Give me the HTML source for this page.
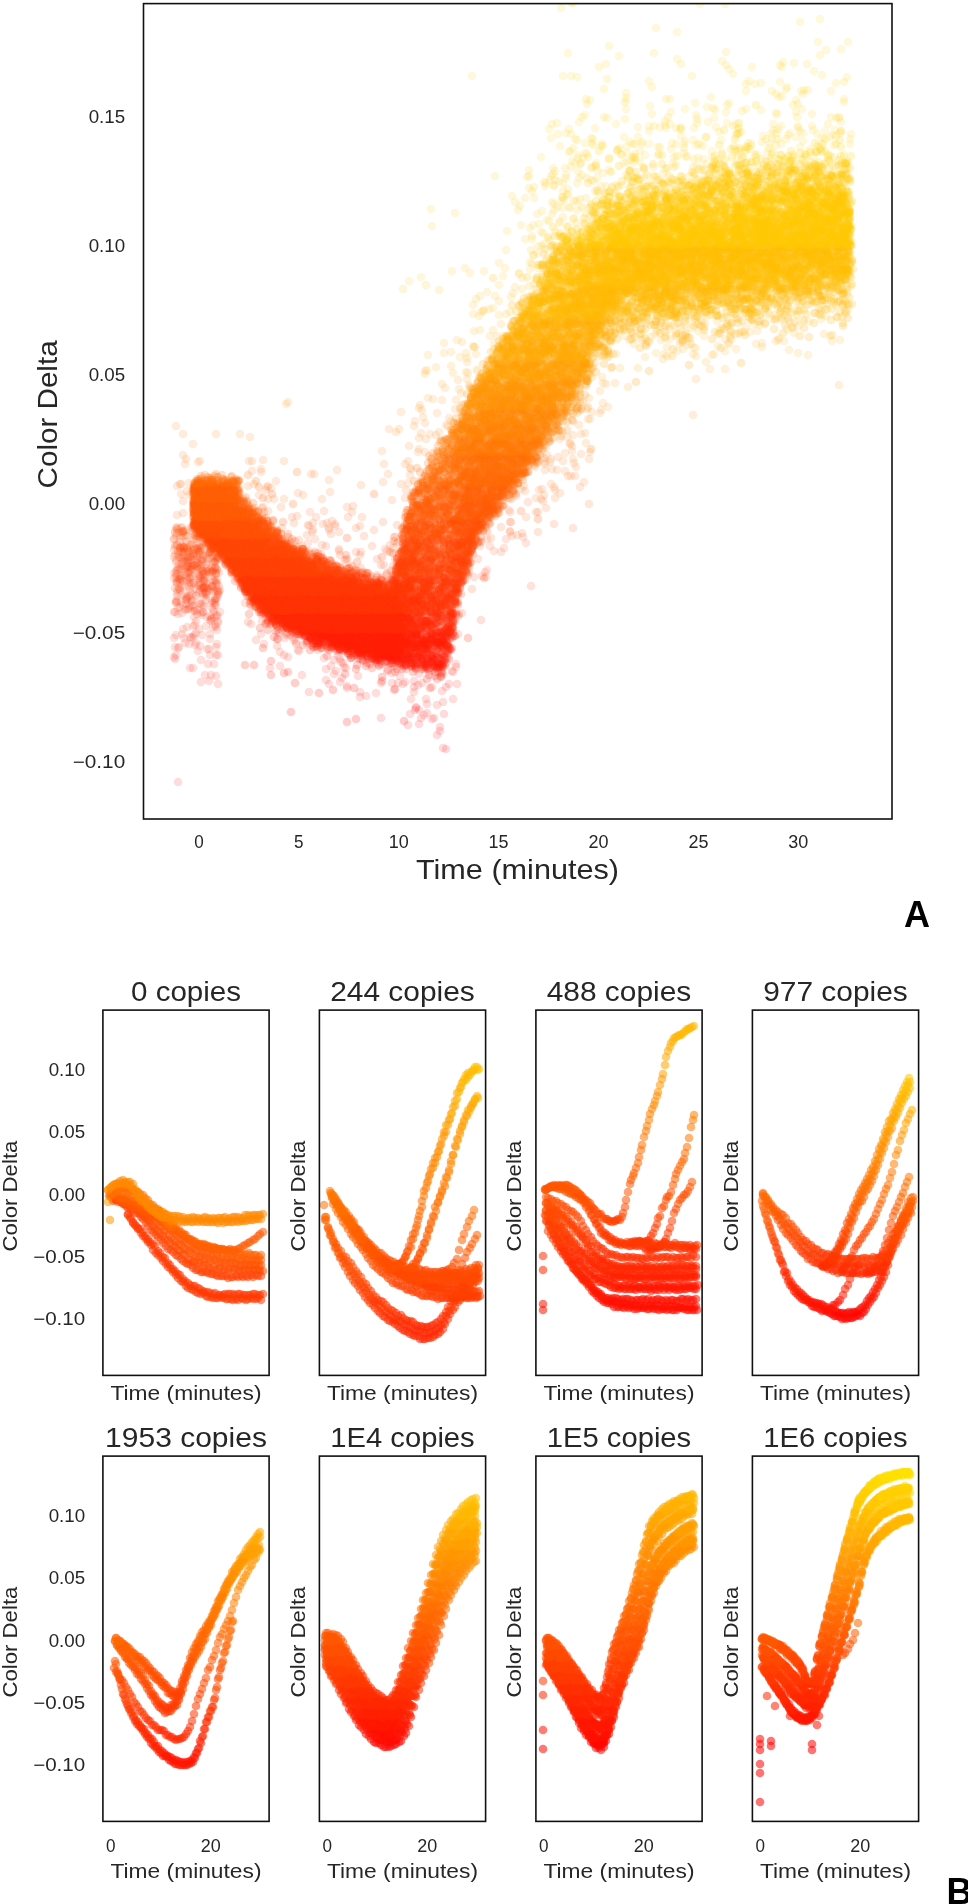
<!DOCTYPE html>
<html><head><meta charset="utf-8"><style>
html,body{margin:0;padding:0;background:#fff;}
svg{display:block;filter:blur(0.5px);}
text{font-family:"Liberation Sans",sans-serif;fill:#262626;}
.tk{font-size:18px;}
.lA{font-size:28px;}
.lB{font-size:21px;}
.ti{font-size:27px;}
.big{font-size:36px;font-weight:bold;fill:#000;}
.fr{fill:none;stroke:#111;stroke-width:1.6;}
.p{fill:none;stroke:none;}
</style></head><body>
<svg width="968" height="1904" viewBox="0 0 968 1904">
<defs>
<clipPath id="cA"><rect x="143.5" y="3.6" width="748.5" height="815.4"/></clipPath>
<clipPath id="c0"><rect x="102.9" y="1010.1" width="166.2" height="365.3"/></clipPath>
<clipPath id="c1"><rect x="319.4" y="1010.1" width="166.2" height="365.3"/></clipPath>
<clipPath id="c2"><rect x="535.9" y="1010.1" width="166.2" height="365.3"/></clipPath>
<clipPath id="c3"><rect x="752.4" y="1010.1" width="166.2" height="365.3"/></clipPath>
<clipPath id="c4"><rect x="102.9" y="1456.1" width="166.2" height="365.3"/></clipPath>
<clipPath id="c5"><rect x="319.4" y="1456.1" width="166.2" height="365.3"/></clipPath>
<clipPath id="c6"><rect x="535.9" y="1456.1" width="166.2" height="365.3"/></clipPath>
<clipPath id="c7"><rect x="752.4" y="1456.1" width="166.2" height="365.3"/></clipPath>
<marker id="a1" markerUnits="userSpaceOnUse" markerWidth="10" markerHeight="10" refX="5" refY="5" overflow="visible"><circle cx="5" cy="5" r="4.30" fill="rgb(255,8,0)" fill-opacity="0.200"/></marker>
<marker id="a2" markerUnits="userSpaceOnUse" markerWidth="10" markerHeight="10" refX="5" refY="5" overflow="visible"><circle cx="5" cy="5" r="4.30" fill="rgb(255,16,0)" fill-opacity="0.200"/></marker>
<marker id="a3" markerUnits="userSpaceOnUse" markerWidth="10" markerHeight="10" refX="5" refY="5" overflow="visible"><circle cx="5" cy="5" r="4.30" fill="rgb(255,24,0)" fill-opacity="0.200"/></marker>
<marker id="a4" markerUnits="userSpaceOnUse" markerWidth="10" markerHeight="10" refX="5" refY="5" overflow="visible"><circle cx="5" cy="5" r="4.30" fill="rgb(255,32,0)" fill-opacity="0.200"/></marker>
<marker id="a5" markerUnits="userSpaceOnUse" markerWidth="10" markerHeight="10" refX="5" refY="5" overflow="visible"><circle cx="5" cy="5" r="4.30" fill="rgb(255,40,0)" fill-opacity="0.200"/></marker>
<marker id="a6" markerUnits="userSpaceOnUse" markerWidth="10" markerHeight="10" refX="5" refY="5" overflow="visible"><circle cx="5" cy="5" r="4.30" fill="rgb(255,48,0)" fill-opacity="0.200"/></marker>
<marker id="a7" markerUnits="userSpaceOnUse" markerWidth="10" markerHeight="10" refX="5" refY="5" overflow="visible"><circle cx="5" cy="5" r="4.30" fill="rgb(255,56,0)" fill-opacity="0.200"/></marker>
<marker id="a8" markerUnits="userSpaceOnUse" markerWidth="10" markerHeight="10" refX="5" refY="5" overflow="visible"><circle cx="5" cy="5" r="4.30" fill="rgb(255,64,0)" fill-opacity="0.200"/></marker>
<marker id="a9" markerUnits="userSpaceOnUse" markerWidth="10" markerHeight="10" refX="5" refY="5" overflow="visible"><circle cx="5" cy="5" r="4.30" fill="rgb(255,72,0)" fill-opacity="0.200"/></marker>
<marker id="a10" markerUnits="userSpaceOnUse" markerWidth="10" markerHeight="10" refX="5" refY="5" overflow="visible"><circle cx="5" cy="5" r="4.30" fill="rgb(255,80,0)" fill-opacity="0.200"/></marker>
<marker id="a11" markerUnits="userSpaceOnUse" markerWidth="10" markerHeight="10" refX="5" refY="5" overflow="visible"><circle cx="5" cy="5" r="4.30" fill="rgb(255,88,0)" fill-opacity="0.200"/></marker>
<marker id="a12" markerUnits="userSpaceOnUse" markerWidth="10" markerHeight="10" refX="5" refY="5" overflow="visible"><circle cx="5" cy="5" r="4.30" fill="rgb(255,96,0)" fill-opacity="0.200"/></marker>
<marker id="a13" markerUnits="userSpaceOnUse" markerWidth="10" markerHeight="10" refX="5" refY="5" overflow="visible"><circle cx="5" cy="5" r="4.30" fill="rgb(255,104,0)" fill-opacity="0.200"/></marker>
<marker id="a14" markerUnits="userSpaceOnUse" markerWidth="10" markerHeight="10" refX="5" refY="5" overflow="visible"><circle cx="5" cy="5" r="4.30" fill="rgb(255,112,0)" fill-opacity="0.200"/></marker>
<marker id="a15" markerUnits="userSpaceOnUse" markerWidth="10" markerHeight="10" refX="5" refY="5" overflow="visible"><circle cx="5" cy="5" r="4.30" fill="rgb(255,120,0)" fill-opacity="0.200"/></marker>
<marker id="a16" markerUnits="userSpaceOnUse" markerWidth="10" markerHeight="10" refX="5" refY="5" overflow="visible"><circle cx="5" cy="5" r="4.30" fill="rgb(255,128,0)" fill-opacity="0.200"/></marker>
<marker id="a17" markerUnits="userSpaceOnUse" markerWidth="10" markerHeight="10" refX="5" refY="5" overflow="visible"><circle cx="5" cy="5" r="4.30" fill="rgb(255,136,0)" fill-opacity="0.200"/></marker>
<marker id="a18" markerUnits="userSpaceOnUse" markerWidth="10" markerHeight="10" refX="5" refY="5" overflow="visible"><circle cx="5" cy="5" r="4.30" fill="rgb(255,144,0)" fill-opacity="0.200"/></marker>
<marker id="a19" markerUnits="userSpaceOnUse" markerWidth="10" markerHeight="10" refX="5" refY="5" overflow="visible"><circle cx="5" cy="5" r="4.30" fill="rgb(255,152,0)" fill-opacity="0.200"/></marker>
<marker id="a20" markerUnits="userSpaceOnUse" markerWidth="10" markerHeight="10" refX="5" refY="5" overflow="visible"><circle cx="5" cy="5" r="4.30" fill="rgb(255,160,0)" fill-opacity="0.200"/></marker>
<marker id="a21" markerUnits="userSpaceOnUse" markerWidth="10" markerHeight="10" refX="5" refY="5" overflow="visible"><circle cx="5" cy="5" r="4.30" fill="rgb(255,168,0)" fill-opacity="0.200"/></marker>
<marker id="a22" markerUnits="userSpaceOnUse" markerWidth="10" markerHeight="10" refX="5" refY="5" overflow="visible"><circle cx="5" cy="5" r="4.30" fill="rgb(255,176,0)" fill-opacity="0.200"/></marker>
<marker id="a23" markerUnits="userSpaceOnUse" markerWidth="10" markerHeight="10" refX="5" refY="5" overflow="visible"><circle cx="5" cy="5" r="4.30" fill="rgb(255,184,0)" fill-opacity="0.200"/></marker>
<marker id="a24" markerUnits="userSpaceOnUse" markerWidth="10" markerHeight="10" refX="5" refY="5" overflow="visible"><circle cx="5" cy="5" r="4.30" fill="rgb(255,192,0)" fill-opacity="0.200"/></marker>
<marker id="a25" markerUnits="userSpaceOnUse" markerWidth="10" markerHeight="10" refX="5" refY="5" overflow="visible"><circle cx="5" cy="5" r="4.30" fill="rgb(255,200,0)" fill-opacity="0.200"/></marker>
<marker id="a26" markerUnits="userSpaceOnUse" markerWidth="10" markerHeight="10" refX="5" refY="5" overflow="visible"><circle cx="5" cy="5" r="4.30" fill="rgb(255,208,0)" fill-opacity="0.200"/></marker>
<marker id="o1" markerUnits="userSpaceOnUse" markerWidth="10" markerHeight="10" refX="5" refY="5" overflow="visible"><circle cx="5" cy="5" r="4.30" fill="rgb(255,8,0)" fill-opacity="0.140"/></marker>
<marker id="o2" markerUnits="userSpaceOnUse" markerWidth="10" markerHeight="10" refX="5" refY="5" overflow="visible"><circle cx="5" cy="5" r="4.30" fill="rgb(255,16,0)" fill-opacity="0.140"/></marker>
<marker id="o3" markerUnits="userSpaceOnUse" markerWidth="10" markerHeight="10" refX="5" refY="5" overflow="visible"><circle cx="5" cy="5" r="4.30" fill="rgb(255,24,0)" fill-opacity="0.140"/></marker>
<marker id="o4" markerUnits="userSpaceOnUse" markerWidth="10" markerHeight="10" refX="5" refY="5" overflow="visible"><circle cx="5" cy="5" r="4.30" fill="rgb(255,32,0)" fill-opacity="0.140"/></marker>
<marker id="o5" markerUnits="userSpaceOnUse" markerWidth="10" markerHeight="10" refX="5" refY="5" overflow="visible"><circle cx="5" cy="5" r="4.30" fill="rgb(255,40,0)" fill-opacity="0.140"/></marker>
<marker id="o6" markerUnits="userSpaceOnUse" markerWidth="10" markerHeight="10" refX="5" refY="5" overflow="visible"><circle cx="5" cy="5" r="4.30" fill="rgb(255,48,0)" fill-opacity="0.140"/></marker>
<marker id="o7" markerUnits="userSpaceOnUse" markerWidth="10" markerHeight="10" refX="5" refY="5" overflow="visible"><circle cx="5" cy="5" r="4.30" fill="rgb(255,56,0)" fill-opacity="0.140"/></marker>
<marker id="o8" markerUnits="userSpaceOnUse" markerWidth="10" markerHeight="10" refX="5" refY="5" overflow="visible"><circle cx="5" cy="5" r="4.30" fill="rgb(255,64,0)" fill-opacity="0.140"/></marker>
<marker id="o9" markerUnits="userSpaceOnUse" markerWidth="10" markerHeight="10" refX="5" refY="5" overflow="visible"><circle cx="5" cy="5" r="4.30" fill="rgb(255,72,0)" fill-opacity="0.140"/></marker>
<marker id="o10" markerUnits="userSpaceOnUse" markerWidth="10" markerHeight="10" refX="5" refY="5" overflow="visible"><circle cx="5" cy="5" r="4.30" fill="rgb(255,80,0)" fill-opacity="0.140"/></marker>
<marker id="o11" markerUnits="userSpaceOnUse" markerWidth="10" markerHeight="10" refX="5" refY="5" overflow="visible"><circle cx="5" cy="5" r="4.30" fill="rgb(255,88,0)" fill-opacity="0.140"/></marker>
<marker id="o12" markerUnits="userSpaceOnUse" markerWidth="10" markerHeight="10" refX="5" refY="5" overflow="visible"><circle cx="5" cy="5" r="4.30" fill="rgb(255,96,0)" fill-opacity="0.140"/></marker>
<marker id="o13" markerUnits="userSpaceOnUse" markerWidth="10" markerHeight="10" refX="5" refY="5" overflow="visible"><circle cx="5" cy="5" r="4.30" fill="rgb(255,104,0)" fill-opacity="0.140"/></marker>
<marker id="o14" markerUnits="userSpaceOnUse" markerWidth="10" markerHeight="10" refX="5" refY="5" overflow="visible"><circle cx="5" cy="5" r="4.30" fill="rgb(255,112,0)" fill-opacity="0.140"/></marker>
<marker id="o15" markerUnits="userSpaceOnUse" markerWidth="10" markerHeight="10" refX="5" refY="5" overflow="visible"><circle cx="5" cy="5" r="4.30" fill="rgb(255,120,0)" fill-opacity="0.140"/></marker>
<marker id="o16" markerUnits="userSpaceOnUse" markerWidth="10" markerHeight="10" refX="5" refY="5" overflow="visible"><circle cx="5" cy="5" r="4.30" fill="rgb(255,128,0)" fill-opacity="0.140"/></marker>
<marker id="o17" markerUnits="userSpaceOnUse" markerWidth="10" markerHeight="10" refX="5" refY="5" overflow="visible"><circle cx="5" cy="5" r="4.30" fill="rgb(255,136,0)" fill-opacity="0.140"/></marker>
<marker id="o18" markerUnits="userSpaceOnUse" markerWidth="10" markerHeight="10" refX="5" refY="5" overflow="visible"><circle cx="5" cy="5" r="4.30" fill="rgb(255,144,0)" fill-opacity="0.140"/></marker>
<marker id="o19" markerUnits="userSpaceOnUse" markerWidth="10" markerHeight="10" refX="5" refY="5" overflow="visible"><circle cx="5" cy="5" r="4.30" fill="rgb(255,152,0)" fill-opacity="0.140"/></marker>
<marker id="o20" markerUnits="userSpaceOnUse" markerWidth="10" markerHeight="10" refX="5" refY="5" overflow="visible"><circle cx="5" cy="5" r="4.30" fill="rgb(255,160,0)" fill-opacity="0.140"/></marker>
<marker id="o21" markerUnits="userSpaceOnUse" markerWidth="10" markerHeight="10" refX="5" refY="5" overflow="visible"><circle cx="5" cy="5" r="4.30" fill="rgb(255,168,0)" fill-opacity="0.140"/></marker>
<marker id="o22" markerUnits="userSpaceOnUse" markerWidth="10" markerHeight="10" refX="5" refY="5" overflow="visible"><circle cx="5" cy="5" r="4.30" fill="rgb(255,176,0)" fill-opacity="0.140"/></marker>
<marker id="o23" markerUnits="userSpaceOnUse" markerWidth="10" markerHeight="10" refX="5" refY="5" overflow="visible"><circle cx="5" cy="5" r="4.30" fill="rgb(255,184,0)" fill-opacity="0.140"/></marker>
<marker id="o24" markerUnits="userSpaceOnUse" markerWidth="10" markerHeight="10" refX="5" refY="5" overflow="visible"><circle cx="5" cy="5" r="4.30" fill="rgb(255,192,0)" fill-opacity="0.140"/></marker>
<marker id="o25" markerUnits="userSpaceOnUse" markerWidth="10" markerHeight="10" refX="5" refY="5" overflow="visible"><circle cx="5" cy="5" r="4.30" fill="rgb(255,200,0)" fill-opacity="0.140"/></marker>
<marker id="o26" markerUnits="userSpaceOnUse" markerWidth="10" markerHeight="10" refX="5" refY="5" overflow="visible"><circle cx="5" cy="5" r="4.30" fill="rgb(255,208,0)" fill-opacity="0.140"/></marker>
<marker id="s0" markerUnits="userSpaceOnUse" markerWidth="10" markerHeight="10" refX="5" refY="5" overflow="visible"><circle cx="5" cy="5" r="4.30" fill="rgb(255,0,0)" fill-opacity="0.55"/></marker>
<marker id="s1" markerUnits="userSpaceOnUse" markerWidth="10" markerHeight="10" refX="5" refY="5" overflow="visible"><circle cx="5" cy="5" r="4.30" fill="rgb(255,8,0)" fill-opacity="0.55"/></marker>
<marker id="s2" markerUnits="userSpaceOnUse" markerWidth="10" markerHeight="10" refX="5" refY="5" overflow="visible"><circle cx="5" cy="5" r="4.30" fill="rgb(255,16,0)" fill-opacity="0.55"/></marker>
<marker id="s3" markerUnits="userSpaceOnUse" markerWidth="10" markerHeight="10" refX="5" refY="5" overflow="visible"><circle cx="5" cy="5" r="4.30" fill="rgb(255,24,0)" fill-opacity="0.55"/></marker>
<marker id="s4" markerUnits="userSpaceOnUse" markerWidth="10" markerHeight="10" refX="5" refY="5" overflow="visible"><circle cx="5" cy="5" r="4.30" fill="rgb(255,32,0)" fill-opacity="0.55"/></marker>
<marker id="s5" markerUnits="userSpaceOnUse" markerWidth="10" markerHeight="10" refX="5" refY="5" overflow="visible"><circle cx="5" cy="5" r="4.30" fill="rgb(255,40,0)" fill-opacity="0.55"/></marker>
<marker id="s6" markerUnits="userSpaceOnUse" markerWidth="10" markerHeight="10" refX="5" refY="5" overflow="visible"><circle cx="5" cy="5" r="4.30" fill="rgb(255,48,0)" fill-opacity="0.55"/></marker>
<marker id="s7" markerUnits="userSpaceOnUse" markerWidth="10" markerHeight="10" refX="5" refY="5" overflow="visible"><circle cx="5" cy="5" r="4.30" fill="rgb(255,56,0)" fill-opacity="0.55"/></marker>
<marker id="s8" markerUnits="userSpaceOnUse" markerWidth="10" markerHeight="10" refX="5" refY="5" overflow="visible"><circle cx="5" cy="5" r="4.30" fill="rgb(255,64,0)" fill-opacity="0.55"/></marker>
<marker id="s9" markerUnits="userSpaceOnUse" markerWidth="10" markerHeight="10" refX="5" refY="5" overflow="visible"><circle cx="5" cy="5" r="4.30" fill="rgb(255,72,0)" fill-opacity="0.55"/></marker>
<marker id="s10" markerUnits="userSpaceOnUse" markerWidth="10" markerHeight="10" refX="5" refY="5" overflow="visible"><circle cx="5" cy="5" r="4.30" fill="rgb(255,80,0)" fill-opacity="0.55"/></marker>
<marker id="s11" markerUnits="userSpaceOnUse" markerWidth="10" markerHeight="10" refX="5" refY="5" overflow="visible"><circle cx="5" cy="5" r="4.30" fill="rgb(255,88,0)" fill-opacity="0.55"/></marker>
<marker id="s12" markerUnits="userSpaceOnUse" markerWidth="10" markerHeight="10" refX="5" refY="5" overflow="visible"><circle cx="5" cy="5" r="4.30" fill="rgb(255,96,0)" fill-opacity="0.55"/></marker>
<marker id="s13" markerUnits="userSpaceOnUse" markerWidth="10" markerHeight="10" refX="5" refY="5" overflow="visible"><circle cx="5" cy="5" r="4.30" fill="rgb(255,104,0)" fill-opacity="0.55"/></marker>
<marker id="s14" markerUnits="userSpaceOnUse" markerWidth="10" markerHeight="10" refX="5" refY="5" overflow="visible"><circle cx="5" cy="5" r="4.30" fill="rgb(255,112,0)" fill-opacity="0.55"/></marker>
<marker id="s15" markerUnits="userSpaceOnUse" markerWidth="10" markerHeight="10" refX="5" refY="5" overflow="visible"><circle cx="5" cy="5" r="4.30" fill="rgb(255,120,0)" fill-opacity="0.55"/></marker>
<marker id="s16" markerUnits="userSpaceOnUse" markerWidth="10" markerHeight="10" refX="5" refY="5" overflow="visible"><circle cx="5" cy="5" r="4.30" fill="rgb(255,128,0)" fill-opacity="0.55"/></marker>
<marker id="s17" markerUnits="userSpaceOnUse" markerWidth="10" markerHeight="10" refX="5" refY="5" overflow="visible"><circle cx="5" cy="5" r="4.30" fill="rgb(255,136,0)" fill-opacity="0.55"/></marker>
<marker id="s18" markerUnits="userSpaceOnUse" markerWidth="10" markerHeight="10" refX="5" refY="5" overflow="visible"><circle cx="5" cy="5" r="4.30" fill="rgb(255,144,0)" fill-opacity="0.55"/></marker>
<marker id="s19" markerUnits="userSpaceOnUse" markerWidth="10" markerHeight="10" refX="5" refY="5" overflow="visible"><circle cx="5" cy="5" r="4.30" fill="rgb(255,152,0)" fill-opacity="0.55"/></marker>
<marker id="s20" markerUnits="userSpaceOnUse" markerWidth="10" markerHeight="10" refX="5" refY="5" overflow="visible"><circle cx="5" cy="5" r="4.30" fill="rgb(255,160,0)" fill-opacity="0.55"/></marker>
<marker id="s21" markerUnits="userSpaceOnUse" markerWidth="10" markerHeight="10" refX="5" refY="5" overflow="visible"><circle cx="5" cy="5" r="4.30" fill="rgb(255,168,0)" fill-opacity="0.55"/></marker>
<marker id="s22" markerUnits="userSpaceOnUse" markerWidth="10" markerHeight="10" refX="5" refY="5" overflow="visible"><circle cx="5" cy="5" r="4.30" fill="rgb(255,176,0)" fill-opacity="0.55"/></marker>
<marker id="s23" markerUnits="userSpaceOnUse" markerWidth="10" markerHeight="10" refX="5" refY="5" overflow="visible"><circle cx="5" cy="5" r="4.30" fill="rgb(255,184,0)" fill-opacity="0.55"/></marker>
<marker id="s24" markerUnits="userSpaceOnUse" markerWidth="10" markerHeight="10" refX="5" refY="5" overflow="visible"><circle cx="5" cy="5" r="4.30" fill="rgb(255,192,0)" fill-opacity="0.55"/></marker>
<marker id="s25" markerUnits="userSpaceOnUse" markerWidth="10" markerHeight="10" refX="5" refY="5" overflow="visible"><circle cx="5" cy="5" r="4.30" fill="rgb(255,200,0)" fill-opacity="0.55"/></marker>
<marker id="s26" markerUnits="userSpaceOnUse" markerWidth="10" markerHeight="10" refX="5" refY="5" overflow="visible"><circle cx="5" cy="5" r="4.30" fill="rgb(255,208,0)" fill-opacity="0.55"/></marker>
<marker id="s27" markerUnits="userSpaceOnUse" markerWidth="10" markerHeight="10" refX="5" refY="5" overflow="visible"><circle cx="5" cy="5" r="4.30" fill="rgb(255,216,0)" fill-opacity="0.55"/></marker>
<marker id="s28" markerUnits="userSpaceOnUse" markerWidth="10" markerHeight="10" refX="5" refY="5" overflow="visible"><circle cx="5" cy="5" r="4.30" fill="rgb(255,224,0)" fill-opacity="0.55"/></marker>
</defs>
<g clip-path="url(#cA)">
<path class="p" style="marker:url(#a1)" d="M404 721M347 722M291 712M356 719"/>
<path class="p" style="marker:url(#a2)" d="M354 688M333 690M395 689M382 681M295 683M319 693M430 688M427 679M437 679"/>
<path class="p" style="marker:url(#a3)" d="M356 669M254 665M366 666M372 668M368 659M360 654M327 656M362 654M345 674M245 665M419 656M385 662M393 663M288 672M284 673M372 655M400 655M396 656M367 656M383 655M392 660M400 659M416 669M357 665M381 656M391 657M378 655M391 656l6-1M384 655M401 654M351 658M377 654l5 23M396 658l6 4 5-7M432 656M432 655l4 2M351 658M382 654M411 654M389 657l6 1M434 659M357 655M430 654M386 655M395 655M430 661M439 659M392 655M406 655l6 2M423 661l5 0 6-1 2-6 6 9M367 657M376 660l6-6 5 7 4 3 6-3 4 2 6-4 4 0 6-2 4-2 5 10 6-6 5-3M374 654M384 655M406 658M428 659l6-5 6 4M379 657l2 1M438 658M388 657l4-2 5 3M411 654M422 655M432 658l5 5 5-3M393 654M403 659l4 1 5 3 6-6 5 2 4 5 6 1 5 0 3-6 6-1M363 660l4 3 5-4 5-1 6-2 4 1M399 661l3 8 3-9 6 5M423 665l3-6 8 5 3-6 5 9M401 656M411 658M426 665l5-8 4 10 6-2 3-8M271 675M366 655l4 9M384 656l7 0 3-1 6 9 4-6 6 2 5 5 6-6 4 8M435 665l3-2 7 3M375 659M383 658l7 5 2-5M404 666l4-10 5 7 6-7 5 8 4-6 4 4 7 2 5-9 5 4M409 655l6 5 4-5 5 14M435 672l5-6 3-12M376 657M386 662l5-2 5 0M406 669M421 665l5-10 5 7 7 10 3-6 4-8M271 661M361 659M374 656l3 7 5-8 6 2M397 661l5-5 6 1 5 0 4 6 6-7 4 11 5-11 5 11 4-3M378 659M393 654l5 9 4-4 5 6 6-1 3 4 7-5 4-2 4 1 8 3 3 7M379 660l6-4M393 659M408 660l5-2 5 5 4-4 6 5 5-3 5 6 5 0M350 655M371 656l4 4 6 1M395 658l5-2 5 6 6 4 4-1 6-2 5 5 4 0 5-1 6 10 3-16M375 657l5 1 5-2 5 0 4 10 6-10 5 8 5-1 6-5 4 3 5-5 4 19 6 1 6 0 4-16M353 656M368 657l5 1 6 7 3-1M394 660l3 9 8-4 5-2 3 9 3-12 7 7 6 4 5-5 3 2 6-4M361 656l5-1 6 3 4 3M388 670l3-13 4 15 7-9 4 2 6 2 3 0 6 2M433 664M441 673l5-10M379 655M389 656M398 657l5 1 7 0 5-3 3 9 6-3 4 8 5-1 6 0 4-3"/>
<path class="p" style="marker:url(#a4)" d="M391 638M406 636M392 634M376 652M374 638M391 631M304 636M443 637M355 647M374 632M310 650M386 631M374 632M391 636M377 632M374 630M384 635M386 634l3 0 7-2M328 644M373 645M385 631M389 631M338 647M385 632M379 632M376 634M401 634M367 632l4 3M392 631M384 635M375 635M391 634M381 638M391 633M369 636l7 0M385 634M373 631M394 643M443 634M377 635l5-3M392 640l3-2M350 633M366 631M380 631M376 637M385 630l6 3M359 630M384 631M367 631l5-1 5 1 5 3 6 1 3-1M349 631M363 635l6-1 5-3 4 11M388 632l6 7M352 630M369 631M377 632M386 636l7-4M382 640l4-6M380 636l6-1 5-4M344 640M379 635l4-1 5-4M373 634l7-2 5 1 4 1M371 636l5-3M387 637M357 633M377 637l6 1 4-1 6-6M384 643l5-7M313 643M348 639l6-7 6 4 4-3 6 7 4-6 5 7 7-2 3-4 5 6 6-4M339 639l7-5 3 0 4-1 6 0 5-1M375 643l4 2 5-11 4 3 6 1 6-6M351 634l6 0M366 630l6 9 4-2 6-1 3 6M396 637M373 630l5 1 4 1M393 632l4 3M406 637M357 630l6 1 5 3 4-1 6 5 5-1 4-6 7 8M363 631l3 0M381 632l7 2 2-1M366 632l5 2 5 2M432 640M364 635M385 635l5 0M400 634M380 638l5-3 6-2 4 1M314 636M361 631M374 636l6-5 5 13M394 635M345 634M359 634l5-2M379 634l5 4 5 0M365 636l7-2 5 2 5-1 3 6 6 3 6-9 5-2M344 631M374 633M383 633l6 0 3 6M362 633M371 632M382 637l4-2M396 638M358 637l3 0 6-4 5-1 4 7 7-5 4-2 4 13M367 631l4 0 6 7 5-6 4 0 6 9M334 638l6-4 6 2 4 0M361 636M370 632l5 1 6 11 6-1 2-9 5 3 6 0M373 635l6 0 5-1M393 635M346 639M359 633l6 3 5 5 5-3 5-7 4 2 7 9M399 639M343 637M351 631l6 5 5-1M373 636l5 4 4-8 5 7 6 0M329 631M345 634M360 640l5-7M375 633l5-1M396 641M336 634M349 634l6-2 5 3M371 640l3 2 5-4 4 7 6-5 6-1M404 631M338 631l7 0M354 631l5 4 5 2 5 7 5 0 5-6M389 649M398 633l7 11 3-11M341 635l5 3 5 8 5 0 6-8 3-5 8 21 3-11 5 2 5 1 5-3 5 0 6-11M330 640M340 632l5 4M352 636l7 1M371 636l4-4 4 7 4-5 7 16 4-7 4-8 5 1M438 633M336 636M346 630l5 6 6-5 4 2 5 7 3-6 7-3 6 6 4 9 5-1 3-13M263 648M338 633M352 633M363 642M372 635l7 7 4-3 4-2M402 631M354 631l5-1 5 4M373 636l5 3M388 643M399 635M414 632M341 634M353 640l4-7 5 3 4-1 5 11 4-6 6 9 5-8 5 4 4-4 6-5 6-4 4 2M431 633M339 637l4-3 5-2 6 4 3-1 5-2 6 4 5 1M382 641l7 5 4-10 4-4M408 633M332 632l5 13M353 637l4-3 3 4M373 637l4-1 5 5 6-3 5-2 3 1 6-4M427 631M334 633M348 634l4 6 7 1 3-4 5 8 5-6 6 7 4-4 5 3 6 5 5-7 4-9 6 0 3-2 6 1 6 9 4-6 5-2 5-2 5 0M327 632l4-1M340 635l7 0 4 6 4-5 6-1 6-3 4 2 5 0 5 12 4-12 4 7 7-7M332 634l4 1 7-3 5-2 3 4 6 0 5 13 7-6 2 0 6 6 5-3 5 8 4-6 6-9 4 9 7-3M416 635l6-2M432 631M323 634M335 641M350 638l4 0 6 6 6-7M375 643l4 3 6 1 3-1 6 2 6 2 4-13M415 634l4 5 7 1 4 0 6-2 4-7M321 631l5 3M335 633M348 631l4 8 4-3 5 4 5-3 3-3 5 5 8 8 4-6 4 1 5-4 7 1 5 5 4-7 6 7 5-11M431 633l6-1 4 4 5-2M326 630l5 4 6 3 5 6 4 0 5-6 4 7 7 0 5-2M376 645l4-5 6 4 5 4 6-1 5-11 5 2 3-4 6-3 4 3M430 633l7 12M334 636M351 637l3-3 6 4 5-1 4 6 6-3 5 7 4 0 7 1 3 2 5-7 5 3 5-6 3-7 7 11 6 4 4-3 5-2 5-2 7-4M331 631M340 638l7-2 4 3 5-2 6 1 4 2 5 7 5-8 5 0 4-1 7 9 5-7 4 2 5-3 6-5 4 0M426 638M440 633M345 634l6-3 4 3 6 6 5 0 6 6 2-3 7 2 4-4 5 7 6 5M405 644l5 1M420 635l7 14 4-9 4-4 6 9M320 637l5 2 4-7 6 7 5 0M350 642l5-7 5 3 5-2 5 11 6-3 4-4 5 7 4 5 5-7 7 5 5-7 4-6 6-1 4-5M428 647l7-14 5 4 5-3M327 631M336 631l6 0 4 4 5 5 6 0 4 5 5-1 5 7 5 1 5-6 6-5 3 3M401 641l6-5 4 5 5-6 6 8 4 2 6-11 4 0 6-1 4 3M337 631l6 1 5 0 4 4 5 2 5-6 5 8 6 8 4-6 5 3 4 1 6 0 4-3 7-2 5-8 6 3 4 4 5-9 3 6M443 631M322 633l5 0 5 0 6 8 4-8 6 11 5 4 4-3 5 1M370 643l9-6M386 647M397 648l5 3 5-5 6-5 4-7 6 6 3 5 6-4 5 0 5-5M309 631M344 635M354 636M364 635l5-1 4 7 5-1 5 1 4 3 7-8 5 1 3 2 5 1 7-8 3 2 5 5 4 1 6-3 8 7 3-4M320 633l4 4 6-2 5 4 6-6 4 14 4 0 6-2 4 5 5-7 7 6 5 0 4 1 4 2 6-4 5 0M406 642l6-2 3-4 6 5 3-1 6-3 4 0 5-5 5 0M316 637M326 631l6-1 3 7 7-2 4 14 5-8 7 7 4-5 5-1 5 6 4-5 7 5 4 3 5-1 6 1 4-12 5 4 5-4M422 641l4 2 6 0 3 3 7-6M311 640l6-9 6 0 4 5 7-3M341 631M352 636M366 644l6-2 6-7M388 647l4 0 5-5 4-2 6 6 4-12 5 1 6 3 6-3 3 8 7-5 5 2M305 635M320 634M331 634l4 4 3 0 7-2 5 9 5-2 6 5 4 3 7-11 4 2M386 645M394 641l7 11 6-8 3-4 5 6M424 649l6-17 5 9 4 7M274 637M333 636l5-4M349 640l5-5 5 8 4 1 6 6 4-5 5-4 5 7 6 2 4 1 5-7 6 1M414 644l7-1 2 4 6-11 5 5 5 2 5 1M312 631M331 630M343 644l5-5 5-8M361 637l6 9 6-2M382 652l5-7 7 0 3-5 6 9M413 648l3-4 8 2 3-7 5 1 6-4 3 3M305 631l6 1 4 3M326 633l6-1 5 8M347 639l5 1M362 646l5 4 3-1 6-1 5-9 5 9M401 650l5 3 5-8 4-1 7 4 5 1 4-6 5 7 6-4 3-11M308 631M316 631l5 0 6 2 6 9 3 1 7-6 4 3 5 6 4-5 7 6 5-3 5 1 5 7 3 1 7-5 5-3 3 5 5-10 6 2 5 1 5-7 3 5 7 2 5-4 5-2 5 5 6-10M320 630M330 636M345 632l5 3 5 1 5 4 4 5 5-4 3 11 8-6M395 650l4-5 4-4 6 9 6-7 5 1 4-3 6-2 5 3 2 1 6-2 6-8M328 635l8 5 4-5 4-3 6 15 6-4 3 4 6-1 4-5 6 5 5-6 4 6 7 1 3 3M404 642l4 0 7 5 4 0 5-4 5 6 6-8 4 5 4-4M309 633M318 633l5 0 6 1 4 0 6 6 4 5 6 3 5-14 4 10 5-2 5-2 6-2 5 6 3 0 8 0 3 1 4 6 7-13 4 2 5 3 5 3 6-1 4 3 6-2 4-3 4-1 5-10M301 635M313 636l3 5 6 7M331 643l7 1 4-4 4 6M359 652l3-8 6 4 5 5M386 650l6 2M412 644l5-5 5 1 5 5M438 642l4 5 5-11M302 631l4-1 6 2 4 9 6-5 8 2 3-3 3 9 9-1 2 6 4-13 5 16 5-6 5 7 5 0 5-3 5 2 5 0 6-3 5-3 5-4 4 10 4 1 7-14 5 9 5-2 5 3 5 2 5-5 6 0M276 631M306 632M316 633l5 5 5-5 5 4 4-2 5-5 6 6 5-1 6 4 4 9 6-9 5 2 4 2 4 1 6 2 5 5M400 649l5-4 5 2 6-3 4 2 6 3M440 643l6-4 4-7M307 643l3-6 7 4 5-4 4-4 5 6 5 2 5 3 5 0M355 640M366 646l5 1 5-8M387 644l3 1 6 8 5-11 4 2M416 647l6-2 4 6M436 643l5 4 5-2M309 636l5 11 6-4 4-2 5-5 6 9 4 5 4-8 5 12 5-3 5 2M368 648l5 1 4 1 7 0M399 651l4 3 7-2 4-4 4 4 6 1 6-3M438 648l7-3 3-1M316 644l5 1 4-9 6 7 4 0 5 6 4 1 7-8M360 648l5 1 4-7 6 5 7 5 5-2 3-5 5 6 5-5 8 4 3-9 3 6 6 6 5-10M435 630l5 13 4 0M310 632l5-1 6 3M331 633l4 5 6-1 3 5 7-6 5 8 4 1 6 5 5-10 5 11 3 2M390 649M400 643l6-2 4 9 5 3 6-1 5-11M435 646M445 643l5-12M322 634l4 3 7 1 3-4 8 3 4 6 6 3 3 1 6-11 5-1 5 10 4 7 5-6 6 7M399 650l4 3M418 648M448 651M318 633l4 0 4 3 6 2 3 4 7-5 4 3 5 4 7 2 3-4M373 653M441 654l6-8 4-11M323 633l6-1 5 4 4 0 7-1 3 9 6-9 5 12 3 2 6 4M377 651M390 649l5-1 3 0M410 646l4 7 3-6 7 6M443 651l6-12M308 636l3 1 6 6 5-4 6 8 4-6 6 7 6-9 4 6 4 1 5 4 6-7 5-5 6 6M388 649l4-3 7 5 5-5 3 1 5 0 5 0 6 0 5-3 5 8M441 652l6-7M321 631l7 4 3-2 7 7 4-3 5-5 6 8 3-4 7 16 5-13 4 8 5-1 5 6M402 647l6 6M418 653M427 652M446 651M292 632M314 634l4 6 3-3 7-2 4 7 5 4 5 1 4-13 6 12 5 3 4 4 7-5 5-2 3 4 7-10M398 649M452 638M312 637l5 9 4-12 8 0 3 4 6 6M348 653l4-12 5 7M393 654M417 650M447 645l4-8M296 634M306 636M314 640l5 1 6-8 7 4 3 0 6-4M349 637l6 9 6-10 5 7 6 6 4 3 4 0 4-3 8-2 2 5M406 650M414 648l5 4M449 647M310 638l5-2 4-3 6 3 5 11 5-1 6 2 5 1 4 2 6 3 3-4M375 647l5 6M450 649M268 630M313 632l6 2 4 7 5-6 5 1 5-1 5 7 5 2 4-5 6 2 5 10 6-2M377 649M398 652M314 632l7 5 2-3 7 3 5-3 4 0 5 8 5 0 6 1 4 3 6 4 5-5 4 5 6 0 5 3 4-1 5-3 6 3 6-1M428 653M448 637M301 634M317 631l4-1 5 6 5 6 5-2 4-7 6 1M355 650l7 0 3-5 7 5M381 652M401 653M411 651l5 0M451 631M277 639M297 631l6 2 4-1 5 13 6-14 4 6 5 11 6-7 5 3 5 4 5-1 5 2 4 0M369 651M394 635M447 642l6-8M287 633M299 632l4 13 4-4 4-2 8 4 2 5 8 2 5-11 3 12 6-6 6 3 4 5 6-1 2 0 7 1 4-2M384 650l3 2M446 653M303 632l5-1 5 16 4-12 8 5 3-3 4 9 7-9 4 2 5-1 4 5 7 4 5-7 4 6 5 4M389 649M398 653l5-4M448 653l5-21M468 638M300 631l5 6 6 1 6 9 3-4 5 2 6 3 5 1 4 1 5-14M356 632l6 21 3-1M386 635l5 18M451 650M291 630M311 638l6-4 4 2M331 632l5 10 4 7 5-1 3-2 8 4 4-5 4 7 6-4M450 648M298 634l5-4 7 9 4-5M324 642l5 1 4 1 6-3 4 10 6 0M359 643l4 8M388 652M449 650l5-14M297 630M312 631l4 9 6-4 6 6 5-4 4 8 5-3 5-3 5 0 6 11M382 653M452 648M279 633M295 632l4 2 4-3 5 10 6 2 5-2 4 3 6-5 3 8 7-3 5-1 4 8 7-6 4 8 5-5 5-3 4 6M383 652M393 653M448 649l7-13"/>
<path class="p" style="marker:url(#a5)" d="M367 619M335 623M281 615M349 628M389 612M377 613M385 613M332 613M372 612M362 612M378 612M371 613M386 614M372 612M382 614l5 3 5-1M372 615l4 11 4-12 6 3M370 613M388 616M337 613M378 620M386 618M366 613M374 613M385 617l6-3M390 612M379 616M283 617M382 615M350 613M365 615l6-2M379 618l5-1 5 2M358 612M369 613M384 617l3-5M361 613l3 0 5 4 6-2 4 2 7-2 4 7M370 618l6-5M387 613l4 3M361 619M371 615M381 620M391 618M373 615l6-1 5 2 5-1M355 614M381 618l5-6M360 621l3 1 5-7 5-1 6 7 5-1 5 9 8-15M361 616M376 616l6 4 3-5 6-2M365 615l6-1M380 617l4 2 5-4 7-3M347 615M362 617l5 1 5 1 4 4 5-9 5 14 6-15M354 612l5 2 4 4M375 612l5 8 3 1M395 617M361 616l5 3M381 614l5 9 5-8 6-2M377 616l5 3 6-7M330 612M339 615M357 612l2 7M369 618l6-3 6 1 5 2 4-1M349 613l6 0 5 5 6 2 4 2 6-7 4 7M390 615l6-2M364 616M385 616l4 1 5-4M346 618M358 617l4-2 7 7 4 0 4-3 6 1 4 4 5-4M337 617M366 617M376 614l6 6 4-8 6 4M339 614l4-1M360 619l3-7M373 617l7 2 5-1 3 3M373 620l5-3 7 1M347 616l6 3 5-4M368 620l5-1 4 4 6-5 6 3 5 0M337 612l8 3 4-3 5 4M364 629M374 616l4 7M388 620l6 1M314 614M330 613M355 616M366 612l5 4 5 6 6 1 4-3M396 620M350 615l5 4M361 614M373 618l6 7 5 0 7-3 2-3M340 612M351 613l6 1 4 3 6-5 3 3 5 4 3-6 8 14 4-3M332 612M364 613l6 0 3 2 6 8 5-2 6 0 4-3 5-6M352 612l5 12 5-11 6 10 5-3M382 622l6-1M398 616M356 623l6-6 5-1 5 4 5 0 5 1 6-3 4 1M362 616M372 625l4-4 6 2 5 5 3-13 6 10M350 612M361 613M371 620M380 616l6 10 6-2 3-9M326 616l3-3 6 6 6 0 4 3M355 615l5 4 6 5 4-5 5 0 6 7 4 0 6-4 4-7M296 621M346 612M362 615l4 2 6-1M382 614l4 5M344 615l6-3 4 13 5-4 7 4 3-4 4 7 7 0 4 2 6-2 7-10M334 613l7 3 4-2 3 8 8-1 3-9 6 11 4-1 6 4 6 2M391 624l5 4M345 616l8 1 4-1 7-3 5 3 3 2 5-2M392 615M346 613M356 618l4 0 5 8 5-1M381 629l4 1M395 628l6-11M323 614l7-1 4 8M344 615l4-3M358 624l6 5 6-2 3-4 6 7 5-5 5-3 5 7 4-14M319 612M329 613l6 0M344 624M355 612l3 8 6-2 6 7M384 620l5 3 4-9 6 7M329 615l5-3 5 7 5 1 5-3 4 4 5 1 5-2 6 9M379 627M389 625l4 2 6-2 3-10M329 614M344 615M364 617l5 9 6-13 5 5 5 7 5-7 4-4M348 622l5-1 6-2 5 4 5 6 6-8 4 6M398 618M338 613l5 1 5 1 4 6 6-8 4 7 6 0M378 619l5-2 5 13M398 617M329 613l6 4 5 0 4-5M356 626l4-4 5-1 6-4 4 10 5-5M389 628l6-2 3-14M331 614l5 0 5-2 7 11 5-6 5 6 3-5 6 6 5 3M383 625l5 0 5 2 4-14M325 618M334 615M343 618l5-3 5-3 4 7 5 2 6-3 6 7 4 4 5-7M393 623l5-7M325 617l6-5M345 624l5-11 5 3 4-3 6 14 5-1 5 0 5-7M392 627l4 2 4-14M335 618l6-5M350 620l4-8 5 8 7-2 4 3 6 4M386 622l4 8 6-10 5-5M345 616l5 0 5 3 5 5 3-9 7 10M381 628l4-2 5 1 4-6M326 619l4 0M341 614M353 622l2 0 6-1 4 6 5-11 6 7 4-1 7 3 5-3 4-7M337 613l3-1 6 12 5-7 4 11 5 0M377 621l3 8 6 1M396 626l6-13M312 612M332 620l7-2M347 620l7 0 5-1 4 3 7 5 4 1 5 1M389 624l5 1 6-11M315 619l5-3 4-1 7 4 5-3 4 2 5 4 5 1 6 3 4-1 5 2 5 3M381 628l4-8M395 624l5-6 6-5M318 614l5-1 4 3 6-1 3 5 6-1 6 4 3-5 4 1 8-3M372 620l4 8M387 629M398 622M315 612l5 1 5 1 6 0 4 0 6 8 4 1 6 1 3 4 4-6 8 3M380 622M391 627l2-1M316 612l7 5 4-1 5-3 6 7 6 5 3-6 6 10 6-12 3 2 6 9M378 624l3 5 6-4M399 622M326 613l5-1M340 616l6 1 4 1 6 1 4 6 4 1 7 3M386 627M401 615l4 2M309 612l5 4M326 614M336 622l4-7 5-2M355 625l6 0M370 627l5 0M385 627l5 1M400 618l4-5M326 612M335 618l5 3 5 1 6-4 5 6 4 4 6 0 4-2M381 620M396 625l4-6M318 615l5-3M335 617l3 1 6 7 5-11 5 7M364 618l5 7 5 0 5 4M390 626l4-2 5 1M296 623M318 612l3 5 6 5 5 1 5-5 6 9 5-4 4 1 4 6 6-1M396 624l6-7 4-4M320 615l4 5 5 6 4 4 6-6 6 3M355 623l4 6M383 630M399 625l5-8M308 615l3-2 6 7 5-5 6 6 3-8 6 9 4 8 6-3M358 627l5 2M371 625M382 626M399 625l1-11M310 618l7 3 2-3 8-4 5 7 4 4 6-4 4 5 6-3 5-9 5 13 5-2 4 5 6 0M391 624l6-3 3-4 7 3M304 613M320 613M335 615l6 2 4 5 5-2 5 4M366 623l4 6 4 1M393 630l8-17 4 1M315 612M323 620l6-1 4 3 6 1M354 626l5 4 4-1 6-4 2-2M392 625l5-10 6 2M334 615M343 618l5-1 5 10 6 1 5-9 6 7M393 628M404 627l4-13M418 629M302 612l4 8M322 625l5-11 4 2 8 2 2 3 6 6 4 0 6 0 5-6 6 9M381 629M392 628l4-9 6-3M329 612l4 4 5 4 4 1 6 5 4-10M365 624l5 5 2 0M397 621l6-3 6 0M318 616l5 0M333 619l5 3 5-4 6 1 5 1 5 6 5 1 4-3 6 5 5-5M393 630l5-4M319 616l5 5 5 4 5 2 5-7 6 10M405 617M413 613l6-1M295 613M304 612M312 612l7 9 6-1 4 2 5 7M368 630M404 618M260 628M316 612l5 0 4 1M336 627l5-6 5 2M360 630M389 629M402 628l2-8M422 617M312 620l6-4M327 615l4 4 6-6 5 10 5-4 5 5 5-8 5 2 5 10M387 624M401 619M317 615l5 5 6 1 5 3 6-1 4-4 4 6 4 1M402 629l5-11 5-1M303 616l4-4M317 621l5-7M331 615l5 3 5 11 5-3 4 2 6 1M373 625l3-3M397 628l5 1 4-11 5-1M431 612M308 618l4 1 7-6 3 0 5 7 6-8 4 16 5-9 4 2 7 0 5 0 4 1M383 628l4 0 5-5 5-1 6-4 4-1M314 614l6 1 4 5M335 617l5 4 2 9 7-5 3-8 7 10M370 621l4 7M394 630M402 627l8-8M306 613M317 623M330 621l5-1 5 0 4-1 6-3 6 10 4-1 6 3 6-1 4-2M400 628l6-2 4-5 6-9M426 618l5-6M296 615M304 617l6 1M320 614l5 11 6-12 4 7 5 8 6-3 4 4 4-8M366 625l5-2M391 627M400 624l5 3M420 614M310 615M319 616l5-2 6 5 5-6 3 11M350 619l5 1M370 629l3 1M395 625l5 0 5-3 4-3 6 0 4-5M430 617M307 612l5 6 4-5M331 612l6 13 4-2 4-2 7 9 5-10M406 618l5 0 5 0M303 614M313 612l6 15 5-4 5 1 5-4 4 7M347 630l6-1 6-8 6-2 4 8M378 628M399 627M409 620l5-4M438 614M296 612l6 1 5 5 5 6 5-6 5 3 4 4 5 2 5-9 4 11 6-7 5 5 5 3M366 627M375 630M392 627M401 626l5 3 4-10 6-6 5 4 5-3M312 613l6 3 3-1 7 8 2-5 6-4 7 14 5-7 4 3M397 625l6 1 4 3 4-7M422 620M431 612l6 5M301 612M312 612M321 612l7 5 4 8 4 0 6 5M350 628l5 1 7-4M396 629l3-11 8-5 2-1M436 616M289 618l7 2 4-7 6 0 6 1 4 5 4 6 6 5 4-5M355 630M365 628M404 621l5-1M420 615M430 612l5 3 4 11M309 614l5-1 4 1 5 4 4-5 6 7 5 4 4-2 6-2 6 1 4 2 6 6 5-4M388 627M399 627l4 0 3-4 7 1 6-11 5 12 6-1 2-11M306 613l4 1 8 7 4 2 3-2 4 4 7-7 3 7M351 629l5-1M396 626M407 630l2-12 5 3 6 4 6-4 4-1M440 612l5 0M297 612M311 626l5-9 5 4 5 8 7-12 4 7M346 623M369 628M397 630l4-10 5 6 6-11 5 1 5-4M433 615l4-3 4 1M290 614l5 1 5 0 5-1 4 6M319 615l6 11M334 627l5-5M348 624l6-1M369 630M385 629l4-4M397 630l8-7 2-2 6-1 6-2 4-2 5 5 5-5 6-2M294 612l4 10 7-5 4 2 5 2 5 2 6 4 4-6M338 628l7 0M364 629M400 627M411 623l4 3M425 625l4-4 5 2M303 616l6-4M320 629l3-9 6 10 4-11M348 630M415 627l2-3 6 2 5 3 6-11 4-2 5 3M297 617l3 4 7-5 5 5 5 0 5 4 3 3 7-4 3 1M408 628l4-3 4 0 6-4 5-1 4 4 6-10M309 612l5 5 6 5 4 1M335 630M348 628M364 619M409 622l5 7 4-7 6 4 4-1 5-1M445 623M292 614M307 619l3-1 6 3 4 5 6 0 5-10M343 624M402 626l2 4 6 0 5-5 4-8 7 4 5 4M445 614M268 622M288 617l4-3 4 6 7 2 5 5 5-5 3 4 6-5 6 6 5 3M343 630l6-3M357 629M368 627M392 630l6 0M408 624l3 0 6-2 5 3 6-4 4 7 4-5 6-7M278 612M299 612l6 4 3 2 7 4 4-3 4 7 6 1 6-12 3 5 5 5 6-1M368 624M385 628M395 615M405 628l4-1M420 622l4-1 4-9 3 9 8-1 5 8M276 625l5-13 6 2 6 9 2-2 7 3 4-8 5-3 4 12 6-5 5 8 5-3 5 3M348 622M417 629l4-7 5 0M436 618l6 3M308 616l7 7 4 0 5-4 4 11 6-5M378 629M402 630M413 626l6 3 3-6 4-2 7 4 5-8 4-1M293 614M302 623l5-8 3 9 7-4 4 7 7-10M342 628l5-1M368 629M407 628l4-6 6 2 5 4M432 626l5-3 4-7 7-2M292 615M304 614l3 0 6 13 4 1 7-1 3 2M336 630l5-2M449 617M292 612l3 2 7 2 2 4 5-5 6 13 5-4M336 620M401 627l3-6 7 2 4 4 5 1 6-6 5 4 5-2 4-2 6-4M277 612M294 618l3-5 5 2 5 6 5-6 5 12 6 2 4 1M412 626M428 623M437 622l7-3M300 616l5 9 5 5 4-1 6-5M330 622M339 630l5-1M411 628M446 629l3-13M277 613M296 612l5 8 5 0 5 8 7-1M331 627M342 629M426 627M451 613M300 615l7 1 5 1 6 11 3-7M426 628M441 627l5-6 6-6M284 618l6-1 3-5M306 620l5 2 3-3 6 4 4 6 6-5M339 627l6 1M448 627M297 616l4 2 5 8 6-11 4 8 6 4 3-6M335 624M422 629M431 625l5 5M446 620M285 613l6 0 5 3M305 626l5-5M320 630l6-11 5 8 6 1 2-2M415 630M446 630l7-2M275 612M290 612l5 4 5 13 5-12 6 8 4-4M425 628M451 624M292 614l3 5 7-3 5 11 4 1 6-5 4 4M332 624M452 613M287 613M297 612M307 620l4 0 5 2 8 5 2 0 5-3M438 623M448 622M292 617l7 3 2-4 5 10 6-8 5 8M447 629M279 612l4 0 4 0 5 4 6 1M313 623l4 0 6 3 5 3 5-7 4 4M349 630M356 629M448 626M280 612l6 11M294 627l5 1 5 1 5-5 5-3M450 612M288 616l5 0 2 8 8 5 4 0 6-2M322 628M446 628l7-14M276 616l7 8 4-11M297 618l5 5 5 0M337 630M348 628M362 629M448 627l5-7M275 615M286 615l4 7 6-3 4 2M310 628l6-5M325 630M420 626M446 629l4-14M284 616l6-3 4-1 5 5 6-1 3 9 4 5 7-5 5-2 4 4M345 628M409 614M449 625M277 616l5 0 4 5 7-9 4 5 5 0 7 3M317 626l5-4 5 2M336 628M358 630M448 630l5-17M280 615l7 8 5 2 4-3 5 1M321 629M341 630M451 618M272 618l5 2M287 620l4 6 5 0 6 2M311 629M280 613M290 614l5 5M303 612l7 13 5-1M325 622M333 617l6 13M390 622M285 613M295 623M305 623l5 7 6-7 4-2 5 6M450 629M284 619l4-7 6 3 6 12 3-8M314 626M453 622M278 615l5 4 5-4 4 2 6-3M306 627M328 628M451 614M276 615l5 1M291 628l7-2M452 618M272 617M280 620l7 3 5-4M301 628M311 629M396 614M271 612l6 3 4 5 6-3 4 7 6 0 5 3M360 620M451 622M279 614l5 7 5 3 5-5 5 9 5 0M276 625M286 626l2-5 6 5 8 4 4-1 4 0M450 630M274 617M285 615l5 3 7-2 3 2 5 12M326 630M283 618l6-1 4 4 5-3 5 6 4 0 7-9 4 14M452 626M267 612M277 619M288 615l2 3 7 3 5 1 5 5 3 0M278 612l8 6 3 4 6 4 5-2 3 1 6-4 5 5M453 614M277 618l5 4 5 6 5-2 4-1 6 2M451 616M282 616M292 617l5-3 5 6 5 5 3-3 8 4M452 628M273 619l5-6 5 15 5-13M298 624l6-2 6 7M388 621M273 619l4-6 5 2 5 12 5 0 6 0 5 3 6-2M261 612l5 2 4 10 6 0 5-4 4 6 6-10M300 625M310 627M456 613M266 624M274 614l6 10 4-1 5 6 9-2 4 1 3 1M455 621M263 613M278 621l5-1 5-2 5-3 4 8 6 3 5-1M453 627M249 614M265 612l4 2 6-2 5 6 5 5 6-9 4 12 3-3 7 0 5 4M453 623M272 621l5-5 4 6 6 6 4-5 3 3M306 619l6 7M268 614M284 614l3 11 6 4M261 614l7 6 5-2 4 2 6 7M292 627M452 628M269 617l4-5 6 7 4 4 5 1 7-4 4 3M259 612M270 617l6 6M287 628l4-1 4 3M456 614M275 621l5-1 5-7M295 623l5-3 5 5M326 628M453 620M264 613l5 1 5 0M283 623l5-4 5 7M318 627M266 623l6 0 5 4M287 622l4 6M302 621l5 3M458 616M270 617l4 4M284 626l6-1"/>
<path class="p" style="marker:url(#a6)" d="M395 606M377 597M387 606M341 600M373 594M390 606M381 597l7-4M385 595M368 595M383 596l6 1M387 602M389 594M383 597M352 600M386 596l6 1M348 596M388 593l4 10M366 598l5-3M381 597l6-2 4 4M379 600l3-2 6 0M367 598M383 593l6 3M371 596l5-3 4 1 7 0 3 4M360 594l5 2 5 2 5 4 6-3 4 0M360 595M371 601M380 597l4 12 7-8M388 596M372 597M384 602l4-4M376 594l6 1 3 2 7 2M364 595M376 601M349 594M368 604l6-10 3 10 8-8M343 596l5 2 4-3 6-2 6 8 5-2 5 6 4-12 6 12 5 0M367 598l4-2 6 2 4 9 6 1 5-4M349 595M371 598l5 7 4-12 6 8 3 7M291 601M362 595l5-2M376 597l5 5M392 598M356 593l4 5M375 597l6-3 5 6 5 3M356 593M367 596l5 0 6 3 3 0M356 600l4 2M371 595l6 4 1 0 8-5 4 10M400 608M341 597M354 596l5 2M369 599l6-2 4 3 5 7 4-13 6-1M358 603M369 609l5-2 4 1 4 2M394 601M336 593M356 601l3-5 6-2 6 7 5 4 4-6 6 12 5-2M326 596l5-1M348 596M356 597l4-2 6 0 6 2 5-1 4-3 6 10 5-9M355 597l4 7 5 3 4-1 6-6 5 8 7 1 2-8 6-1M327 596M338 599l5-3M354 604l4-8 5 7 5-4 5-3M383 602l4 7 5-11M330 601M364 597l7 1 4-4 6 7 4 1 5 3 5-7M344 594M357 595M369 601l5 1 5-2 4-2 7 9 4-2M345 597l5 2 5-4 5 6 6-7 6 4 3 2 5-6M389 611M342 599M357 598l6 7 3-9M376 600l5 8 6 1 4 2 4-18M328 594M342 602l5-6 7 10 4-11M367 602l5-3M383 602l5 4 4 2M341 603M356 600l3 8 7-1 5-7 5 8 5 1 5-7 4-7 5 1M344 593l5 0 4 16 4-6 7-2 6 0 4-3 6-1 5 2 4 5 5-9M344 593l6 6 5-1 6-2 6 3 5 0 4 3 6 1 3-2 4 3 6-1M275 600M320 594M336 598M345 596l5-1 5 7 6-9 4 8M376 609l3-3M390 607l6-9M333 594M342 601l4-8 6 10 5-2 5-7M377 602l4-6 6 10 4-4 5-8M342 597l6 2 5-3M364 598l3 8 6 2 4-4M387 601l5 2M337 598M349 605l3-4 4 0M368 602l4-2 6 1 5 6 2 2M347 605l4-11 6 4 4 7 5 6 7-15 3 10M395 599M337 599l6 1M351 597l5 5 4 0 7 1M393 610l3-11M330 593l6 6M347 597l3 3M359 606l6-8 6-3 5 10 4 2 5-14 5 13M345 596M354 600l5 4 5 3M375 599l4 8 4-12M394 600M282 596M341 597l7 5 3 6 7-11 4 0 5 8 6 0M382 602M393 597l4-2M341 596M352 596l4 4 5 0 4 7 7 0 4-4 5 6 5-9 5 4 4-7M335 600l4-2 5 0 5 8 5-6 5 3M370 609M379 604M324 598l5 0 5-3 5 10 5-9 4 6 6 5 6-7 4-1 5 6 4 4 7-6 3-4 5 9M335 595l5 8 5-4 5-1 4 9 7-1 2-3 7 0 6 6 3 0 4-3M395 605l4-9M339 596l5 2M358 607l5-5 6 1 5-2M384 610l5-2 4-11M337 598l6 5 4-10 6 1 4 15 5-7 6-1 4 1 6 6M388 602l4 3M311 593M327 593l3 1M340 593l6 4 4 2 5 6 5-8 5 2 6 1 4 7 5-1 5 1 4 4M325 602l4-5M339 600l7 2M354 604l5 5M375 611M395 606l3-3M309 593l4 1M336 598l9 6 3-4 7 1M363 606M374 605l4 1M393 598l4 0M310 594M325 593l5 5M340 607l3 0 7 4 4-9M395 608l5-4M326 593l6 2 4 9 5-3 5 1 6 3 4-2 5 3 6 2M381 611M396 607M322 603l4-6 6 6 4 5 4-9 7 5 4 2 4 1M366 609M377 605M386 610M396 600M326 599l4 5 5-2 4-4 5 0 5 7 4-3 7 9 5-1 6-1M394 605M302 597l4-4 6 1M322 605l5-6 4-3 6 10 6 1 3-1 5-4M362 607l4-4 5 4 5 2M396 603M320 597l5-3 4 2 6 8 4-1 5 5 6 1 5-5M399 607M332 599l4-4 6 4 4 5 4 2 6 3M366 611l5-3M396 603M310 597M320 597l6-4 4 3 4 4 7 3 6-2 4 1 4 6 5 2M375 604M400 604M314 594M323 597l4 2 4-3 7 12 4 1M351 606l6 5M402 594M310 593l4 5M331 608l8 1 5-5 7 3M368 611M389 609M400 607M306 594M317 598l4 0 6 9 3-2 6 6 5-6 6 6 4-4 5-1M371 609M402 594M297 594l5 1 5-2 4 7M327 601M336 604l6 6 5-3 3-3 8 3 5 0 4-7 5 9M392 605l5-5M306 597l6 3 4 5 3-9 6 8M335 608M344 610l7-1M396 600l5-3M310 596l4 6 7-9 4 8M335 601l4 3 6 5M384 611M319 594l5 5 4 6 6-4 4-1 5 2 7 3 4-6 5 5M369 609M378 611M399 607M308 595l5-1M332 600l5 6 6-2M351 611M397 610l6-16M295 593M311 594l5 6 4-3 7 11 4-6M342 608l3 3 5-2 8 0 3 1M370 609M395 595M310 601l4-3 5 3 6-5 4 8 5 6M351 608l4 1M369 611M396 609M414 600M304 595M320 594l2 8 8-4 3 1 5 0 6 4 3 1 7-4 4-2 6 10 6 2M388 610l5-3 6 1M313 597l5 1 4 13 7-7 5 3 3 2 4-4M363 611M399 606l2-7M303 601M312 594l6 3 5 6 4 2 8 5M358 610M367 608M383 610M399 610l5-15M432 597M311 595M320 602l6 6M334 603l6 2 6 4 4-1M362 608M402 604M309 595M319 598l4-5 7 17 4-7 4 6 6-1M359 605M369 607M398 610l7-17M301 594l5 7 4 4 4-9 6 2 5 8 6-7 4 12M346 607M394 604l6 0M289 595M299 603l6-2 5 5M318 599l6 1 4 0M340 605l3 3 6 2 6-6 5 4M318 600l5-2 5 4 4 7 6-8 5 9M378 608M403 600M306 597l5 2 5 2 6-3 4 7 7 3M342 610l4-2 5-4M397 609l4-10M302 594M311 597M321 595l6 4 5 2 5 10 4-8 5-6 4 12M365 611M401 605M310 598l5 1 7 0 5 3 4 3 6 5 3-9 6 8M355 609M364 608M399 603l7-10M295 598l6 2M317 603l3 1M350 611M400 607M286 596M302 593l4 2 6 6 5-2M327 606l4-6 4 7 6 0M352 610l4 1M376 611M392 611l5-3 4-11M305 595l5-1M319 608l6-10 6 1 4 10 4-3M399 609M300 594M317 604l3 1 5 0 6 1M399 608l6-11M292 593l6 0M308 598l5 1 5 3 5 6 5 1 5 0 4-9 5 7M381 611l7-1M398 601l5-6M306 604l6-6 3 2 6 0 4 10 5-3 4-6 7 10M351 608M404 601l7 1M300 593l4 10 6-5 3 6 7 6M340 604M403 598l6-3M292 596l7-1 5 1 6-3 3 9M324 605M339 610M349 611M404 609M298 599l5-3 6 0 4 2 5 12 5 1M408 606M288 595l6 5M306 611l4-17 5 4 6 8 3-7M334 610l6-4M350 605M361 610M398 608l8-11M299 593l6 7 6-1 2-3 6 5 6 1 4 8 6-2 4-3 5 6M404 600l6-1M298 598l5-4M313 599l5 6 5 3M394 611M404 605M303 594l8-1 4 10 5-2 6 6M351 611M407 603M297 606l5-8 6 7 4-6 5-3 5 7 4 3M403 610M289 598M304 601l4-1 6 0 5 2M329 607M339 606M408 596M418 596M291 598l4-5 5 4 5-4 6 17 4-1 4-1M335 611M404 597l4 7M295 594l6 6 2-6 7 7 5-6 6 12 6 4 2-1M346 610M405 610M416 594M424 593M294 594M309 596l5 10M326 608l4 2 6-7 4 8M404 601l6-6 4 2 6 0M289 601l7-2 5-4 6 6 3 5 6-3 5 1M335 610M346 610M402 603l5-5M292 597M301 595l5 8 5-2 5 1 4 9 5-6 8 4M407 604l4-1 5-7 5-3M274 596M288 597l6 7 5-2 5-2 5 8M320 608l4-5 6 1M343 609M403 609M414 594l4 0M285 595M296 598l5 4 4 5 5 0M410 596l5 1 5 9M275 594M287 595l6 2 2 3 7 6 6 1 5-2M403 607l4-4 5-5M289 596l5 7 5 0 6 2 5 6M399 610l6-5 5-5M421 595l3-1M277 597M289 605l5-6 5-3 5 11 4 0 5 0M403 608l5-7 5-3M428 599M439 599M281 593M296 599l5-3 5-1 6 5 3 3 6 8M337 610M409 608M421 599l5 9M436 594M275 601l4-7M291 594l3 8 6 3 5 5M319 610M331 606M410 605l4-4 7 3M436 601M282 593M295 594M305 601l6 3 4 3 6-1M330 611M406 610l4-1 5-10M289 605l5-11 6 5 4 3 7 4 3 2M329 609M403 603l4-1 8 0M283 599l4-6 5 12M301 600l5 1 6 7M413 600l5 0 3-6 7 0 3 0M279 594M289 595M298 610l6 1 5-2 4-5M408 609l7-6 3-1M433 594M272 596l5 5 5-2M293 600l4 2M406 607M417 602l4-2M286 595l7 0 4 13 5 0 4 2M412 609l6-12 4 6M431 597l5 5M277 594l3 17M291 597l5 1 4 3M311 607l5 2M325 608l4 1M409 600l6 5 6-10 5 9M435 595M282 594l6 2 5 1 5 5 6 0 5 0M319 607M407 610l7-10 6-3M432 596M284 595l5-1 4 3 6 4 4 4 7 4 6-3 2-1 5 2 7 2M338 609M412 610M424 601l3 5 6-7M276 597l6 2 5-4 5 12 4 0M311 609l7-3M406 608l6-6 5-5 4 1M432 598l4 2 4-6M274 595l6-1 2 1 7 7 4-4 5-1 5 1 6 7 4-4 5 7 5-1M413 608l5-3 5-1 6 3 4-5 6 2 4-4 6-2M273 599l4 1 6-2 6 2 5 5 4-8 5 3 6 7 5-2M328 610M408 609l5-8 6 0M428 597l6-2M279 595M289 600l6-6 3 15 6-8 6 7M409 604M425 607l4-4 5 1 6-10 6-1M279 605l5-11 4 10M299 605M308 607M410 600l4 2 4 5 6-10 6-1M286 602l5-7 4 6 5 7 4 3 7-4M330 605M411 609l4 2M425 610l7-8 3 7 6-11 3-3M278 600l4-7 4 1 6 12 5-1 6 6 6 0M322 610M413 602l5-1 3-1 6 1 5 0 5-2 6-2 4 3M273 600l5-1 3 0 6 9 5-11 6 8 4 4 5 0 7 0M397 601M417 606l5 0 5-10 5 8 5 6 4-10M267 596l5 1M281 593l6 17 4-4 7 4M311 609M327 609M415 603l6 0 4-2M436 601l5 5M276 595l5 8 6 5 5-2 5-4 5 2M412 608l3 2 6 0 7-9M437 597l5 0M268 600l7-6M284 598M295 606l3-10 7 12 5-4M330 608M415 610l4-1 5 0 4-9 8 8 3-5 6-2M266 594l5 4 5 1M286 607l5-9 5 4 5 5M309 610M321 611l6 0M420 611M436 611l4-7 5 1 5-12M270 596l5 8 5-10 5 5 5 11M301 610M409 611l7-8M425 610l5-6 5 4 6-1 4-2M275 594l3 7 7-4 5 7 4 5 6-6 3 6M314 608M423 611M435 608l6 0M448 598M272 596l4-3 6 3 4 1M294 597l8 2M321 605M421 609l6-2 4 2 4-12 6 8 6-5M274 593l4 10 4-4 6 8 5 2 5 0M308 609M402 606M418 606l4 0 6 0 6-3M443 605M260 596M271 598l6 1 5 8 4 0 5-3M431 610l5-5 5 0 6-11M271 593l5 5 5 4 5-5 6 7 5-1 5-3 4 4M417 606M427 606M442 603l4-2M285 601M297 600M307 608M316 607M415 611l7-7 4 7 5 0M441 610l4-13M271 598l4 4 5 8 4 1M415 611M426 606M444 603l7-9M268 594l5 6M283 604l5-6 4 6M303 609M437 607l6-1 5-8M271 611l4-14 4-1 6 0 6 9 4 0 7-1M436 606M450 597M273 601l4-5 5 1 6-3M302 609l7-1M427 611M448 598l4-4M269 599l6 9 4-7 4-4M315 610M444 610l4-15M265 598l4 5 6-2 5 6 3 4 6-6M441 607l3-3 6-3M275 596l3 6 5-3 5-3 4 11 5 2M313 610M449 606M262 598l4 1 6 5 5-3 4 8 6-2 6 4M441 596l7 7M270 595l5 10 5-10 4 16M294 609l5-1 4-2M449 609M267 601l4-6 5 2 4 10 5 0M297 608l5-1M436 610l5 1M450 595M272 595M447 604M262 593l5 6 7 9M285 607l4 0 1 0M450 606M261 598l4-4 8 4M446 603l6-9M273 596l5 7 5-4 5 2 5 7 5-1 5 1M448 611M261 594l6 2 6 9 5 5 4-9 7 9M296 610M452 597M267 597l6-2 3 9 8 5 4-7M298 609M452 599M260 594l6 2 5 5 5 4 5 5 5-7M449 610M273 598M282 605l6 6M451 599M264 597l6 2 6 12 4-10 4 10 5-2 5-4M265 597M281 602l6 2 4 5M262 597l5 1 4-1 6 8 4-6 4 12 5 0 5 0M269 605l4 0 7-1M298 608M455 598M262 599l4-6 4 12 7-1 4 4 6 3 5-11M452 607M256 593M266 597l5 12 4-7 4-4M300 608M314 611M455 593M265 603l6 6M279 608M453 595M267 600l5 3 5 8 4-6 4 2M262 595M273 600l2 1 7 7M292 609M301 609M432 604M451 606M272 597l5 13 5-9 6 10M452 609M262 599l7-2 4 14M305 608M451 608M260 596l5 1 5 6 5 2M289 604M267 596l5 8 6-2 4 9M253 594M262 603l4-1 5 3M256 593M267 600l3 7M280 611M260 599l4 1 5 4M279 607M455 601M258 597l6 4 3 5 4 1M256 599l5 1 6-4 5 14 5-2M257 595l5 7 5 9M281 611M451 610M255 598l4-2 5 4 5 9 7-4M285 611M298 610M454 601M260 600l4 3 5 4 5 2 4 1M291 611M299 604M455 600M248 593M258 596l6 6 5 2 4 1 6 3M257 596l5 4 5 2 5 7M255 600l6-2 6 1 4 2M256 595l4-1 6 17M455 602M257 594l4 4 4-3M430 595M458 593M254 596l7 5 3 8 5 2 5-3M364 594M455 604M254 600l6 7 5 2 6 1M280 611M256 598l3 0 6 9 5 0M280 611M455 602M258 601l6 5 5 5M278 606M251 593l6 7 6 3M271 611M282 611M455 604M255 601l3-3 8 10 2 1 6-1M252 598l4 8 6-4 6 7 3-2M258 598l4 7 4-2 6 7 5-6M285 610M247 596l6 6 4-6 4 8 7 3M458 602M253 597l5 5 4 4 7 2M456 595M251 601l5 6M255 599l6-1M254 593l4 11M274 611M257 599l3 1M250 596l5 11 6 0M456 601M253 599l6 4 2 7M252 598l5 3M457 603M249 597l4 1 6 7 4 5M458 605M265 604M250 604l6-5 3 10 7 0 5 0M254 601l4-2M279 608M256 598l7 11M283 611M461 594M254 603l5 6 5 0M458 594"/>
<path class="p" style="marker:url(#a7)" d="M361 578l6 4 3-4 6 2 5-2 5 12 5-1M344 574l6 3M359 576l5 7 7 3 3-1 7-5 3 5 4 1 8-11M337 576M357 586l6 1 4 1 5-6 6 3 4 1 6 1 4-8M332 578l6 3M347 580l5 1 7 1 3 1 6 1 4 4M382 585M393 581M344 577l4-3M357 578M373 588l4-11 5 3 5 1M262 576M342 577M371 576l6 7 3 0 6 0 3 2M328 577M338 582M348 583l4-5 4 5 7 4 4-10 5 11 6-4 4 0 6 4 6-10M342 580l5-4 5 6 4-8 7 0 3 1 7 9 5-1 5-2 5 4 3-5M335 575M359 584l5-5 6 7M379 588l5-1M395 575M352 579l4-3 6 1 6 2 4 4 6 2M395 584M330 576l4-2M344 576l5 5 6 7 4-13 5 9 5 6 5-4 5-2M389 587l4-12M273 579M337 579l6 3 5-1 5-1 5 2 4 9M373 589l5-3M394 589M333 575l4 1M348 586l3-9 5 12 6 2M373 588l4 1 6-1M391 592M330 576l4-1M350 577l4 3 5 3 6-5 6 5 4 4 4 1 7 4M395 580M344 576M353 582l4 0 6 4 5-2 6-1 5 3M388 592l5-10M316 578l4-4M329 576l6 4 6-5 3 5 5 1 6 8 6-2 4 1 5-6 4 7 6 1 5 1 4-7 4-4M322 574l5 0M341 591l6-11M357 590l4-3 7 4 2 2 7-11 4 5M318 586l6-7 4 4 4 6 6-9 3 11M354 591l4-10 4 10 7-7 5 6 5-4 4 6M399 578M332 575l4 3 6 11 4-3 6-1 4 7 5-1M376 591M397 585M323 575l5 3 6 5 5 6 5-4 3 0 6-3 5 11 7-14 4 7 4 4M391 584M321 580l5-5 6 5M341 585l5 2 6 3 4-2 5 3M373 586l3 4 4-5 7 5 3 0M328 578l7 7 4-5 3-3 6 6 5-1M363 590l4-1 7 3 3-10M393 590M322 577M336 585l3 0 8-9 5 2 4-2 4 10 6 2M396 579M320 575l5 0M335 578l5 1 5 0 5 6 5 7M396 587M315 579l5 1 6 2 3 0M341 582l6 9 3-7 6-7M365 586M395 584M333 581l3 0 9-2 2 1 6 0 6 3 3-5 4 6 7 0 3 5 6-1M394 591M278 577M311 576l7 8 5-8 4 1 7 8 5-1 4 6 5 1 5-5 5 6 5-1 6-1M377 590M393 582M321 577l6 2 4-1M343 583l3 7 6-4 4-2 5-1 6 8 5 1M397 578M309 576l6 7 4-2 7 4 5-4 5 3 4 3 4 0 4-2 7 7 4-8M370 589M380 592l5 0 6-1 4-4M312 581l7 6 6-7 4 5 4 1 5 0 7 2M355 590l3 0 7 2M395 591M314 581l4-4 6 2 3 0 7 7 4 1M394 587l3-13M328 585l5-6 5 7 4 4 5 0 5-3 5 5 5-1M398 587M309 581l5-7 5 16 6-5 5-2 4 4 6 3 6-1M355 592l4 1 5-1M395 588M301 577M320 578l7 8 5 0 4 1 6-1 5 4 5-12 3 6M371 593M384 589M395 581M412 583M305 579M321 580l4-3 4 0 5 9 6 1 5-9 6 10M365 588l5 2M397 590M312 580M328 584l4-10 6 11 5-5 5 5 4 1M361 591M393 592l2-7M316 575M325 575l4 9 5 8 5-15 6 10 5-2M365 589M395 583M309 578l4 6 6-4 6 10 4 2 4-11M345 591l4-6M364 591M309 580l4-3M325 584l3-6 6 13 5 0 4-2M355 591M364 593M398 583M306 576l5 0 5 1 5 5 5-4 4 4M340 587l5 1 5 2M397 588M307 575l4 5 5-5 6 6M337 586l4-2M351 587M395 584M309 581M319 580l6-4 5 6 4 2 5 3 4 0 8 6M398 592M299 575l4 1 6 10 3-4 7-5 3 3M333 592M396 591M306 579l2 1 7-2 4 4 5-2M336 588l4 0 5-2 6 6 5-2 4-1M314 579l6-4 4 3 6-3 4 15 5-8M350 591l3-3M363 590M399 582M306 577M318 583l6 3 6 0 5 6 4-2M394 590l7-16M308 581l2 4 7-1 5 8 4-8M336 584M346 588l6-11M401 576M443 578M254 592M303 578l5 5 6-7 5 11 4-3M334 588l4 1M397 582M310 580l5 7 5-4 6 7 4 0 6-4M346 592l4-2M294 581l4-1 7 3 5 4 5 2 4-6 3 7 7-6 6-1 5 2M400 590M301 575l5 1 6 1M320 583l8-3 2 0 5 5 6 2M400 580M293 575M307 578l2 10 7-6M325 585l5 4M340 593M399 586M302 577l5 2 5-1 7 9 2 0 5-1M337 583M367 590M308 584M318 577l5 6 4 5 5 3 6 0M399 587M281 574M295 575M302 580M312 579l4 8 6 2 7-5 4 7M343 588M361 592M392 592l5 0M293 576l2 5 8-4 3-1 5 10 6-5 6-1 5 6 4-2 5 5 4 3M401 589M302 578l4-3 6 8 5 3 5-2 4-2 7 5M402 585M301 580l4-4 6 13 5-5 5-2 5 9M341 590M355 587M395 586l7-3M299 574l5 5 6-5 4 11 6-4 4 5 4 4 5 0 6-2M349 593M398 584M302 576l7 5 4 5 4 1 5-3 6 1 5 6M297 575M312 580l4 2 4 3 6 7 4-4 4 1M347 590M300 576M311 585l4-3 6 10 2-8 7 4M394 591l6-4M289 577l5 1 5-1 4 9 6 4 5-4 4 3M399 592M299 577l6 2 5 3 5 7 5-4 4 3 7-3M405 584M288 578l9-2M304 582l5 4 5 3 6-3 4 1 5 3 5 0M349 592l5-1M399 592l3-18M286 576M302 586l6-6 4 7 5 1 6 2 4 1 5-2M397 589M291 580M300 591l6-10M317 591l3-7M335 592M395 591l5 1 5-17M285 577M293 579l7 1 5 1 5-2 4 5 4 5M334 591M402 580M289 579M298 582l5-1M319 589l5-2 4 4 6 0M300 578l6 7M315 589l4 1M334 593M405 585M282 577M290 580l6 1 4 8 6-1 4 0 6 3 4-1M401 588M287 592l5-11 5-3 4 7 6 0M317 589M402 590l5-7M289 576l5-1 5 8 6-1 5-2 4 7 4 1M399 592l5-17M285 577l6-1 4 12M318 590M402 583M284 576l6 1 5 3 5 6 4-5 5 5 5-2M406 577l3 5M278 578l3-3 7 10 3-6 5 2 6 4 5 2 4-1 5 5 5-4 5 5M401 591l4-15M280 583l4 1M296 590l6 0 3 1M316 589M403 588M292 581l6 5 3 1 7 5M318 588M396 581M408 577M274 574M286 577l2 8 6-6 6 3 4-3M320 591l5 1 4 1M404 585l6-7M281 583l5-7 4 3 5 4 6 1M312 591M406 580M273 574M291 586M318 592l3 0M331 592M403 591l5-7M275 575l4-1 8 7 3 3 6 4 4 3M406 575M270 574M286 581l4 1 7 6 4-3 5 3M330 592M399 589l5-8M284 577l4 2 5 4 7-7 2 5 7 9 4-2M403 590l5-11M282 579M297 577l5 5M317 582l5 8 5-3M406 578M277 577l4-1 6 7 4 6M300 589l6 0M401 585l5-1M290 582l5 4 7 4 3-1M400 589l5-4 5-5M275 574l3 3 7-1 4 12 5-4 3 2M309 591l5 2M405 584M288 587l4-3 7 4 6-5 2 6M408 587M283 577l5 3 6 5 5 4M308 591M408 588l7-10M282 583l3-8 7 9 5 1 5 5 4-4M407 588l4-9M279 578l5 14 5-6 5-2 5 5 5 0M313 592M414 575M271 580M285 585l6-8 4 12M405 582M279 580l4 12M294 591M314 590M403 591l6-5M263 574M278 576l3 10 5-1 7-2 4 9M308 586l6 6M348 591M407 579l4 6M276 579l5 3 6-5 5 8 3-6 8 12M338 591M407 588l5-8 3-1 6-3M274 577l2-2 6 3 3-2 6 13 6-3M307 591M316 592M407 588l4-1 6-7M270 580l7-1 3-4 5 10M295 583l6 5 4 4M409 588l4-8 8 5M275 575M287 580l4 5M304 592l7-1M404 591l6-5M266 579M275 577l6 3M292 592M322 591M405 588l6-8M270 579M280 578l3 0 6 9 6 1 5 3M313 589M404 593l6-5M420 580l4-2M275 580l5 0 6-5M296 578M306 586M411 590l5-11M425 576M270 575l3 2M282 575l4 6M303 588M408 581l5 9M280 579l6 5 5-5 6 3 4 8M416 575l4 18 4-16 6 1M270 578l4 0 6 6 5 7 4-8 5 8M354 585M414 588M276 575l2 5 7 8 4 3M410 582M418 576l6 6 5-8M439 574M269 580M279 578l4 5 6-5 4 11M413 581l6-2 5 3 4-2M269 578l7 0 4 7 5-1M299 587M410 590l3-11 8 0M269 579l5 0M285 584l6-2 4 11M415 587l5-7 3 2 5-7 6 5M267 575M284 584l3 7 7-4M309 592M408 591l4-3 5-8 7 3 5-6 2 9 7-11M280 582l6-1 5 6 4-3 6 7M409 588l5-1 6-1 7-2M435 575M273 583l4-2 4 3 5 6 5-1M377 584M407 590l5-2 6-5 3 4 7-8M263 575M273 582l6-1 4 9M295 588l3 4M413 578M423 581l5 1 4-3 6-4 6 3M266 578l3-2 7 13 4 2 5-6M415 582l5-3 5 4M434 577M265 579l5-3 5 8 5 3 5-3 5 4M411 591M420 590M429 584l6-4 6-3M269 576l5 2 7 4 3 10 6-7M300 585l5 6M320 575M425 588l4-3 4-2 6-8 6 3M266 580l5 6 5 6 6-6 3 5M411 582l4 7 5-7 6-1 5-6 5 5M272 582l5-2 3-4 8 10M296 592M426 592l5-7 5 5 5-9M265 577l2 13M279 588l4 4M409 592M424 587l4 0 5-5 6-2 4-3M271 581l4-2 6 7M290 592M425 589l4-6 5 7 5-1 4-15M262 579l4-2 7 10M282 593M417 592l5-2 5 2 4-11M442 582l6-7M260 575l5 7 5 1 4 9 4-3 7-4M414 590M429 580l5-1M444 584M264 576l4 7 6 4M284 589M418 591l5-3M433 586M446 581M272 583l5 6M286 591l5-2M430 590M440 592l6-10M265 586l6-6M286 591M424 590l6-8M440 584l4-7M266 578l4 2 6-5M286 591l5-6M302 592M421 588l4 1 6-3 4-5 5 11 6-6M259 576M270 579l3 2 7 1 6 8M420 587l5-6 3 4 5 1 7 0 4-8M257 578M265 589l7-4 6 4M439 589l3-2M264 577l5 13 5-6M284 587M294 591M424 589l4-1M440 589l3-6M254 576M267 577M289 591M412 592M427 589l4-13 6 14 4-7 5-4M262 584l5-5 4 6 6-2 3 9M426 592M442 587l3-5M260 581l5 6 4 1M286 590M429 587M441 585l4 1M260 585l4-8 5 13 5-4 3 5M423 588l5 4M439 591l4 0M258 578l5 4 5-1 6 5 4 2M400 590M440 589l3-2 5-8M258 578l5-4 5 6 5 7M428 592M446 582M258 576l5 2 5 4M254 574M264 583l3 9M424 593M438 591l5-3 7-9M264 577l6 15 3-5M284 592M449 578M253 581l7-1 5 2 4-8 5 17M433 591M444 589l3-4M265 579l6 10 5-4 4 6M251 578l6 0 6 2 4 3 5 1M452 579M254 576l3 8 6-1 4-3M448 581M252 576M277 589M446 592l6-15M251 576M262 583l4-3 5 9M448 584l6-4M255 577l3 5 5-3M280 589M379 593M449 591M251 576l4 0 5-1M280 587M245 580M260 581l5 10M450 587M254 581l5-1 6 8 6 3M444 593M454 574M251 577l4 3M265 589M290 590M451 582M253 578l4 9 5-1 7 4M447 591l5-14M256 583M267 589M450 586M252 577l4-2 5 2 6 8M451 587M251 578l6 1 4 4 4 1 7 8 5-4 3 4M292 592M452 588M256 582l4 4 5-1M253 585l5 0 6 2M278 592M297 584M452 584M249 577l6-3 4 9 7 10M455 577M247 576l4 5 8-5 4 11 4 3M244 574M254 581l5 2 5 9M250 574l4 5 5 12M454 581M255 589l2-5 7 7 5-1M453 583M245 577l7-1 3 8M453 588M254 585l5 2 4 1M455 583M250 589l6-10 5 13M247 581l7-1 3 3M453 585M244 577l5 3 6 4 5 4M454 583M247 574l4 7 5 7M248 581l4 3 5-10 7 12 3 4M453 592M248 579l5 2 4 3M248 583l5 1 4 6 5 0M251 579l6 13M252 579M268 592M447 584M240 577l5-2 5-1 4 6 5 10M369 593M456 591M241 579l6-2 3 4 8 5 5-2M252 579l6 5M456 584M248 579l8 0 3 2 5 11M247 579l4 6 6 5M456 581M262 592M250 576l4 11 5 2M247 582l5 4 6 2 5 5M242 576l4 6 7 3 4-3M267 592M248 582l3 2 6 4 5 3 5 1M242 580l5-3 5 9 5 5M457 579M250 583l5 4M456 590M246 579l6 8 6-4 3-3M456 588M248 589M457 586M246 578l5 10M260 592M456 593M244 576l3 8 7 5M458 575M247 591l5-1M246 576l6 12M457 587M243 578l4 5 4 8M456 584M240 575M249 582M461 575M244 581l7 0 3 5M460 574M244 579M254 586M459 582M243 578l4 8 6 2M457 581M247 581l5 9M456 589M245 589l7-1M245 587l5 2M244 580l5 12M241 586l3-7 7 7M455 590l5-12M245 591l5-1M460 577M243 579l4 6M457 592l6-16M242 575l5 7M239 577l7-1 4 11M458 583M484 578M242 581l5 8M456 589M242 580l4 8 7 1M458 592l4-10M242 583M462 576M242 582l5 1M240 580l6 12M345 589M461 583M242 576l3 16 6-4M461 579M245 578l2 8M458 589M239 577l6 12M460 587l5-7M243 580M351 582M461 583M242 582l5 6M457 589M243 586l4 5M462 580M238 578l5-1M463 581M241 588l4 1 5 3 4-18M460 582M235 581l5 2 4 1M460 588M238 578l6 10 6 4M457 588M237 579l5 5 4 2 4 6M232 574M245 586l5 3M463 580"/>
<path class="p" style="marker:url(#a8)" d="M305 559l5 4 7-4 3-2 6 8 4 4 6-2 4 0 7 6 3-2 6-1M300 558M314 557l3 4 8 7 5-8 5 11 4 0M353 572M308 560M317 564l5-3 6 13 6-8M341 570l8-2 3 5M397 559M299 562M308 567M318 556l5 3 5 14M341 573M396 570M431 560M299 556M305 558l8 6 4-3 5 8 5-6 5 1 5 2M352 566M363 572l5 1M391 571l7-13M303 559M311 563M321 557l5 10 4-2 7 5M347 569l4 5 5-1 5 0 6 0M396 567M292 561M302 565l6 0 3-3 6 6 6-3M333 570M397 558M306 559l6 6 5-3 5 5 5 2 4 1 5-5M397 562M300 556M308 569l7-7 5 0 5-1 5 7M339 570l6 2 4-4 6 2M398 566M307 565l5-6 5 7 6-2 4 0 7 3 3 3 6 1 5 2M399 560M300 558l4 0 7 8 2 6 7 1 4-9M338 573M309 564l4-7 6 9 4-5 6 10 6 2M398 567M262 564M301 558l6-1 5 9 5-7 6-1 4 11M341 571M396 572M289 558l5-3M310 562l4 9 6-3 2-2M339 573M400 563M292 557l6 11 6 0 6-6 3 5 6-3 6 7 3-1 6 4 4 0M349 574M399 563M295 561l5 5 5 6 4 1M326 574M400 562M297 559l4 1 5 1 5 9 6-14M333 567l2 6M396 570M292 561l6 0 6 7 4-6 4 10M301 561l6 5 3 0 7-7 5 3 5 11M402 560M297 557l6 5 5 11 5-7 5 8M398 574M307 561l7 8 3 3M337 570M398 569M288 561l4 8 5-9 4 11 7 1 6 0 3-4 6 5M397 572M287 556l3 8 6 0 4-7 8 14 2 3 5-10M327 572l3-11M295 564l6 2M310 566l4-1M330 571M399 565M276 555M285 555l5 10 6-8 3 10 6 3 5 0M402 562M287 557l6 2 5 4 4 3 5 3 4 0 6-6 7-2 4 9M399 568l5-8M268 555M284 559l5 3 3 2 6 8 4-5 6 6M397 567M277 559l5-4 7 2 1-1 6 10 6-3 4 10 6-3 4 0M337 573M400 565M275 555l6 8 4 2 6-2 4 2 5 3 4-5M400 566M284 559l5-2 7 10 3 1 5 2 4-2M399 565M293 557l6 12 4-6 6 7M404 557M280 561l8 0M297 567l6-6 4 6 5 6 5-1 6-1M402 559M286 563l6-3 4 4 3-1 6 8M398 572M275 556l8 3 3-2M296 570M306 573l4-10 8 8M402 567M286 556l5 7 8 4 1-2M313 574l3-14M401 564M283 562l5 7 6-8 5 5 3 7 5-1M317 572l4-3M387 573M402 569M290 560l5 5 5 1 4 7 6-5M321 571M279 558l5 3 5 1 5 7 5-1 5 3M399 573l4-17M273 559M285 557M293 562l7 9 4-1M319 571M404 572l5-17M271 561l5-4 5 1 4 6 6 1 5 5 5-10M401 573M281 558l5 2 6 4 4 4 6 6M402 565M278 558M288 564l7-4 3 2 6 6M314 569M405 566M278 556l4 5 7 1 4-3M403 560M275 557l6 2 6 8 3 5 6-5 3 4M400 567l6-9M269 555M279 558M295 559l5 12 4-4 5 2M404 559M276 555M291 557l4 8 6 6M312 566l4 5M405 562M272 559l5-3 4 8 5 6 8 1 3-2 4 5M262 556M279 556l3 12 5-10 6 11 5 0M404 567M276 558l5 4 4 0 6 3 6 7 4-1 4-2M401 572l3-14M280 565l4-2 5 2M405 568M270 557l5 1 6 8 5-7 4 7 5 7M316 570M406 558M264 558M280 557l7 5 3 7M300 572M404 564M272 557l4 3 7 7 5-5 4 6 4 4M402 572M268 556M282 561l5 0 6 6 4 5 5-6M313 572M357 562M382 557M403 566l5-10M272 564l5 2M287 567M297 570M308 570M402 563l6-4M278 568l4-10 6 15M408 573M271 564l6-5 5 6 6-1 2 0 8 8M347 559M406 569l5-8M275 559l5 11 6-3 6-2 3 3M405 564M281 564l3 4M295 569M405 572M268 556l5 0 3 8M287 573l5-3 6-1M403 572l4-10 6-5M265 556l6 7 6-7 3 8 7 4 4 4M301 574l6-2M403 571l3-6M274 558M286 566l5 0 3 1M306 570M405 573l6-14M264 558l5 1 5-3 5 13 5-5M404 566M271 559l3 0 6 2 4-2 4 11 7-4M265 564M273 563l6-5 5 12M299 573M409 564M272 559l4 4M292 570l6-9M402 566l6-5M266 562l4 4 5 2 6-1 4-3M296 573M411 563M266 565l4-6 5 3 5 5M289 572M410 568l4-13M270 560l4 1 5 5M295 573M403 573l6-3 5-9M269 560l4-1 6 7 6 2 4-1 4 5M410 567M265 561l6 11 3-11M288 569M405 569l7-12M260 556M270 556l7 10 4 2M311 567M410 564l5-5M265 558l4-2 6 5 3 2 7 8M408 565l5-1M266 563l6-6 5 3 4 13M407 565M259 557l5-2 6 6 6-2 4 13M415 556M425 557M266 558l6 10M412 560M267 559l4 15 4-10M291 572M410 563l6 1 4-1M263 558l4 3 5 1 5 11 5-3 5 3M412 571l6-10M255 556l4-1 6 4 4 5M280 568M414 561l5 2M262 556M270 564l8 4M411 567l5-6 5-6 5 1M268 568M278 569l4 0M412 558l6 4 5 2M266 559l4 2M410 567l6-3 6 2 5-9M261 557l5 5M275 572l4-5M410 560l3-2M425 559M265 561l4 6 5 0 4 0M413 563l5-3 6-3M262 564l6-6 3 11 6-5M287 570l5 0M412 571l4-1 5-4 6-9 5 1M457 558M258 557l3 4 4 4 7 8M412 560l1 5 9-6M265 561l5 3 4 7 5 1 7 1M419 566l5-6M441 557M249 556M259 566l4-8 6 13M408 572l7-6 4 3 4-8M434 556M253 557l5 4 5 7 2 2 7-4 7 7 4 0M410 566l9 6 3-11M432 560M263 558l6 9 4 4 5 2M418 566l4-5 7 9M263 567l3 4 5 0 5 3M416 570l5-6 5 4 5-9 4-3M249 559M264 567l6-4 5 8M410 573M418 568l5-3 6-4M256 556l4 8 6 0M275 567l6 5M411 573l5-6 5-11 4 13M255 556l4 10 5 5 5 1 4 2M414 572l5 1 6-7 4-4 5 0M257 562M268 573l4-1M416 573l6-3 6-2 5-10M266 568l7-6M427 563l4-2M446 556M252 562l4 5 5-6 4 8M421 568l5 2 4-8 5 6 7-9M249 557M261 562l4-1M290 573M426 568l4-2 6-9 5 3M261 562l4 6 5 4M280 565M415 569l5 4 5 0 5-16 6 13 5-6M258 560l3 9M271 570M421 573l5-4 4 5 6-14 5-2M260 555l5 11M274 570M415 574M429 568l6 1 4 0 6-10M254 559l6 7 5 1 5 2M291 574M420 568M430 563l6-1M445 561M254 556l4 2 6 9M278 568M423 573l5-1 3-10 6 4M252 556l5 3 3-2 7 9 3 0M434 568l6-2M248 562l5-3 8 7 4 2M419 574l5-1 5-4 5-1 5-3 7 2M253 556l6 10 5 6 4 0M414 562M434 572M444 564l4-5M255 564l2-6 7 11M274 571M433 563l5 5 5-4M255 559l5 9 6-1M423 573l6-1 6 0 5-3 6-13M244 559M255 564l4 2 5 3M278 572M440 571l3-1M254 560l3 1 6 7M272 567l6 6M443 568M245 558l6 8 4 0M265 571l5 1 5-1M441 569l4-1M253 563l4 8 5-3 4 5M432 571l5-3 5-5 5-4M248 561l7-6 3 14M269 571M449 569M249 571l7-10 3 11M431 570M439 573l5-6 7-8M246 558l4 3 5 5 6 2M444 565l6 1M244 557l6 9 5-2 5-2 5 9M448 570M247 568l5 3 5-4 4 1M440 573l5-9 6-4M250 559l8 9 5 3 3 2M446 572l5-15M243 558l6 6 5-3 5 9M450 564M249 563l6-2 5 9 6 2M451 560M252 568l5-3M438 573M250 563l4 10M439 569M450 569M253 569l5 3M246 556l6 8 4 3 5 1 6 3M415 563M451 569M246 557l3 12 6 2 4-1M450 571M246 556l4 9 6-1 3 8M450 570M245 559l4 3 5 3M263 572M450 573M242 566l4-3 8 0M261 573M447 573M244 556l4 3 6 6 5 7M448 564M243 560l3-1 7 15M263 573M303 556M452 565M247 559l6 10M452 568M246 557l4 10 6 4M451 571M243 557l5 7 4 3M448 571l7-9M247 557l8 11M452 565M246 563l6 7M451 570M249 560l5 7M453 559M248 560M259 570M452 566M240 559l4 9 5-6 6 4 5 4M243 564l7 0M439 559M453 558M241 556l5 10 4 7 6-2M451 562l5-4M243 569l5-5M457 555M243 556l5 8M452 572M243 564l2-3M258 572l2 1M243 564l5 0M258 571M249 567M453 567M244 571M455 562M250 570l6-2M453 561M244 563l4 5M241 556l4 2M261 572M455 558M239 555l4 9 6 2M242 562l3 4 6 7M456 557M242 557l5 13M242 564l3 6M457 562M240 560l5 8 5-4M455 573M243 560l5 11M458 558M241 558l5-1M242 564M456 560M238 556M250 570M455 573M240 568M238 557l5 8 5 1M237 560l3 11M457 566M244 562M459 557M240 569l8-4M457 569M242 566M278 569M458 570M238 559M459 564M235 558l5 9M455 563M237 559l6 7M459 567M238 558l5 9M457 574M238 563l5 5M457 568M239 567l7 1M456 573l5-18M237 558l6 15 5-2M257 556l5 0M457 557M460 559M236 558M271 568M457 574l6-9M241 566l4 4M239 565l6 4M459 562M236 555l4 15M462 562M240 567l7 5 5 1M460 558M235 558l4 8 5-1M285 564M345 560M460 566M237 558l5 14M458 573M238 561M457 571M237 559l4 10M457 571l6-12M238 562M462 561M234 562l6 5 6 5M461 562M233 560l5-1 4 10M231 559l6 5 6 5M463 557M235 561l7 9M461 556M228 556l7 6 3 6M464 561M232 558l6 4 5-4M407 571M457 571l5-10M233 555l3 6 5 11M461 561M232 562l6 5M462 565M234 564M245 571M224 558M234 559l6 3M464 562M233 566l7-2M463 565M232 565l5 6M463 563M232 558l4 7 6 7M461 556l6 4M225 558l7 0 4 6 3 10M461 563M231 561l5 7 5 5M460 570l6-11M229 560l6 5 5 4M459 573l5-6M232 560l3 5M467 561M228 560l7 5 6 9M466 566M229 557l2 11 9-2M254 574M274 570M468 562M231 563l6 4M460 573l6-11M229 561l4 6M464 565M227 562l4 2 5 8M463 569l4-14M234 562l3 11M228 557l6 4 3 5M467 566M228 558l5 7 3 6M341 568M462 572M225 555l6 10 4 2M463 563l7 0M225 562l5 4 5 6M464 571M224 555l4 8 4 7 5-1M464 565l4-9M229 560l7 13M469 560M226 565l6-1 4 9M266 570M466 570M226 560l6 9 6 4M463 573l5-9M227 560l5 10 5 0M467 561M228 562l3 10M226 559l5 6 5 5M280 559M466 572M225 564l6 0M466 571l3-14M224 560l5 7 5 6M463 574l6-7M226 560l6 12M467 573l4-11M224 558l4 6M238 574M468 564"/>
<path class="p" style="marker:url(#a9)" d="M277 538M286 543l6 10 5-1 5 2M401 551M279 539l6 2M295 541M305 551l5 3M399 554M281 541l7-4 4 2M303 549M315 552M284 551l3-7M303 549M313 554M403 543M282 545l7-1 4 7M303 549M256 545M277 546l4-7 5 6 5-3 5 7M306 552M318 553M272 537l6 2 7 6 3 8M297 554M403 537M274 538M282 544l5 7 6 1 4-2 4 3M403 538M270 537l4 5 6 2 2 8 8-5 4 7M305 553M278 537l5 7 4 2 6 3 6 6 3-4M275 550l4-5 6 8 5-2 5 4M399 554M278 541l5 6 4 7 5-4 6 1 5 2M403 539M272 539l6 4 5 12 5-6 5 0 4-2M401 551M274 538l7 9 4 8M299 555l3-6M346 555M269 541l5 4M284 546l6 7M404 540M274 545l6 9 4 1 5 0M276 541l6-2 6 14 2-5M402 552M272 547l7 4 3-1 8 5M403 554M270 549l6-4 6 0 6 2 3 7 6-1M408 547M278 545l5 8 5-3 6-1M403 543M266 540M276 544l5 6 6-2 4 6 5-2 5 0M402 551M262 537l6 7 5 4 5-1 6 3M403 550M265 540l5 9 7-8 4 10M401 553M270 538l4 3 5 7 7 3 6 3M306 555M405 543M265 539l6 9M281 550M405 543M271 536l8 2 4 8M273 551M403 548M250 541M266 539l5 6M408 551M254 537M265 540l5-3M405 545M268 550l7 0 4 2M390 552M404 547M264 539l5-1 4 2 5 4 6 6 4 4M267 537l7 13 4-2M293 549M407 546M265 542l5 13 5-4 6 0M405 550l5-10M261 538l5 14 6-2M261 543l6-1 4-5 6 12M405 549M258 541M266 544l6 9 7-1M407 544M265 543l3 9 6-5 7 6 4 1M405 551l4-14M258 545l6-3 4 6 5-1M267 542M280 546M287 555M256 546l4-4 5 6M406 544M266 553l4 2 6-5M406 549M269 546l7 4M284 555M412 540M259 537l3 14 6 1 3-1M347 538M407 554l5-17M265 549l5-1M254 538l6 2 4-1M274 548M289 555M409 553l4-13M265 536l4 2M279 551l6 1M409 541l5-3M253 538l4 3 6 6 4-4M407 548M416 538M260 543M269 554l4 0M408 542l3 6M247 546M255 543l5 8 5-9 6 5M409 538l6 1M260 544l4 8 5-3M410 552l5-6M256 541l4 2 7 10M410 543M251 541M260 546M269 551M412 550l3-10 5-3M252 538l4 1 6 6 7 0M407 552l6-8M254 542l4 1 7-2M274 545l4 9M413 541M253 543l3 4 7-6 4 3M413 541M243 537M252 538l4 8 5 5 6-1 6 3M412 552l5-6 4-6M260 547l6-4M418 547l2-7 7-3M252 543M261 545l5 7 4 2M410 544M245 540l5-1 4 6 6-1 4 2 5-4 4 10M290 549M410 553l4-7M253 538l3 4 8 5M416 546l6-6M432 538M251 549l6-10 2 5M413 549l3-7M249 546l6-6 5 1 6 8 5 6M280 552M414 554l4-9M254 537l3 6M394 541M408 548l7-4 3-6M250 537M260 539l4 10M409 551l6 1 4 0 6-13M245 541l2 4 8-1 4 5M269 553M413 551l6-5 4-2 7-7M247 540l6 7 4-4 5 2 6 10M413 554l5-10 5-2 4 0M251 547l5-7 6 15M417 548l3-5 6-7 4 2M249 550M260 550M419 553l7-3 3-6M254 544l6-1 4 6M284 544M418 546l6-4 4-1 6 1M248 541l7 4 6-6 4 14M414 551l6-8 5 6 5-3M245 544l7-2 4 11 6-7M416 549M427 542M247 537l6 6 5-1M267 554M420 548l6-3 6-5M245 540l4-3 4 8 7 5M418 544l5 2 6 5M438 540M246 543l5-3 6 13 5-3M412 553l3 1 7-7M239 536l6 3 6 9M419 551M431 542M439 537M251 549l4-3 6 3M416 554l5-2 5-10 6-3M246 539l4 6 6 2 5 4M425 547l5 2 4-9M243 537l5 1 5 11 4 2M422 551l5-2 5 1 4-4 5-10M244 540l6-2M424 554l6 0 4-7 5-4M242 537l2 10 7-3 6 11M267 555M431 539l4 5M249 542l4-2 5 14 4 1M287 553M427 543l5-1 6-2 5-2M246 546l5 6 6-4 3 7M432 549M441 540M240 537M250 544l6 4M420 549M431 547M243 539l5 7 7 0 4 6M428 554l6-6 4-11 5 4M242 542l4 9 5-7 7 9M437 551l6-2 5-7M241 538l4 7 7 6M427 548l3 2M441 539l6 0M244 537l7 12 4-2 5 0M429 555l5 0M445 543l5-5M245 546M253 552M428 554M439 552l5-5M244 547l2 8M428 549M437 546l4-4 7-3M242 539l6 10 7-1 3 5M439 555l5-13 5-3M247 546l4 4 6 4M440 551l7-2M244 541M253 550l5 2M434 550l6 3 3-13M239 539l6 6 5 6M430 549l5 4 4-3 5-4M245 542l4 13M438 553l6-8 5-1M243 549l6-4 4 9M393 553M436 554M249 548l2 0 7 3 3 2M437 554l4 1M452 549M242 539l4 16M446 555l4-11M241 542l4 8M256 553M444 549l6-5M241 540l3 11 7-1 3 0M445 555l4-11M242 545l5 2 5 5M416 539M446 547M248 549l6 0M449 552M239 545l6-1 7 5M450 553M242 541l6 3M417 550M442 554l8-3M239 543l7 6M445 553l5-7M239 539l5 6M449 547M244 553l6-3M454 550M243 552l6 1M448 540l6 3M241 544l5 7 4 1M450 554l6-12M239 539M249 551M449 551M243 545l4 0M447 555l6-17M240 547M449 551M243 551l4 2M234 538l5 3 6 5M454 544M240 554l6-2M240 543M455 542M240 546M241 553M241 551l6-3M458 537M237 539M451 542M235 537l6 5 5 5M454 546M232 537M242 553l6-1M451 554M240 547l5 7M454 539M232 538l5 0 6 16 6-1M453 551M241 549M458 546M240 554M454 543M236 540l4 5M457 548M233 539l6 4M453 548M233 539l6 2M451 554M235 538l4 1M232 537l6 1M456 544M232 540l4-2 6 10M457 539M237 544l4 9M455 550M233 540l6 5M234 544l5 2 6 8M238 541l4 14M458 545M232 541l7 1 2 11M459 546M228 540l7 2 4 5 6 6M404 551M229 539l6 5M455 552M228 540l6 1 4-2M232 541l3 9M232 538l6 11M232 547l5 3M458 543M231 542l4 7M457 545M231 545l7 3M457 551M229 544l6 1 4 6 6 4M289 554M460 542M227 538l5 2 4 4 5 5M461 548M224 540l6-2 5 13 5 4M460 537M226 537M234 546l5 8M458 545M227 539l5 0 3 7M460 551M229 541l6 6M458 546M226 537l5 5 6 6M462 542M220 537l7 7 5 6 4 4M457 550M222 537l5 6 7 2 1 6M227 540l4 7 5 0M459 540M224 540l4 1 5 2 4 9M463 541M222 539l4 4 5-1 4 7M459 548M223 539M231 552l8-6M293 555M462 545M224 538l5 6 5 7M457 550M224 538l5 5 7 3M459 542M219 537l3 4 6 2 6 3M458 552M225 537l6 10M461 542M481 542M224 537l5 9 4 4 6 1M249 553M464 538M227 539l4 10 5 6M461 545M223 545l3-2 7 6 4 3M463 547M219 538l5 2 5 6 6 5M463 538M226 544l7 2M461 548M223 545l4 0 6 7M462 542l6-5M222 541l5 2 4 4M461 545l7-6M222 537l6 8 5 10M464 543M221 538l5 6 7 5 3 3M217 539l5 5 5 3 5 7M462 543M225 547l5-1 4 7M465 554l5-15M219 538l9 7 4 5M466 545M215 538l6 2 6 6 5 8 5 1M462 547l5-2M215 537l5 1 5 5 4 8 6 4M465 553l3-15M217 538l5 1 3 8 7 6M466 542l5-3M221 538l4 8 6 8 3 1M466 544M218 540l8 6 4 8M465 554M223 542l4 9 5 2M463 554l2-13M218 538l5 4 3 3 5 10M462 555l4-7M213 539l6 2 4 3 4 1 6 9M465 537M214 539l4-2 5 7 5 5 4 5M468 541M215 539l5 2 4 8 5 0M464 549M212 540l6 0 3 4 6 9M461 546l6 6M213 538l3-1 6 6 3 5M257 553M468 544M221 540l5 12 4 2M465 538M215 537l4 6 3 7M469 543M222 542l5 8M467 540M212 539M221 544l6 6M466 547M218 542l3 7 8 5M467 546M208 538l6-1 6 5 4 7 5 5M465 554l5-13M214 538l5 10M230 554M471 551M218 549l6-2 5 3M468 554l5-8M211 545l5-3 7 4 5 4M468 551l3-14M212 539l5 6 5 5 4 3M287 548M472 540M211 538M221 546M466 551l5-13M216 545l5 2 5 1M471 540M214 545l6-2 5 11M468 550M211 537l4 7 6 3 3 5M470 543M211 537l4 2 5 9 5 6M470 552M213 542l4 2 4 10M472 549M207 540l6-3 3 3 6 10 6 5M471 538M214 542l5 2 5 8M469 551l5-9M208 539l4 2 5 1 6 9M472 544M218 546l4 3 5 4M467 554l5-3M209 541l3 6 4-3 6 8M473 546l5-4M208 537l5 2 3 7 6 5M468 551l4-7M210 539l6 7 5 5M205 539M216 543l5 3M470 554l6-15M212 537l6 11M472 548M210 540l3 9 7-1 4 5M212 542l4 5 5 7M245 538M472 548M209 537l5 0 4 8 3 8M472 536M208 542l4 1 5 7 5 5M474 545M208 538l6 8 5 2 3 4M473 545l5-2M212 543l4-1 4 9M470 553l6-13M210 549l5-7 5 11M475 539l6-2M208 539l5 4 6 7M474 546M212 541l5 7 6 6M208 544l5 4 5 0M473 554l6-13"/>
<path class="p" style="marker:url(#a10)" d="M271 530M281 534M265 527l3-6 6 10M288 534M405 524M258 519M267 521l6 0 4 9M402 528M262 520l6 9 5 5 4-1M410 521M259 518l3 2 6 4M276 532M402 535M266 531l5-6M402 535M263 521l4 9M253 523l5-2 4 2 4 1M276 534M261 526l2-4M403 529M252 518M264 524l3 10 8 2M404 535l4-16M249 520M259 521l6 13 6-2M405 530M252 518l6 3M269 526M410 527M248 518M257 524M268 532M407 525M260 520l3 3 7 11M404 527l5-7M255 525l3 2 5 9M277 532M409 520M244 519M254 523l6 8 5 5 5-9M404 532M255 526l5 4 6 2 5-5M406 531M242 518M258 518l6 8 4 1M407 529M247 522M256 522l4 9 7 0M412 525M253 522l6 3 3 5 6-2 5 3M407 529M252 526l5 2 5-5M274 536M407 524M246 519l6 2 6 9M408 527M246 519l5 6 5-4 5 13M407 528M250 522l5 9 5 3 5-2M410 527l5-7M434 529M245 520l5 0 7 7 3 4M410 526l7 1M247 525l5 5 6-8 6 3 4 7M407 521M253 529l5-2 4 7M407 530M255 536l7-5M411 530l5-8M245 521l4 0M260 525M409 520M245 522l4 5 6-4 5 13 6-3M408 530M250 518l3 11 5-3M408 536l5-11M246 520l7 2 5 3 4 6M413 530M421 519M245 520l5 8 6-4 4-1M415 528l6-5M246 518l6 13 4 1M245 529l6 6 4 1M412 532M243 530l5-6 4 4M263 532M411 532l6 0M428 519M244 521l6-3 3 17 7-3M415 527M244 522l5 7 6-3M409 535l5-10 5-4M244 523l4 0 4 13 7-2 4 2M415 529l2-4 6-3M240 518l6 4 5 7M411 531l4-8M241 523l6 4 3 7 7 1 5-4M412 534l3-10M245 526l3 6 6-5 5 8 6 1M409 535M419 529l6-3M247 526l6 3M418 524M245 528l5 3 5 2 6 2M410 533l6-10 5 9M244 523l7 3M283 522M419 535l5-10 5-7M239 524M249 527l5 6 6 2M419 534l6-7M241 521l6 8M411 535M422 533M245 523l3 9M416 530l7-8M241 519M251 533M421 520l6 3M244 536l5-3 5-5M273 520M418 532l8-3 3-5M242 528l3 1 6 7M415 531l7 0 3-2M241 523l4 1M256 533M424 527l7-7M241 524l5 2M417 534l5-12M431 527M243 518l6 8M418 530l4-8 8 0M241 528l8 7M418 535l5-4 3-9M438 519M248 534M426 526l5 9 5-6M242 528l4 4 6 4 6-1M431 528l6-3M242 529l4 5M256 535M416 533l6 3 3-5 5-8M441 525M240 520M420 530l4 6 5-7 5-5 5-5M243 522l5 13M427 525M241 529l6 5M421 534l5-7 4 3 6-12M241 526l3-1M425 536l4-2 6-1 5-12M240 522l5 7 4-6M423 530l7-5M444 518M240 520l5 4M255 534M428 533l7-10 4 10 6-15M433 528l7-5 4-3M244 536M432 534l5 0 5-9M236 519l4 12 6-1M435 523l5-3M240 532l6-5M255 532M435 531l5-1 4-7M239 522l6 13 4-1M439 534l4-5 6-9M239 521l6 14M435 527l5 2 4-7M238 518l3 10M422 519M430 529l5-3 6 5M243 536M435 531l6-1 5-2 5-7M235 522l6 2M433 535M444 529M237 523l4 11M428 535l5-2 4 2 5-5M435 535M444 524l6 0M242 531l5 4M437 535l5-9M229 519l6-1 6 12M440 534l5-4 5-7M237 522M447 524l5-5M239 530M445 527l6-3M235 519M441 535l4-6 6-8M237 519l6 17M448 535l3-12M237 522l4 11M435 536M446 535l6-12M234 519M246 535M436 533l5 1 2-5 5-8M241 530M449 530M234 522l3 0M451 524M235 524M436 533M452 523M235 521l5 15M224 519l5 0 5 6 5 2M451 528l2-8M231 522l6 3M454 521M228 521M238 530M453 521M225 521l6 1 4 3 7 5M450 535M230 525l5-1 4 9M447 524l7-3M224 519l6 1 4 4M450 530l6-12M220 520M229 524l5-2 5 8M453 523M227 520l5 3 5 6M447 532l5-7M222 519l6 2 4 0 5 5 6 10M456 520M227 522l3 2 8 1M455 519M225 519l5 3 6 8M455 524M229 527l6-2M456 525M222 518l5 1 5 7 4 3M450 535M225 524l4-3 5 4 5 11M455 531M224 523l5 6 6-3M439 528M454 519M222 520l6 2 4 5 5 3M453 531M227 524l5 1 4 1M277 533M456 524M225 521l3 3 5 9M454 533M224 522l4-1 7 8 2 3M213 519M223 520l5 7 5 4 6 2M225 521l6 7 3 3M219 519l5 5 5 0 5 7M455 529l4-7M223 525l5 1 5 4 4 6M457 522M216 519l3-1 6 7 6-1 5 4M456 530M222 522l4 4 5 4 6 2M451 535l5-15M218 522l5 4 5 5M459 527M209 522l6-4 4 1 7 5 5 2 4 10M455 531M216 519l4 6 5 0 5 4 7 2M214 520l7-2 5 5 3 5 6 6M454 536l6-16M211 518l5 0 6 5 4 6 4 1 5 3M455 535M211 521l5 0 6 1 3 3 6 8 6-3M461 521M213 518l7 3 5 3 3 1 5 10M209 520l6 0 6 3 4 4 5 4M459 521M207 519l5-1M222 524l5 8M237 534M457 531M467 532M220 522l5 4 3 7 5 3M220 522l2 5 6 6M458 529M212 520l4 2 5 0 4 6 5 5 5-1M460 520M206 518M216 524l5 4 5 2 4 5 5 1M460 523M209 520l7 2 4 5 5 2 6 7M460 525M213 523l6 0 5 0 4 10M460 522M218 524l4 5 5 1M456 528l7-7M210 523l4 4 5-3 5 4 6 3M457 527M216 521l6 6 5 2M206 518M223 528l3 2M462 523M205 519M217 524l4 7 5-6 2 8M460 526M208 518l6 1 5 11 4-4 6 7M457 531M208 521l4 2 7 5 4-2 6 5M459 534M206 520l6 7 5-1 6 5 4 2 4 2M462 528M209 526l3-3 6 5 5 5 4 2M462 525M208 523l4-1 6 6 5 4M459 534l4-15M199 518M209 521l6 1 5 7 5 0M458 532l7-14M204 519l5-1 5 6 4-2 6 10M458 532l6-10M200 518l7 2 5 0 3 5 8 3 3 6M461 533M209 521l3 5 6 6 4-5 5 6M462 530M203 522l4 1 6 2 6 5 4 4 5-1M462 522M200 520l8 2 4 1 4 5 6 2 4 5M461 531l7-12M207 522l5 0 7 1 4 3 4 9M462 533M200 518M209 523l5 7 6-1 5 4M462 533M206 518l5 7 5 5 5 0M465 524M201 520l5 6 4-6 6 10 5-5M466 520M209 529l7 2 3 4M230 535M464 523M208 521l1 0 7 3 5 6M465 526M208 526l6-4 4 10 6 2M464 528M206 524l6 1 6 5 3 0M468 518M207 522l4 1 7 8M462 536M207 524l6 7 3-3M467 534M200 522l5 4 5 3 6 4 5-1M464 527M203 518l5 5 6 6 4 4M468 522M205 520l6 8 5-3M465 532M203 521l4 5 5 2 5-1M227 535M468 526M209 522l5 6 7 5M464 536M200 522l5-1 4 7 5-4 6 11M466 535l2-7M204 526l5 5 6-2M463 534l5-12M202 522l6 1 3 7 6 3 3 3M467 531M194 521M204 519l5 7 7 7 4 2M470 531l3-8M202 525l3-2 6 8 4-5 7 9M466 533l4-14M197 521l7 2 2 6 7 4 5 0M467 524M200 523l5 0 4 6 5 5M468 523l5-3M196 520l7 2 3-2 5 11 6-2 4 7M465 531M199 519l3 5 6 2 4 5 6 4M473 521M197 520l5 3 4 6 7 3 5 4M471 518M198 518l5 5 5 1 6 10 5-2M469 530M195 520l6 3 6 5 4 3 5 4M467 530l2-7M196 523l6-1 5 11 6-4M466 527l5 8M200 523l5 6 6 1 5 2 5 1M473 519M197 522l4-1 5 5 5 7 5 2M472 528M197 519l6 0 3 11 5 4M471 525M199 523l5 5 5 1M474 520M196 520l5 3 5 8 5 1M476 522M197 522l4 2 4-1 7 5 4 5M470 534l6-15M195 519l5 6 5 8 7-6 4 9M470 532l5-5M197 520l7 5 3 5 5 2 4 2M472 525l4-5M198 520l4 6 5 6 7 1M471 523M203 526l4 3M472 530M198 523l5 3 5 5M471 527M194 525M205 530l4 5M470 528M198 520l3 5 7 2M472 536l5-12M197 519l5 10 4 4M473 534M196 523l4 6 6-3 4 10 5-1M472 533l3-5M198 521l6 5 5 3M474 533l5-13M198 526l4 1 6 5 5 0 4 3M472 532l5-13M197 520l6 5 4 7M215 533M471 531l4-1M197 519l6 11 4-2 7 6M472 530l4-11M196 522l4 0 4 7M474 522M195 520l3 8 7 3 5 3M474 535l4-14M200 526l4 1 5 3 4 4M197 523l5 4 4 7M198 519l5 4 5 9M476 522M197 521l4 9 5 2M215 536M476 521M196 523l5 4 6 6 5 1M476 521M194 521l4 10 6 1 5-1M472 532M195 522l6 8 4 2M476 535l4-11M195 525l5 5 6 4M474 532l7-10M200 522l3 5 4 6M480 529l1-1M195 524l7 4M477 526l5-4M193 525l7 4 3 5 7 0M477 526M198 522l7 8M478 531l3-12M198 526l5 8 5 2 4-2M477 528l4-4M197 526l6 3M198 527l3 3M475 529l7-6M538 519M195 528l5-1 4 2M475 524l5-5M194 525l6 7M210 534M485 525M198 530l4 4 7-2M479 530l4-7 4-5M194 527l6 3 5-1M475 534l5-9M197 529l3 5 7-1M476 531l5-13M198 524l5 8M478 531l4-7M197 523l4 9M477 526l4-1M199 530l4 4M483 530l5-9M194 523l7 11 6-1M480 528l5-10M195 529l5 5 5-1M487 531l3-8M194 525l5 5 5 5M481 526l2 5 6-7M196 527l6 3 5 5M476 530l7-5 3 2M194 525l5 4 4 6M488 518"/>
<path class="p" style="marker:url(#a11)" d="M240 501l7 0 6 2 2 9 7 4 4 2M405 517M426 500M244 501l5 8 5-1 4 3M411 514M242 501l5 4 6 9M406 513M243 502l6 4 3 3 5 7M293 504M412 501M249 511l3 5M407 510M241 503l6 9 4 0M406 517M243 511l5-2 4 3 6 0M408 510M242 513l5 0M408 517M246 509l2 7 8 0M410 517l4-15M243 511l5-1M258 517M413 508M240 511l5-5M255 517M410 517l3-11M244 509l4 5M264 512M413 503M242 511M253 514M411 513l5-8 5 1M240 505l4 9 5 3 6-6M414 505M243 513l6 0M240 503M251 514M408 516M241 509l6-6 4 11M410 511l6-4M247 509l6 4M413 506M242 512M251 517M415 513l5-7M244 503l5 5M411 517l6-12 6 1M242 515l4 3M412 512l5-11 5 2M242 511M413 510l4-5 6 3M442 506M241 514M411 516l7-11M426 503M240 514l6 1M419 505l8-1M240 510M420 510l6-7M242 512M412 512l6-5 5 0 4-5M245 513M412 513l6-3 5-10M242 510l6 4M422 510l5 0 5 0M240 516M413 516l6-8 7-6M240 513M414 517l5-4 6-13 3 0M238 501l4 15M418 512l5 4 6-8M237 501l6 7M417 517M428 505l2-1M240 512M425 509l6 1 4-7M231 501l5 0 5 16M415 514l5-1 6-4 3-3M231 501M243 517M415 517l5-9 6 7M218 502M232 501l6-1M422 510M431 502M238 515M420 517l6-5M224 500M240 508M424 514l5-5 5 4M237 509M429 506M217 500M226 503M420 512l6 3M423 515l4-13 5 9M219 504M229 500l5 1 4 10M430 513l4-7M204 502M218 501M234 506l5 1 3 5M423 516l6-12M214 500M230 501l4 5 8 11M425 513l5 2M439 506M224 500M234 503l4 12M433 509l6 0 6-9M221 502l4 0M234 504M245 518M430 502l5 11 5-12M217 504l6-4M230 505l7-1M427 512l5-4M218 502l6 2 4-1 5 2 4 5M428 514l5 2 5-11M226 502l4-2 5 10M431 516l4-7M223 501l6 2 6-1 5 14M435 510l5-6 4 4 4-5M222 500l4 5 5 0 4 5M430 516l5-6 6 2 3-7M226 503l4 0 5 4M435 515l5-9 4 1M222 506l5-3 4 7 6-3M428 516M437 507l6 5M214 504l4-4 4 0 6 4 6 5 6 4M433 510l5-3 5-3 5-1M217 503l5 1 5 2 6 4 5 2M432 516M441 511l5-8M221 501l6 9 6 2 6-2M442 516l4 1M196 502M207 502M216 505l6 4 3 2 5-5 6 5M441 513l5-2 4-6M206 501l6 0 4 3 6 1 6-1 3 4 3-1M435 516M446 505l5 4M204 500l4 2 6 3 6-4 3 4 6 3 6-3M445 507M201 500M212 504l6 4 4-4 6 2 4 4 5 2M437 516l5 1 6-3 2-9M202 503M211 504l4-3 6 2 4 10 6 0 4-9M441 507l3 4M217 500l5 8 5 1 5-1 4 3M446 516l3-10M204 501l5 0 5 4 5-1 5 2 6 7 4 1M434 516l5-2M457 515M206 502l4-1M220 508l5 1 4-2 5 5M448 509M199 502M208 507l5 1 4-6 8 5 4 1 5 2 4 7M448 513M208 503l6 0 4 1 4 1 6 3 3 3 6 4M448 515l6-14M211 506l4-3 4 1 7 0 3 9M446 507l4 4M194 501M205 501l6 1 3 3 6-1 4 5 5 0 7 5M449 512l6-6M203 501l5 1M218 506l6 5 5 0 6 2M453 503M206 501l4 9 5-7 4 7 4-1 7 6 5-3M449 510M203 500M212 505l4 1 5 3 6 0 5 3M446 513l6-13M195 500M206 503M216 505l6 5 4 1 5 3 4 0M204 501l6 2 5 0 4 4 6 1 6 2M449 516l5-8M203 503l3-1 5 2 6 7 3-4 6 2 6 7M448 513l3-3M205 503l5 1 4 1 5 4 5 7 5-1 7 0M455 500M206 504l5 1 5 3 6 1 5 7 5-1 5 0M447 515l5-14M197 503M205 504l4 0 7 3 5 3 4 0M454 503M198 501l3 5 6-5 6 4 6 2 2 5 6-1 5 0M194 504M205 507l5-3 4 4 7 3 4 2 5 0 6 4M454 506M201 505l5-2 4 6 7-4 4 10 5-3 4 2M198 501l4 3 6-1 4 6 5 0 4 3 7-3 5 4M206 508l5-5 4 9 7 0 2 0 7 2M200 501l5 6 6-3 2 8 8 0 4 5 4-1M203 505l6 4 6-1 2 4 6 3 6 1 4 1M453 516l5-1M203 503l4 3 5 0 6 5 3 4 8 1M202 504l4-1 6 10 4 0 6-1 5 5 4 0M454 500M195 505l5-2 5 1 6 2 3 8 7 3 4-1 5 1M455 516M193 504l6-3 5 6 5 4 6-2 4 0M458 505M196 505l7 3 5-2 4 4 4-1 7 8 6-5M198 504l6 1 4-2 5 10 6 3 3 0M235 517M458 510M196 504l6-2 5 3 3 6 6-1 3 6M456 510M195 505l5-1 5 0 5 7 5 4 5-3 3 2M196 505l4 3 5-5 6 6 3-2 6 5M194 502l5-1 6 4 3 3 5 5M223 515M458 502M198 504l2 2 8 4 5 2 5 0 3 2M459 509M197 503l5 3 6 4 4 5 4-1M462 503l4 2M197 500l4 7 6 2 5 4 4 0 5 4M461 507M195 504l4-1 6 3 5 7 4-1 7 6M194 504l5 3 7 1 4 1 6 6 5 1 4-1M459 510M197 504l4 0 5 3 7 1 4 8M456 517l6-14M195 503l4 4 7-4 5 11 4-1 6 1M243 507M196 504l5 1 6 6 3-1 5 2 4 4M461 503M198 509l7-3 3 6 6 1 5 3M458 517M195 502l7 7 5 4 5 0 4-2 4 6M461 507M194 503l6 3 4 4 5 8 6-4 4 3M459 510M195 510l2-2 7 3 6 3 4 3 5 1M459 514M194 506l5-1 3 2 6 5M219 517M195 506l6 1 5 3 4 4 4 1 6 1M460 515M194 505l4-1 6 9 5 1 5 2M464 502M197 504l6 7 5-1 4 4 8 3M462 509l6-9M193 501l7 9 6 5 4-4M460 507l4-7M197 506l5 5 4 1 8 2 5 1M462 505M194 500l6 6 3 0 5 7 5 1M463 509M194 509l6 3 4 1M461 515M196 503l4 9 5-2 6 4M460 517l5-8M195 503l7 9 3 2 4-1M465 501M196 506l6 6 5 5M461 514l5-9M199 508l3-3 4 11M194 511l4 2 6 0 6 2M458 517l6-10M195 506l6 9 5-4M197 510l5 3M218 517M462 513M488 504M196 503l4 5 5 9 6-5 5 3M458 511M199 509l5 2 3 0 7 6M462 514l7-12M196 511l6-3 4 7M465 501M195 510l5 4M210 516M464 513M195 508l5-1 6 4M466 507l4-5M193 510l7 3 4 0 6 4M463 504l7-4M197 516l5 1 4 0 5 0M193 509l6 3 5 1M452 506M463 510l6-4M197 509l5-1 5 7 6 2M461 515l5-6M197 510l4 2M211 517l4 0M466 506M196 510l5 0M209 517M464 508M199 512l4 1M465 516l4-16M194 509l5 3 5 4M464 510M197 508l6 9M467 511l4-5M199 517l5-5M198 510l5 6M468 509M194 512M204 516M470 505M195 511l6 0M469 504M194 517M466 517l7-11M198 515l4 1M467 514l4-7M197 515M467 509l5-5M197 514M197 508l5 9M474 507M193 506M203 514M468 505l3 5M197 515l3-2M470 517M196 512M469 505M487 502M194 514l6 3 5 0M469 513l5-11M196 516l5-1M470 514M193 517l5-1 7 1M470 513l2-3M196 512l6 2M196 515l7-1M467 517l3-6 5 3M196 507l5 10M471 502M197 513M469 512M199 514M473 504l4-2M197 516l6-3M470 512l5-8M197 515M472 515l6-6M194 513l3 5 7-1M469 514l5-7M195 514M475 509M194 513l5 3M473 513M197 515M470 511l5-8M198 516M197 516M475 502M471 512l5-10M194 514M472 517M477 509M476 505M471 513l6-9M476 511M194 516M480 501l5 3M475 516l6-15M478 506M195 513M480 504M482 503l5 1M480 513l4-12M480 504l4-4M482 509M477 514l4-13 6 6M198 514M477 515l4-11 6-3M478 515l6-5M199 517M475 515l5-9 5-5M481 517l8-8M478 515M479 511M194 514M484 506l5-1 6-4M483 512l6-11M481 506M480 511M479 512l6-10M484 512l6 0 4-10M477 517l6-10 4-1 5-3M478 517l5-9 3-8M482 512l4-7M482 515l3-8 5-6M482 516l4-11 5-4M479 515l4-4 5 1 6-11M485 513l6-4M521 511M485 509l5 1M487 510l6 4 5-14M486 514M490 509l3 1 5 3M487 509l6 0M487 507l6-1 4-5M482 514l6 2 4-12M488 515l5-6M487 511l2-6 7 2M479 513M491 509l3-2M493 513M503 506M484 516l6 1 4-5M486 513l4 2 7-5M487 511l5-5 5 3M489 515l2-8 7 3M492 510l6-4 4 0M491 512M496 514l4-6M495 516l3-11 5-5M491 517l6-16 3 4M483 517M492 505l7 8"/>
<path class="p" style="marker:url(#a12)" d="M216 485M411 496l5-6M230 485M239 493M263 498M414 493l4 0M418 490M208 490l5-3M243 499M272 494M412 497l6-12 6 4M195 486M227 485M413 492l2 1M207 486M217 488l6-3 4 3M411 499l5-7M208 485M217 489l4-3M233 488l4 1M412 497M194 485M204 486l6-1 4 1 4-2M229 484M240 499M419 488l7 1M202 484M214 486M224 486M237 489M419 493M195 487l4-1 6-2M215 487l6-1M228 487l7 3M419 492l6-6M203 485l5 0 7 1M224 486l4-1 6 5 3-6M419 491l4-5 4-1M198 484l6 0 4 1M218 485l4 4 5-3 6 2M428 497M195 487l5 0 5-1M214 487l5 3 4-1 7 2 4 1M419 490l6 7 4-12M198 486l5 2 6 1 5-1 6 3 5-5 4 0 5 6 4 7M413 499l6-6M430 488M195 490l4-2 6-1 5 3 4 1 6-2 5 0 5 1 5-5M414 496l6-6 3-4M197 486l4 3M212 484l3 4 5 0 6-2 5 3 5-3M421 497l6-7M204 489l4 2 6 2 6-4 4-2 3 2 4 2 8-3M418 500l5-7 5 4 4-11M200 487l6 9 6-10 4 3 4 0 5-2 5 11 8-2M426 494l6-3M198 484l5 0 3 5 7-1 5 2 5 3 4-6 6-2 6 6M428 494M204 487l4 3 3-2 6-4 6 3 2 0 7 7 5-2M427 489M457 496M201 489l7 4 4-4 6 4 6-2 3 4 6-7 6 5M427 487M197 496l4-9 6 1 3 2 8-1 4-2 4 7 4-3 5 4M422 494M195 488l6 3 4 2 4-8 7 0 4 5 7-2 3 2 4 0M428 489M440 489M194 491l6-3 5 0 5 1 5 4 4 1 6-3 5 6 4 0M374 494M439 485M199 487l3 2 4 6 6-4 5 0 5-4 6 4 7 1 3-2M436 485M198 488l6 1M213 484l6 7 4 2 5 3 4-3 6 4M428 489l6-4 4 0M197 490l5-3 5 0 4 3 5 3 6-2 7 1 3-3 6 6M437 498l4-10M195 488l4 0 5-2 7 5 5-1 4 5 5-7 4 5 5 3M431 498M193 490l6-1 3-1 7 1 5 5 6-3 4 1 6-5 5 7M432 493M194 487l4 1 7 0 3 5 5-3 5 3 5 1 6 2 6 1M434 497l4-4 5-3M198 486l5 6 4-1 5-2 6 4 4 0 5-2 5 8M436 491l7-2 5-1M195 487l4 3 6 5 6-3 3 0 6 3 4-1 6 3 5 2M440 496l4-11M196 489l5 1 6 0 5 5 4-4 6 6 4-1M435 491l6-6M196 487l4 5 6-4 6 8 4-6 5 4 5 6M235 497M431 499l5-9 4-5 6 4M198 490l5 6 2-1 7 4M223 498l5-2M438 492l4 2 5-8M195 491l5-3 5 5 6-4 4 3 5-1 5 3 5 4 5-1M430 499l5-6 4-6M193 489l6-1 5 8 6 0 6-5 2 5M230 498l5-1M437 490l7-6 4 0M195 492l3-7 6 7 4 3 5-2 7 1 4 5 3-3 6 3M433 499l6-7 4 5 5-12M196 489l6 5 4-2 6 3M220 499M233 499l3 0M429 500l6-1 6-12 5-1M197 489l4 0 6 4 3 1 6 5 7-3 5 1 3 1 6 1M436 499l5-2M195 488l4 4 7 6 3-4 5-1M223 495M439 499l5-9M198 491M209 495l2 4M222 495l4 4M435 496l4-1 5-3 2-6M195 489l6 2 4 4 4-7M220 495l5 0M436 496M447 494l3-6M195 489l3 9 6-3 4-1 6 3 4 1M229 499M448 489M195 496l5 0 5 0 5 1 5 1M231 499M445 490M197 493l5-1 4 3 5 4M227 499M446 496M198 494l5-1 6 6 3-2M443 499l6-13M194 497l7-8 6 8 3-2 4 4 5-4M440 498l5-1 4-4M193 495l6 4 5-5 6-1 4 4 5-1M197 489l3 6 7 4 3-7 6 5M450 490M194 487l6 10 4-3 6 1 5 3 6 0M450 495M197 493l6 2 5 4 4 0 7 0M448 497l3-7M199 493l2 5 6-3M453 485M197 493l5 0 4-1 7 7M197 498l5 0 4-1 7-1 2 4M452 495M200 497M210 499M197 498l4-4M195 497l3 0M449 492l5-7M196 492M207 498M195 494M206 499M450 499M196 494l5 2 5 3 5-1M455 492M193 493l6-1M448 495l6 0M194 493l6 1M215 499M454 493M194 490M204 498M452 499M198 499l4-3M457 489M196 497l5 2 5 0M201 497M196 493l1 2M214 498M195 498l4 1M453 495M197 497M207 498M456 496M203 498M211 499M454 493M195 493l5 3M197 496M456 493M195 499l5-2M459 484M197 495l6 4M455 491M201 497M457 498M199 497M460 485M195 498M455 497M457 492M195 497l7 0M454 498l5-13M194 492M454 495l6-8M194 494l5 5M198 499M195 499M460 485M460 498M457 494l5-2M464 490l5-2M460 494M459 487l6 4M459 495M462 495M462 488M468 488M460 496l5-8M465 498M467 486M459 499l5-13M465 487M461 497l5-13M466 495M465 491l5-7M462 499l6-9M464 498l4-6M466 495l4-8M468 495M259 487M431 492M469 492M467 486M469 495l3-6M465 497l5-11M470 486M469 496M471 487M466 498M468 484M466 497l4-7M472 488M465 494l4-2M470 494l7-4M470 495M476 486M467 499M472 488M470 490l7-1M469 497M474 486M468 499l5-12 6-1M477 488M473 497l4-8M475 497M473 494M473 497M475 496M475 485M471 497l6-12M467 489M476 499M475 494l5-9M476 492M477 492M492 490M478 484M471 498l5-5 5-2M462 495M477 498l4-14M476 497l4-8M483 493l5-5M479 494l6 1 6-7M482 485M478 491l6-6M479 493M479 491l4-3 5-1M481 485l3 11M481 487M483 494M494 485M479 498l4-3M476 499l4-11 7-2M483 499l6-5 3-9M482 498M492 497M482 494M492 485M480 497l7-3M496 485M477 495l4-6 6 0M490 497l4-12M487 492l4-6M480 499l5-4 7-5M516 494M486 498l4-9M491 491M492 495l3-8 5-1M492 494M487 498l6-12M490 490M487 499M489 498M491 488l6-1 4 1M483 498l4-6 5 2M485 499M496 485M499 487M491 492l6-5M486 498l7-3M487 499l4-2M488 494l6-2 5-4M498 487M497 495M492 492l6-4 4-3M492 498l6-6M496 496M498 493l3-7M498 497l5-12M496 496l5-4 4-7M495 499l6-3M503 497M491 499l7-3 3-8M513 485M504 486l4 1M498 492l4 2M502 490l6 5M498 489l5-1M496 499l7-4 2-10M504 490M500 489l6 0M498 497M500 496l5-6M501 496l6-12M502 497l6-7 5 1M501 492l8 3M507 488l7 5M495 498l5-2 4-5 6-5M506 492l5 7 3-13M509 498l4-7M507 492l6-2M504 497l5-8"/>
<path class="p" style="marker:url(#a13)" d="M196 481l6-3 4 2 5-2M222 475l3 5 6-3 5 2M420 472M194 483l6-1 5-7 5 7 4-6 4 1 7 4M234 480M414 481l4 3 7-10M198 480l4 4 6-7 4 3 5 1 6-2 5 4 4-7 7 4M297 472M423 482l4-11M198 481l5 1 6-2 3 2 6-1 5 0 5 2 6-1 4-1M421 483l7-6M197 479l5 2M217 477l6 2 6 4 4-1 6-1M202 483l5-2 5-1 4-6 5 8M232 482l4-1M421 482l4-6M200 479l1-3M212 483M231 481l6 1M422 479l4-3M196 484l7-4M213 482M228 482M423 484l4-4M199 483M224 482M233 481M429 469l5 6M198 483M209 478M218 483M228 480l6 2M423 483l5-6 4-1 6-5M210 480M224 484M433 470M199 481M217 480M432 480M212 480M238 481M433 476l4 1M210 483M434 472l6-2M195 483M423 482M434 478l6-6M430 481l6-8M461 478M206 481M435 472l5-2M198 483M438 475M197 481M436 476l6-7M433 480l5 0 6-8M195 484M432 479l3-6M198 483M432 482l7-12M432 477l3 2 5 1M444 472l6 2M429 484l7-2M449 471M432 484M442 471M207 484M248 475M443 479l5-4M445 483l5-9M433 483l8-1 3-4M440 481l4 0 6-12M448 477M451 481M448 482M452 482M444 479l6 1M452 474M447 481M449 482M458 469M455 473M451 480l3-4M450 484M452 475l7-6M455 483M454 482M455 470M454 484l3-13M455 481l7-8M457 483M455 483M458 481l5-12M457 475M461 476l6-4M460 478M459 475M497 475M464 474M460 477M459 480l6-8M458 482l7-6M459 481l7-9M461 471M462 476M458 482l6-10M463 476M466 473l4-2M461 476l4 1M463 478l5-7M465 469M462 480l5-4M462 479l5-9M466 473M464 475M462 482l6-3M466 478M464 481M468 477M466 484l4-11M465 476M468 478M472 477l4-4M470 480M471 477l5-7M470 478l5-6M472 474M470 480l5-8M470 484M474 471M470 472M476 471M474 477M458 482M474 473M474 470M473 480M473 479M474 483M472 483M474 469M474 474l5-1 6 4M476 474M476 470M469 484l6-10M474 478M474 479M477 476M475 479M471 479l4 0M477 476l4-6M481 481M474 483l5-5M470 481l7-3M474 480l5 1M475 479l7 0M256 481M474 483M477 480l6-11M483 474l6-4M483 474l5 0M469 472M482 478l6-5M479 472l6 6 4-9M479 479l5-3 6-7M477 483l7-8M479 478M487 478M477 473l5-1M480 480M482 483l7-10 4-4M477 484l7-2 6-9 4-2M485 481l5-11M480 484M489 474M480 477l4 4 6-5M481 473l5 6M483 472l5 4M486 471M482 482l4-2 6-3 5-7M486 473l4 10M486 482l3-13 7 1M492 480l5-8M495 476M488 484l4-12M490 480M484 483l5-6M493 475M486 483l6-9 5-1M489 480l2-6 7-2M486 481l4-4M488 484M499 469M488 483l5-5 6-3M491 471l6 0M497 480l6-5 6-6M487 483M497 469M488 480M503 471M491 484M502 475M492 476M500 469M500 478M496 478l4-4M497 478l4-3M494 484l8-7 2-7M497 478l5 0 6 0 3-8M512 471M496 478l3 2 7-11M496 476l5-6M496 484l6-7 5 0 7-3M496 481l5 2 6-12M493 484l3 0 7-2M494 480l5 2 6-8M508 479l4-3M497 482l7-3M499 477l5 1M504 483l5-10 6 0M504 483l4-11M495 481l5-3 8-6M497 479l5 4 5-1 5-8M505 475l4-3M505 479l5 2 5-3M503 479l4-6 6 3 7-3M508 479M503 480l4-1M517 470M501 484l5-13 4 6M506 477l6-6 3-1M509 479M510 478l5-6M504 482l6-2 5 0 5-6 5-1M507 483l6-7 4-5M506 482M513 480M507 483l5-9M512 483l4-7M526 473M507 484l4-5 5-6M511 480M528 472M499 483M509 483l7-9M509 480l6-1M507 482l4 2 7 0 5-10 5-2M509 480M518 479M512 482l4-2 5-5M524 473M514 478l4-5 5-2M518 483l5-10M516 473l5 0M522 477l3-5M524 471M517 483l6-3M514 484l4-1 5-14"/>
<path class="p" style="marker:url(#a14)" d="M431 459M429 456M432 465M438 457M428 463l5 3 4-12M472 454M431 468l5-7 4-8M432 462l6-5M417 468M432 467l5-5M439 466l6-5M443 463l3-6M429 469M439 460l5-5 5 1M438 466M442 464l5-10M445 464l4-4M444 455M440 460l4-2M453 454M432 458M446 462M443 465l5-6 5-4M445 465l5-6M448 469l4-15M442 468l4-13M446 458l8 4M448 463M455 465M445 468M446 467l7-8M450 462l5-4M454 456M453 464M457 454M455 463M450 464l7-5M450 469l7-8M458 464l5-5M455 461M452 466M458 453M455 457M452 466l4-8M453 466l6-5M484 465M454 468M463 453M455 468l5-10M460 457M436 467M455 468M455 467M459 466M456 468l4-8M459 463M461 460M458 466l5-9M462 455M462 464M462 466M459 468l4-11M468 458M460 460M465 458M464 461M464 457M467 467M488 460M466 460M468 456M468 454M466 454M467 461l3-5M469 463M466 460M461 468l6-10M471 460M474 464M469 466M470 455M472 453M465 468l6-6M467 462l7-4M472 455M470 469l7-15M465 466l5-2 5-6M469 466l5-5M471 461M472 460l6-4M475 462M469 467l4-7M471 463l4-5M474 460M468 466l4-9M481 457M478 458l3-3M485 457M477 456M474 467l6-9M477 466l4-12M475 465l6-12 4 1M477 454M477 460l7-2M478 455M479 459l5-4M479 466l5-11M479 468l3-6 6-6M481 461l4-5 5 2M478 464M480 463l1-6M480 455l4 1M489 459M481 458l4 1M479 459l6 3M480 457l7-2M479 454l5 4M480 468l5-5 4-5M483 463M480 459M482 466l6-10M481 465l3-8M491 459M486 466l4-12 6 4M484 463l4-3 5-2M482 459l4 6M484 469l5-7 6-8M486 464l5 3M481 469l5-1 5-4M481 466l5-7 4 1 5-3M488 458l5-2 5 0M493 454M491 462l6-3M491 455l6 6M493 458M494 456l6-2M488 466l5-7M485 468l6-5 5 3M482 467M493 466l5-9 4-1M488 469l6-12M486 462l5 2 4-9M497 457l5 0M496 466l4-10M494 466l5-11M494 465M505 454M495 466l6 1 5-11M495 462l4 0M492 462l5 3 3-4M502 457M511 455M496 468l5-1 6-13 4-1M500 463M503 465M499 466l6-8M514 454M496 461l6 5 6-8 5-3M495 467l5-10 5 2M496 466l3-8M509 454M499 464l4 3 5-8M503 468l2-15M504 460M497 465l5-11 4 6M501 460l7-2M504 465M502 455l5 3M513 463M503 467l5 1 4-9M497 464M508 460M506 462M496 468M507 458l4 0M503 467l7-4 3-1M507 468l4-9 6-4M506 468l5 1M517 455l5 7M506 466M515 454M510 460l4-4M507 463l5 2M516 465M525 458M513 463M522 455M507 466l6-8 5-3M508 461l7-3 3 1M517 464l4-8M508 466l4 0 4-11 6 5 6-2M490 466M510 458M521 459M518 458l5 2M512 463l5 3 6-11M512 468l4-14 6 2M517 458l4-3 5-1M514 463l6 0 6 3M520 457l4 1M523 460M513 462l2 1 7-9 5 0M522 458M515 461M521 458l4 4M512 465l6-1M535 457M522 457M515 464l6-9 5 2M520 468l7-8M518 468l4-6M521 465M532 460l4-4M523 468l4-6M537 463M516 466l7 1M519 465l6-8 6 3 5-3M520 465l5-11 6 2M533 462M513 460M524 464l5-5M527 462l5-1M518 467M527 461M536 461M528 456l5 3M528 458M525 464l4-8 8 1M529 454M540 455l4 3M528 466M525 461l6-2 6 0M529 465l5 0 4-3"/>
<path class="p" style="marker:url(#a15)" d="M438 452l2-10 6 4M433 453l5-7 6-5 6-3M437 451l4-11 7 0M442 441l4-2M443 449l5-6M445 448M443 452l5-12M457 440M442 450l4-11 6 4M451 445l4-6M453 439M443 452l4-5M455 447l4-9M449 449l3-3M449 449M450 447l8-7M458 446M456 450M458 450M452 446M456 439M452 452l6-6M456 451l4-6M457 448l7-9M453 452l6-12M476 439M456 453l7-7M459 442l6-3M460 448M458 447M461 439l8-1M461 452l3-9M460 441M461 439M458 444l7-4M459 453l5-15M454 452M463 443M460 451M461 450M465 447M465 441M459 452l4-3M464 442M461 451l6-11M463 448l5-2M493 449M460 453l5-6 6-8M465 453l3-12M466 446M464 448M466 438l5 1M468 446M468 453l5-5M467 449l5 2M465 447l6 2M466 449l6-7 4-4M469 450l4-9M473 447M465 451M470 452l6-8M469 449l6-9 4-1M469 449l5-2M469 446M479 438M472 443l5-3M472 448l3-5M469 447M473 448l5-10M474 445M471 445M476 443l5-5M480 441M472 445M498 446M475 451l4-12M471 453M475 439M476 444M474 448M476 443M471 450l7-11M475 445M474 445M478 452l4-13M478 450l3-7M480 443M477 451M479 452l4-8M478 451l4-5M483 444l5 2M480 446M484 443M481 451l4-10M478 451M476 452l7-10M486 447l6-5M487 448M496 438M480 452l6-9 5-4M481 438M490 445l5-5M482 447l5-2M481 451l4-1 4-9M483 450M495 438M489 448l3 5M490 442l7-3M485 452l4-7 4-2M488 451l5-13M483 445l6 5 5-7M490 444l3-5M490 442M494 451l5-8 3-5M496 439l5 3M482 450l6 1M499 438M490 452l3-6 4-5M490 450M495 444M506 438M491 442l4 6 5-4M491 451l5-5M507 445M492 446l4-8M489 447M494 446l6-3M491 451M485 453l5-3 3-4M493 452l5-7M490 444l6-6 4 6M495 445M500 443M499 445l4-4M492 452l6-10 4 0M498 442M496 450l6-7M497 444M506 438M499 446M503 443l4-3M497 451l7-7M501 438l6 0M508 441M499 448l5 3 6-12M504 446l5-5M499 445l5 1M501 440l5 8 5-8M506 450M496 449l7-1 4-3M500 453l6-11M507 443M498 452l7-9 4 1M505 451M514 439M505 445M500 451M509 446M510 447l6-3 6-4M504 447l4 2M505 445l7-3M507 453M517 445l4-6M516 446M505 444l4-5 6 0M508 446l6-1M511 452M520 439M517 444l5 0M509 450l4 0M506 452M515 441M512 447M511 453l5-1 6-12M509 448l4 2M511 446l3 1 6-8M512 449l6-4M508 452l5-2 7-8 3 2M511 448l5 1M523 445l4-4M518 452l2-5M512 447l7 4M511 452l5 0 6-2 3-3M517 451l4-5M520 448l4-3M521 441M537 444M509 452l5 0M524 439M534 440M525 439M536 438M520 442l6 3M519 443l6-5M517 453l3-9 5 0 7-2 4 2M522 452M537 439M517 453M527 448M523 451l2-8M538 443M525 449l5-8M527 447M515 452M527 453l1-12M529 453l4-10M527 452l5-12M533 445l3-5M529 448M531 446M528 445M538 441M531 442l5-4M512 445M527 449l4-9M520 449l5 2 6 1M530 445l6-7M524 450l5-10M525 450l3 1 7-11 7 10M539 445M527 449l5-6 7-2M532 450l4-5 6-7M533 446l5-7 5 3M526 445l6-3M591 449M532 450M545 441M534 449l5-9M538 449M549 442l4-4M534 446l6 2M538 442l2 0M534 448M542 442l6-3M538 452M534 452l5-8 4 4M534 446M550 441M518 442M534 453l3-9M541 445M544 445l5-6"/>
<path class="p" style="marker:url(#a16)" d="M452 430l2-7 5 1M454 423M452 433l5-8M452 434M454 436l4-9 4-2M453 431l3-3 6-4M453 433M459 431M458 423M458 432M455 436l4-6 4-6M452 436l5-3M454 430l2 2 4-4M459 434M461 433M462 424M462 429M464 433M461 429M462 429M461 425M459 435l6-4M464 422M468 429M462 430l5-3M466 428M469 424M463 426M464 431l5 0 4-2M451 430M471 427M470 432M466 430l6-4M464 425M467 425M470 426M469 431M469 430l6-5 2-3M467 434M467 428l5 0M468 429l6 2M468 432M470 436M470 434l3-9M469 435l5-6M472 434M473 432M476 425M474 436M469 435l6-8M471 433l3-3M477 427M473 429l5-1M478 436M477 430M476 429M481 423M477 432l5-8M471 438l4-3M481 423M479 436l7-2M473 436M483 427M454 435M480 427M505 433M476 429l3 3M483 433M478 432l6-8M477 434l4-6M515 429M487 434l4-10M485 429l5-5M477 434l5-11 3 7M489 427M476 436l4-9 7 1M480 436l5-4M482 438l5-8M479 432M488 423M481 436l6-11 4 5M482 435l6-12M480 431l5-3M479 434l6 1 5-5 5-6M489 425l5-1M487 437M486 424l5 8 4-6M484 432l6-2M489 432l6-1M486 432l7-8 5 1M493 432M486 436l5-11M479 436M489 434l7-8M511 428M489 430M500 424M483 435l6-6 4-2M488 431l3-2M495 425M491 433M496 428l3 3M500 435M492 431l5-4 3-3M494 432l5-6 6-4M491 437M500 423l5 4M498 430l5-1M500 424M499 430l5-4M497 430l7-5M498 435M499 432l5-7M494 426l4 4 5-8M507 429M506 437l5-11M493 430M500 426l5-1M503 427l6-2M493 436l8-8M499 437M505 424M501 434M501 432l4 1M493 436l6-9 6 9M504 426M498 436l5-1 4-8M499 438l5-12 6-1M504 435M513 426M507 432M500 436l6 0M505 435l6-1M508 437l5-4 5-10M512 431l5-6M503 434l7-4 3-4M505 428l7-4M526 428M503 437M506 431M515 429l5-6M513 436l5-12M507 436l6-5 5 4M510 434l7-9M512 436l5-11M514 433l5-4M514 434l6-10M508 433l5-5 5-1M515 424M511 435l6-6 4-2M513 426l5 4M510 434l6-7 6-2M514 437l3 0M513 436l6-2 5-9M509 434M520 427M511 433l5 4 4-10M514 437l7-1 3-7 5-6M514 437l3-2 7 0M534 424M516 434l4-1M527 430l5-4M520 431l7-1M520 428M520 434l3-11 5 5M526 430l4-4M527 424l6 4M520 436l4 0M519 430l5 4M517 437M531 433M518 426l7-2 3 9 6-2M527 435l4-12M522 431l4-1 6-4M530 433l3-6 6-2M522 430l5-5 3 6M532 428l6 1M523 432l5-4M530 429l5-5M546 425M527 433l4 0M529 436M522 438l4-12 5 5M525 433M520 436M531 428M536 432l4-3M529 436l5-5M549 425M531 436M541 435l7-7M530 433l7-3 5-6M531 437M542 428M532 431l3 3M538 424M535 431l6 5M542 437l5-13 5 9M525 434l7-4 4 7 5-7M542 428M538 434l8-9M535 426l6 10 4-3M555 430M534 435M544 425l2 1M536 428l6 4M535 423M556 425M545 432M549 432M557 424M558 430M536 429l10-3M541 432M556 424M541 435l5-7M567 430M548 431l4-7M540 438M554 425M543 426M544 436l4-1M561 436M556 431M553 432M562 431M548 430M551 432M559 430M559 431M543 435M546 429l5-1M558 426"/>
<path class="p" style="marker:url(#a17)" d="M491 412M460 408l6 0M461 412M456 418M467 409M465 413M463 417M462 416M464 411M463 413M462 421l6-6M466 411M466 419l3-9M463 420M463 422M466 422M469 422M467 422M467 417l5-5M466 417M468 412l5 3M466 416M468 417l6-4M469 415M472 417M472 418M470 418l4-8M475 419l5-9M470 422M471 422l6-6M474 416M475 418l4-4M470 419l6-1M476 417l4-6M479 417M473 420M482 410M476 420l4-6M479 417l5-3M481 421l4-7M481 408M480 421l5-10M479 412l6-3M480 418l4-9M480 421M482 413l6-2M482 417l7-3M483 420M483 411l3 3M481 415l5-2M486 419l5-5M479 411l5 4M485 414l7 0M502 409M481 421l5-6 6-2M486 421l4-8M484 419l5-10M490 417M500 411M484 419l6-8M490 419l6-10M485 416l6-7M484 421l6-7 4-3M487 420l5-2M490 421l5-8 5-4M485 416l6 1 4-9M496 413l4-3M493 413l6-4M492 415M485 421M495 417M489 419M501 410M490 410M490 422M502 409M485 421M494 411M495 412M491 419l5-4M491 422l5-5 5-3M501 414M498 416l5-8M492 421l4-1M500 413l5-3M494 421l6-12 4 6M499 418l5-8M504 421M498 420l6-3 4-5M496 422l4-4M498 413M496 419M505 413M498 418M497 416l4 3 8-11M503 417l4-7M501 418l4-8M506 412M514 410M506 418l5-5M507 417M508 413M510 412M508 421l5-13M503 422l8-9M509 408l4 3 7-2M509 421l6-12M504 419l5 3M510 417l5-8M508 422M513 410l3 2M516 422l5-14M514 414l3-4 5-1M514 413M503 417l7 1M510 415l5 2M511 416l4 5M513 420l3-7M512 421l4-2 6-9M508 418l4-8M510 421l5-1M512 418l6-6 5 2M515 419l5-9M508 421M520 409l3 4M509 419l6 2M484 420M510 422l5-8M515 419l7-9M524 413M534 408M507 422M522 411M519 421l4-10M516 421M535 419M511 418l7 4M510 420M523 417M523 415l4 2M538 408M522 421l4-10M523 409l4 2M524 413l4-2M519 420M531 417M526 414M521 413l7 0M538 409M526 421l4-8M521 415M531 408l6 1M529 414l6-6 4 13 5-8M524 419l7-2M525 421M535 412M526 420l5-8M527 417M531 417M537 411M532 421l4-12M525 418l6 1M533 418l6-9M536 412l6 8M530 417l3 4M529 420l5-7M534 418l5-8 3 5M526 420M537 416M539 410M537 413M543 417M553 414M535 422l11-14 6 0M518 412M526 411l6 3 6-5 3 10M533 411l4-2 5 12M566 412M538 410l3 10M535 419l5-9 6 9M551 414M530 420M547 414M529 421M540 413M554 408M541 418M529 421M550 411M546 409M543 409l3 4M556 415M553 410M534 418l5-1M541 413M547 409M557 411l5-3M543 422l12-8M539 417l5 3 5 1M539 416M545 417M565 410M551 416l6-8M549 410M565 413M563 413M541 421l6-8 5-2M547 411l5 6M542 414l11 3M541 421l6-3 4-5M538 416l6 0M555 408M545 416l4 5M550 409l6 4M543 415M553 417M577 408M548 422l3-7 6 0M567 416l5 4M563 416M558 422M547 420l4-2M554 418M542 411M557 414M555 410l5 8 4-3M544 422l6-5M563 410M573 421M564 411M546 416l4 0M577 409l4 0M558 414M553 409M562 418M555 421M566 410M556 415M563 409l8 2M549 421l10 1 4-1M557 416l10 6M553 408"/>
<path class="p" style="marker:url(#a18)" d="M465 404l6-7M468 406M462 405l6-2M471 397M468 405M467 394M471 401M468 404l6-7 4-3M469 405M471 398M471 403l6-5M474 403M469 404M470 407l5-10M471 407l4-6M472 408l6-12M471 397l6-3M477 395M472 400l4-2 5-5M483 393M471 398l7 0M481 403l4-5M475 399M478 395M472 404M476 406l6-6 6-6M476 404l6-7M481 395l3-2 5 1M479 407l4 0 6-10M476 405l5-9 6 0M484 395M476 406l5-5M477 407l5-3M482 403l5-2 5-5M503 404M479 404l5-3 7-3M483 401M482 404l5-7M481 405M485 403l6-7M489 397M479 407M485 406l5-9M490 402l2-2M490 406l4-8M476 405M487 404M478 403l6-1 3 5M491 406l4-7M489 404M492 399l4 0M486 402l5-4M493 398l4-3M493 406l4-11 6 0M487 406l5-1 5-2 4-9M492 405l5-11M491 403l6 2M495 402l5-3M489 407M498 396M496 402M497 399l3-6M494 406l7-3 4-7M494 396l5-1 5-1M494 405M492 406M501 403l5-10M498 396l2 4M500 397l4 4M499 407l3-9M504 400M502 402M507 399M474 393M506 397M502 406l5-8M499 399l6 2 4-1M496 403M505 397l7-2M495 403l5-7M509 399M497 407M506 406M500 404l5-3M500 407l5-3 6-8M502 406l3-1 7-5M506 401l6-8 5 2M507 398l5-1 3-1M509 406l6-9M501 406l4-5 6-2M511 396M508 404M509 400M519 401M506 399l6-5M513 402M506 407l5-4M502 403M513 404M511 404l4-6M503 406l6-1 5-6M512 394M512 405l4-11M512 408l3-11 7 4 4-8M509 407M520 401l6 0M515 401l6-5M512 402M515 403l3-9M515 406l6-7M519 401l3 5M516 407M526 397M523 395M518 393M511 401l9 1 2-8M519 402M515 404M524 404l4-7M522 404l7-4M524 393M527 400l4-2M519 404l6-8M516 406M524 406M519 402M521 405l3-11 4 4M521 404l4-7 6-3M525 397M518 405l6 1 4-7M520 404l4 0M534 397M527 394M525 397l5 5M527 396M521 406l5-6M540 394M519 406l4-10 7 0 3 7M526 408l4-10M539 394M530 398M544 395M528 402l4-8M529 406M522 403M522 406l5-10 4 2M526 405l4-1 7-7M529 406l3-11 5 10 5-10M533 408M558 394M532 399l5-3M503 403M532 395l5 4M532 398M544 401M524 405l4 0M534 400M525 401M533 399l2 3M541 395M536 397l6-3M527 407M541 406M545 398M530 401M541 398M532 405l7-2M541 397M538 408l5-11M526 405M542 401l4-6M566 394M541 403l5-5M542 397M535 404M542 401l5-1 5 5M536 398l6 2 5-1 3 3M548 405M540 402l3 1 5-8M529 395M540 396M534 397l7 1M560 398M542 399l4-3 8-1M548 395M543 406l11-9 5-1M547 398l5-1M549 404l3-11M541 402M551 398M547 397M573 404M537 405l4 1 6-4M556 395l5 12M544 406l6-10M580 397M546 401M558 393M554 396M539 404M566 397M552 403M492 400M552 394M562 396M576 400M547 406l5-5 3-6M558 397l10-1M544 403l5-6 6 10 3-4M550 403l7-4M566 398M530 407M553 401M566 397M585 395M553 395M562 402M561 393M545 407M553 398M580 394M548 404M560 398M552 402M562 401M568 398M555 400l12 1M572 396l4 1M547 402M558 397M564 403M580 402M567 398l3-1M563 396l5-1M548 404l5 3M552 404M588 407M561 397M576 402M572 407M562 398M583 402M566 408l4-13 5-1M568 403M578 407M555 404M562 403l4 2 5 2M574 395M552 403M558 402M569 402l3-4M571 397M564 408l4-4"/>
<path class="p" style="marker:url(#a19)" d="M478 382M470 387l5 2M473 391l5-9M472 389M479 391l4-8M476 388l5-4M473 393l4-6 6-5M472 393l5-9M473 389l6-11M482 379M475 391l4-4 6-7M478 391l5-5M483 392M479 387l5 1 5-9M474 393l5-1M479 389l5 1M482 393l4-5 5 1M484 385l3-2M482 381l4 3M481 389l6-8 7-1M486 385M496 382M478 390M488 380M482 388l3-5 5-5M490 388l3-8M479 391l6-4 5-5M483 389l4-9 4 1M484 388l2-6 8 1M491 379M486 392l3-4M493 390l5-6M491 379M495 381M486 391l5-1M486 390l5-6 5-3M497 385M495 391l4-7M488 388l6-7M493 383M486 390l4 1 6-3M495 380l7 9M494 390l4 2M489 390l4 2 3-9M495 389M499 389M508 379M499 387l4 2M491 392l7-7 3 3M497 386M501 383l5-4 4 1M494 389M505 386M500 390l6-4M496 392l4-11 6-2M502 382l5 5M508 389l5-5M509 387M502 387l5-2M501 392l5-9M506 392M494 393M505 391l5-8M508 392l5-11M506 389M510 386M509 386l4-2M510 392M505 390l3-4 5-5M511 388l6 0M511 381l4-1M508 380l7 1M508 390l6 1 3-10 6-3M511 385l3-2M505 388l6-4M511 390M509 392l4-5 6-4M513 387M514 387M515 386l6 3M515 380M510 390l9-3M509 389l6-1M515 379M517 388M521 382M520 381l5 1M518 385l5 2M516 381l6-3 5 7 6-5M562 381M515 391l5-9M515 392l5-6 5-1M513 389M523 379M518 390l5-4M517 387l5 2M515 391l5-4M520 386l5 7M521 387l5 5M540 383M519 378l4 8 5-7M516 389M524 390l2-12M525 388l6-5M515 391l6-1 6-6M525 387M525 391l4-12M535 382M519 393M530 390M529 382l5 5M525 390l3-7M529 389l5-2 6-6M526 391l5 0M531 387M565 378M536 384M528 389l4-3M542 384M531 381M526 391l9-1M534 379M544 384M536 392M532 380M533 380M532 385M533 391l3-1M534 393l6-14M533 383M531 392l5-3M536 390M538 387M548 382M541 388M535 389M530 390M537 388l3-6M539 389M547 382M544 386l5-7 3-1M542 383l4 2M542 390l5 0M539 391M553 381M540 389M543 387l5-1M540 393l5-14 5 4M542 384M548 389l2-10M551 384M559 386M546 385l6-4M549 385M533 391M550 387M549 385M545 385l4-5 5 5M574 380M545 390l7-2M554 388M564 383M537 389M551 392M562 381M546 391M539 389M558 387M567 379M551 391l7 1M554 389l4-1M539 390l6 2 4-5 5-2M549 390l5-9M565 384M553 385l4-6M549 391l5-6 3-5M550 393M586 378M558 384l5-2M578 379M556 385l6 6M572 393M573 385M552 391M562 391M550 386l3 4M542 392M556 391l6-10 4 6 6-3M552 388M567 387M554 386l4 6M570 381l5 4M562 385l3-2M567 384M572 387M573 386M569 389l7-5M561 379M572 379l6 4M586 386M567 380l5 0M574 381M558 381l6-1M556 391M575 391M550 385M571 380l10 1M636 382M563 388l3 3 5-5M535 384M574 383M558 387M569 378M562 392M580 389M587 381M580 385M556 383l4 9 6-12 4 3M579 378M556 390l4-8M587 381M562 392M568 382M563 393l4-7 5 2M567 387l4 5M558 393l5-9M581 378M567 385l5 8M586 379M579 390M586 380M563 392M577 382M567 384l5 6M586 384M578 383M587 381M569 380l3 12M572 385l5-4M588 381"/>
<path class="p" style="marker:url(#a20)" d="M481 378l6-10M480 377l3-13 7-4M482 374l5-9 6-4M477 370l5 3 6-8M488 360M486 370l5 3 5-13M487 368M498 363M481 377l6-5 5-12M485 376l5-5 4-7M489 372l5 1 4-9M489 374l6-9M488 377l6-11M487 375l5-16M502 368M494 364M484 377l6-3M490 374l5-4 5-1M496 368l5-4M492 377l7-13 6-4M492 372l4-6 5 1M498 369l5-3M492 372M502 359M493 373l5-13M496 364M499 377M494 372l6-10M497 373l5-1M498 370l5-1M495 378l8-12 3-7M495 376l4-8 6-9M493 375l6-9M503 370M498 367l4-2 4-4M489 377M499 376M496 374l5 1 5-8M500 373l6-1 4-10 4 3M507 364M517 359M504 369l6-3 2-6M498 372l6-7M499 375l5-7 4 2 5 1M501 374l6-5 4-6M506 375l5-10M504 376l6-9M519 363M503 374l5-7 4-1M501 377l4-6 5-7 4-5M504 375M514 367M511 376l3-10M507 373l6-5 3-3M504 375l5 1 4-13 5 0M514 367l6-6 7 6M499 377M509 369l7-8M511 372l4-11M510 371l5-7M512 373l5-8M518 368M527 360M513 372l5-4 5 1M511 376l5-13M512 374l4-7 3-8 8 3M510 376l5-7 5-7 6-2M545 374M515 365M525 367M516 364l6 4 5-5M511 378l5-3 4-3M515 377l5-5 4-3M519 373M506 363M515 378l4-8 6-7 4-1M518 368l5-1M523 373M521 371l5 1 4-9 6-2M519 369l6-2M533 362M528 364M649 371M520 371l6-9M521 372l4 0 6-5M516 374l5-4 5-2 4-2 5-6M523 370M516 375l6-3M530 359l9 2M520 375l4-5M534 366M544 366M527 367l4-2 5 2M504 375M521 373l4-11 4-3M523 373l3 5M518 377l6-7M536 367M520 364l6 10 8-8M523 377M525 367l6 4M529 367l6-4M528 378l4 0 7-5M539 375M530 370l6-4M530 375l4-11 6-5 5 1M528 365l6-3M527 373l5 0M547 362M526 368l8-3 4-2M526 374M529 369l4 7M530 378l4-17M533 364M527 374l6-1 5 3M532 372l4-5M545 364M530 373l6 1 5-12M535 366M538 365M532 370M530 378l6-5 3 3M535 362l5 9M537 377l6-13M553 363l4-3M536 364l5-3M539 363M534 376l4-2M584 363M563 361M536 374l4 3M552 367M521 365M539 375M532 369l5-1M563 360M535 374l5-2 6 3 3-4M542 376l3-4 7-8M571 360l7 4M540 373M535 376l5-3 4-9M540 374l5 4 10-12M539 377M540 378l6-9 15-9M552 360M538 378l5-7 6-12 14 5M540 362l4 13M559 361M542 365l6 1M544 377l5-10M543 374l4-12 5 3M546 371M540 372l5-4 5 5M545 375M554 371l4-8M535 370M546 369l5 9M571 361M548 368M542 372l5 1M558 365l9 5M552 365M546 377l4 0 10-17 5 12M553 359l5 6M563 359M552 368M571 363M553 364M563 361M558 364M573 360M549 373l3 1M580 364M539 377M559 365M555 371l5 3M571 363M547 367l6 1 4 7 5-3M561 370M571 366l6 8M547 372M555 365M581 359M557 373l5-6 6 2M563 367M540 373M555 363l5 10 5-14M559 360l7 5M555 377M566 374M585 361M548 375M561 375M556 375M571 359l5 0M551 373M571 377M552 378l5-16M566 370l4-2M550 369l5-4M573 364M590 369M555 370M564 362l5 2M563 377M565 376l4 0M581 363M557 368M580 364M572 372l6 0M560 365M564 361M578 359M556 376M566 367M574 366M571 375M592 377M563 368M574 368M589 362M565 368M563 373l4-9 6-1 10 2M556 365M582 364l6 9M612 367M583 365M555 371l6 1M575 368l5-4 5-2M555 376M566 364M559 370l6 7 4-1 5-16 6 18M568 362M587 365M550 373M580 374M559 374l6-6M583 370M562 376M561 373l11 2M576 366M572 377M582 367M563 360l3 5M578 378M578 376M583 370l4-11M560 377M588 368M568 369M590 364M573 372M586 362M741 363M576 364M559 372M585 368M568 376l13-2 3 0M579 368l5-6M556 366M593 367M575 363l7 11M586 363M587 378M568 368l5-5M583 364M604 364M576 371l4-2 6 0M573 369M582 372M585 364M580 370M583 362l3 2M576 371M588 365M582 371M570 359l5 11M590 374M589 374M575 372M585 363M592 369M578 373l5-5M575 371M574 371M590 364M689 365M582 378l4-14M596 372M577 373l6-2"/>
<path class="p" style="marker:url(#a21)" d="M494 356l5-15M494 349l5 0 4-6 5-3M497 353l6-14 5 0M491 352l7-1 5-2M498 347l4-1M502 343l5 12M493 358M502 352l5-12 5 2M497 352l5-7 5-4 6-3M499 348l5-1 6-6M504 354M499 350l5-2M497 357l6-7M497 353M506 340M499 358l4-1 6-10M492 359l7-13 4 2 5-8 5 7M505 356l6-10M506 352M517 342M509 347l4-1M506 347l4-4M508 357l4-9M508 351l4-1M502 357l5-10 7-3M500 349l7 5 4-6M505 355l4 3 5-18 7 1M506 352l5-8 4-5M508 358l5-8 5 0M507 357l6-6M513 355l5-1M510 353l5-6M505 356l4-5 4-7M508 359l5-7 5-5M513 348l3 5M506 356l4-3 4-2 7-7M511 353l5-3M530 348M522 344l4-1 3 7M509 354l4-7 7-9M518 350l6-10 3 3M515 356l5-8 5 3M515 356l7-7 5-6M514 356M523 345l5-2M518 352l5 3 5-16M519 357M530 340l5 11M519 349l5 0 3-5M518 357l5-19 6 20M522 350l6 0M546 346M523 349l5 3 4-8M531 351M519 355l7-13 3 7M521 357l3-8M519 345l7-1 4-4M522 351l5-7 6 8 10-7M524 348M532 346M527 350l4-8M522 354l5-3 5-9M535 343M540 342M520 359M530 356l5-7M533 343l4 3M525 355l6-8 6 5 5-10M529 357l6-6M525 359l4-5 5-14M535 356l5-18M529 355l3-2 6-3M528 351l3 5M560 342M530 349M540 354l6-11M534 348l10-7M528 355l6 0M536 354l4-4 6-12M547 339M528 352l6-1M545 346M526 351M546 356M530 356M539 349M541 358M552 352M536 358l3-10 6 3 6-3M532 343l9 1M531 356M539 349M535 359M533 356l5-7 4-6 6 3M536 340l4 13M538 344l6-3M544 343M542 355l4-15M567 339M525 351M541 355l4-3M539 357M549 345M538 358M544 353M558 340M532 352l4 1 5 1 4-4M562 350M539 349l10-5M578 353M544 346M565 347M543 344l5 5 6-4M521 343M543 346l4 3 6-2M545 343M556 338M541 353l4-1 5-4M534 342M546 354l4-3 5-9M536 352l6-9 3-1M561 357l5-11 5-3M545 347l4 1 4-7M545 347l6-7M548 341M564 350M545 351l6-5M565 339M576 340M544 352l4 0 5-1 5-3M544 357l5-8M544 352l9-3M545 354M553 348M543 354l7 1M543 352M558 338M573 344M560 345M570 355M563 355M549 351l4-2M564 340M573 345M605 338M683 340M551 349M565 348M560 354l4-6M573 348M550 341l3 12M564 343M546 347M555 343l6-1M572 340M550 354M569 342M573 346M553 346l8-7M590 341M560 355M550 351l5 5M568 343M575 344M554 349M565 344l5 10M646 346M552 346M560 347M564 354l5 2 5-16 4 12M558 350l4 6 5-7M581 359M554 346M574 344M552 353M548 355M557 347l4 4 5-6M575 342M584 342M563 345l5 9M573 348M558 355M567 355M576 351M558 352M572 345l6-5 4 18M608 350M563 347l6 8M584 340M566 353M564 357M567 355M590 346M569 355l3-5 5-12 5 3 5 2M533 340M566 346l5 10M570 358l9-12M555 354M581 354l4 0 5-11M559 354l5-2 5 1M590 345M561 353M571 350M567 356l6-12M562 346M555 358M562 353M577 356M590 340M561 352l4-7M576 353l3-14M564 347M583 347M561 343M575 355M576 345l7 1M583 344M564 349l10 1M558 356M583 353M594 339M574 347M584 347M610 340M649 342M570 345M568 357M581 357M560 355M569 354M578 358M594 340M567 359M592 359M558 358l6-12 4 9M673 349M570 359M581 346l6-5M581 355M591 346l9-1M575 359M568 346l6 11M582 358M672 356M574 357l12-11M578 356M640 348M571 351M586 359M587 352l4-5M582 347l6 10M587 353M579 354M582 358M598 345M596 349M613 354M646 344M695 348M570 348M605 355M680 343M578 350M582 358M600 347M582 339M597 353l11-2M588 351M589 352M721 348M565 352M604 347M575 349l7 5M596 347M589 346M571 352M586 350l6-7 4-3M598 344l5 4 5 9M576 354M591 342M585 349l9-2M608 353M597 346l5 0M631 339M682 341M578 356M585 353M594 352l11-1M594 339M588 343M603 356M593 357M591 350M617 339M590 354l6-7M610 341M731 339M580 348l6 8M600 356l5-12M577 352M591 341M611 342M691 344M712 339M598 344M642 340"/>
<path class="p" style="marker:url(#a22)" d="M507 336l4-11 4-4M513 330l6-9M512 328M505 338l8-17M507 337l4-10 7-9M510 336l4-15 7-3M517 324M517 326M515 332l5-11M508 336l4 0 5-4M509 338l5-8 5 8M506 336l7 0 5-1M529 321M513 331l4-3M516 337l3-7 5-12M519 324l5 5M513 335l7-12 4-5M512 326M521 329l4-3 6-5M517 332l5-3M532 319M517 334l4-11M517 334l6-15 6 9M537 322M517 336l5 1 4-4M518 335l5-6M517 336l4-3 4-14M524 327l6-1M520 327l4 1M534 319M523 335l5 2 4-19M519 336l3-13M533 326M523 335l9-11M521 332l6-1 4-10 5 16M519 333l4-4 7-5M523 333l6-10M538 325M521 337l5-13M526 333l10-6M520 337l6-3 6-9 5-7M525 338M536 331l4-10M527 334l5-4M542 325M535 331l9-7M523 331l6-3M545 326M533 324l5-6M530 336l4-12 6-5M532 325M534 333M544 324M532 325M547 325M526 336M534 337l5-11M533 335l7-10M531 336l6-11M538 318l7 8M533 330l6 4 5-13 7-1M611 318M533 328l6-7 6 2M530 336l5-1 6-4 5-9 3-1 7-1M535 328l5-5 5-1M546 319M538 329l5 4M537 330M577 321M536 327M564 318M530 335M542 324l4 0M535 332M550 325M539 337l5-9M541 337M566 326M546 324M555 333l6-11M544 323l6 12M539 337M545 319l5 1 5 9M594 333M544 326l3 9M559 324M538 336l4-6M542 322l3 13 6-11 5-1M639 334M551 326M574 319M550 324l2-3 7-1M540 337l6-13M550 325M550 322M540 330M549 329M562 326M549 320M547 330M556 329M570 321M548 329l9-11M588 335M543 330l6 3M565 324M541 337l10 0 4-19M578 333M551 333l6-7M567 326M545 337l6-16M565 324M575 319M551 322M555 332M563 328l5-2M552 337l8-9M580 319l6-1M549 336l6-12M565 323l9 0M543 338M554 330l5 8 4-11M578 322M804 328M542 332M559 326M718 334M548 338l4-8M556 330M566 325l4-6M584 332l6-11M555 328l5-9M539 334M569 323M558 333M552 334l4-7 6 10M552 337M576 328M591 329M565 335l10-11 6 9M635 324M561 337l4-16M551 332M576 323M676 318M559 327l6 3 4-3 12 6M570 325l5-1M685 335M568 324l5 14M555 338l4-7M569 323M570 333l4-14M590 332M553 327l5-8M578 327M594 320M568 322l5 12M688 337M560 337M586 329M553 338l6-7 6 7 3-20M591 329M547 338M567 328M587 321M555 336M589 322M558 335M568 331M582 325M569 321M579 324M597 329M520 331M554 332M571 335l3-2M570 326M578 319M558 333M570 318M584 325M567 337M577 336M587 320l5 11M579 334M563 330M556 321l11-2M578 321l3 7M568 332M567 337l6-10 4 9 6-4M594 328M561 338M571 333M561 324M575 318M606 336M554 336M566 319M575 324M592 336l10-11M558 323l5 11M579 324M572 320M580 338M592 331M601 338M572 325M586 318M569 334M572 330l6 1M789 321M562 337M586 318M587 327M588 337M628 325M569 325l4-1M589 330M602 321M568 321M593 329M580 320M600 331M568 335M590 326M587 337M583 321M631 319M582 326l8-5M570 319l6 2 13 0M601 324M636 327M575 336M598 326M613 327l7 2M582 336M596 323M577 337l7 0M843 326M592 331l4-13M575 335l7-10 4 10 4-15M690 338M661 320M570 334M585 328l5 2M620 324M585 334M620 318M572 338M586 326M606 318M589 320M588 321l6 5M609 322M568 330M589 332M730 336M575 332M601 323M682 335M701 326M588 323M658 318M739 333M595 333M656 321M602 334M611 332M641 334M584 324M572 329M597 322M579 333M593 322M657 331M742 321M590 326M578 334M752 320M585 326l10-7M680 318M738 323M576 337M605 336l5-16M641 329M586 323l5-1M631 332M760 321M575 336M600 336M590 334M610 330M584 323M603 321l7 12M624 330M685 321M596 322M727 326M800 336M597 325M831 320M607 318M582 333M598 319M595 334l6-1 9-13M695 318M775 320M832 335M606 325M814 323M593 333M599 320M606 332M715 332l7-4M591 323M645 338M660 333M600 330M620 329M594 337M630 322M732 323M765 323M593 327l4 3M656 322M596 321M605 321l6 2M736 334M592 324M605 330l10 4M646 323M752 319M597 325l4-5M592 337M605 322M720 333M599 322M635 319M665 332M704 327M744 332M576 324M599 329l6 3M655 325M678 334M591 335l23-4M639 318M665 326l9-1M724 329M781 319M843 323M651 325M736 318M649 320M704 330M738 319M809 337M592 337l6-12M621 323M632 333l5-12M676 336M698 324M607 337M676 333M686 333M723 318M702 321M758 322M597 330l4-4M617 321M681 327M727 324M630 329M625 322M634 321M654 325M594 329l6-3M615 333M624 319M660 327M783 333M596 331l4-2 6-5M642 322l3 7M612 323M848 318M597 338l3-3M612 338M627 327M607 335M678 323M634 322l7 7M774 329M785 325M795 322M615 322l9 6M745 335M589 337M639 320M661 323l4 15M731 331M792 328M604 318M614 320M694 326M788 318"/>
<path class="p" style="marker:url(#a23)" d="M522 304l2-6 8-3M523 317l6-17 5 0 6 4M519 306l2 11 7-8 4-5 9-19M516 311l6-8 6-6 3 4M523 313l5 1 5-12 6-1M526 314l5-7 6 3 3-14M523 308l5 4 6-16 5 1M522 316l5-2 6-17 4 6 6-17M525 311l5-5 4-1M544 302M522 316l7-11 4 5M543 291M524 315l6-10 4-6 4 7 6-15M523 317M533 315l4-22 6 2M522 312l5-2 5-2M551 308M529 312l5-12 5-3M529 315l4-17M579 290M529 312l4-4 6-11 6 1M588 292M536 314l4-12 6-14M539 302l4-11M525 310l7-4 4-17 5 11M532 300M542 312M572 286M535 312l6-14 6-8 6 7M528 316l5 0 5-3 5-23M531 317l4-5 7-7 4-14M610 308M622 291M535 315l4-11 6-5M530 314M540 297l5-5M595 286M539 303l3 2 5-8M562 286M581 286M616 295M529 310M538 303l6-2 4-15 5 11 5 0 4 2M538 302l3 4 7-6M557 289M539 305l6-8M534 307l11-20 5-2M565 300M532 317M544 302l5 8M559 295M588 292M533 316l9-4 5-23M561 297M540 299l3 3M555 309M745 287M545 290l6 13M570 294M519 305M546 293l4 7M565 300M587 288M512 305M538 316M553 290l6 5 3 8M612 312M550 305l4-13 17-6 3 7M644 288M534 317l5-3M549 310M563 288M618 307M674 295M543 316l5-15 5-11 6 9 9-2M617 303M701 287M551 294l6-8 3 4M714 300M535 317l12-3 4-17M561 295l5 17M537 312M548 305l5-1 7-8M658 296M538 316l6-3M545 317l10-22 4-5M576 303M583 298l5-11M600 286M543 314l6-19 4-7 5 7M573 295M674 304M544 301l6 0 6-6 5 20M550 288l5 11M617 289M548 299l4 11 6-8 5-10 5 1 6 13M598 286M555 297l5-5 16 8 5-8M548 299l5 2M566 298M583 290M566 296M581 287M548 310l12-5 11 3M579 289M616 304M553 310l3-19 6 22 5-8M596 296M553 295l5-5M591 286M547 313l5 0 4-19 7 12M574 295M552 310M562 292M572 294M582 299M553 312M575 303M690 290M736 290M572 287M580 291l5-2M554 308l5 2 5-24 4 18M588 287M547 316l5-29 3 21 6-15M573 302l4 5M632 287M552 317M567 308l4-14M592 299M615 300M556 314l8-10 5-1M590 286M666 286M549 313l6 1 4-14 4 11 7-17 3 17M560 310l3-11M554 314M563 303l4 6 8-1 2 0 10-20M557 298l10 19 5-23 6-2M592 285l10 19M565 318l5-23 6 10 4-18M554 299l7 10 3-12M584 296l5-6M564 292M603 286M658 291M550 317l10-7M570 305l4-7 6-4 4 0M610 287M556 300l9 2 5-5 7-6 10 0M601 291l5 3M622 288M666 306M557 309l3-19 6 2 4 21 5-6M602 287M740 289M554 310l4-15 5-4 5 18 7 5 3-4M595 297M552 295l3 20M566 294M587 306M612 287M553 299l7 9 5-15 4 19 5-8 5-18M563 306l4 6M577 308l4-14 6-8M596 289M556 316l4-8 9 2 15-14M566 311l5-5 7-14 3 12M642 302M554 307l4 5M572 296l8 10 3-3 8-10M609 288M560 297l5-1M581 288l10 4 5 7 4-4 5-3M676 296M527 301M561 312M572 296l5 9 6 0 4-15M618 297M555 317l6-8M569 306M580 297M591 297l5-5M560 305l4 8 7-19M585 305M610 308l5-10M654 288M550 311M559 317M578 315l5-5 5-6 4-19M608 286M622 297M557 308M572 304l4-2 5 3M612 299M565 310l6-1 5-12M625 295M665 293M559 309M589 296l6 20M740 306M569 312l5-5M584 305l5 10M670 295M573 292l4 16 6-14 5 0M601 292M672 290M563 308l4 0 16 4 6-19M648 287M663 292M722 287M768 285M575 309M591 296l3 4M831 301M563 316M573 302M638 297l5-2M659 300M674 301M803 297M575 300l9 15M595 316M609 290M563 311M573 317M719 287M562 317l6-5 4-23 5 21 5-20M593 292M684 286M724 290M568 316l9 1 5-7M591 293M721 290M764 290M572 308M587 310M595 286M560 305M587 309l4 0M650 301M715 287M570 314l6-5M606 316M581 300l6 5 4 0M612 312M625 287M641 291M771 297M832 309M645 289M749 287M560 317M580 312M671 308l8-21M581 301l7-7 4 2M603 291l10-5M657 304M831 298M590 308l6-16 4-7M664 295M699 295M804 310M564 314M578 302l6 15M594 286l5 16 11-4M625 291M649 286l11 14M680 296l5 3M729 289M567 312l8-15M588 303M557 317M577 295M603 293M571 311l8-2M590 305l5-2 9-8M634 306M660 304l3-9M724 287M573 317l6-20 6-4M594 300l4-10M729 302M577 306l6 8M593 303M612 294M623 288M643 301l5-7M689 290M575 298l4-1 6 5M609 297M809 291M626 286M672 297M710 301M793 291M560 317M583 300M595 289M649 308M687 288M581 307l4-16 16-2 5 5 8 11M663 299M799 292M589 304M599 316M621 302M634 292l19-7M674 299M839 301M576 286l4 25M600 314M581 313l10-14M627 286M565 312M579 301M595 313M657 316M705 292M715 294M796 286M587 307l6-7 6 11M613 310M648 312M677 313M580 300l5 17M599 294l7-6M646 293M670 298l5-8M780 290M587 289M612 315l5-8 6 5 4-19M647 314M743 303M752 286M594 314l5 3M619 305l6-17M664 308l5-21 6 6M562 298M587 294M602 314M613 286M742 294M581 295l5 14 5-21 5 3 9-4M635 297M651 308M665 293M845 301M581 307l5-20M669 289M696 287M745 300M793 287M576 315l5-12 5 11 3-21 6 10 6-1 5 6M630 305M662 308M780 289M583 308l4 2M606 310M708 288M606 308M666 291M706 305M726 291M747 309M568 303M584 312M594 310l5-2 11-16M629 303M639 308M685 297M697 286M719 289M739 304M577 293M587 317M596 304M612 309l10-18M673 302M745 309M796 286M822 296M580 313M805 294M590 313l5 3M611 288M630 287l5 11M659 300l12-4M685 288M786 289M582 317l6-16 6 8 4-13 10-8M629 306l3-20M684 289M585 317l3-4 6 3 10-20M708 300M582 290M592 302M662 313M711 286l5 5M568 308M597 310M579 303M593 297l5 20 6-14 3-9M632 295l7 14M673 292M719 296M594 286l4 17M624 287l5 4M658 295M679 294l5 6M739 304M819 308l10-21M574 313l3-3 6 3 6-25M599 305l5-11 4-1 6-7M637 302M654 307M664 303l10-1 3-13M763 290M576 295M594 308M615 294M655 291l6 3M680 301l12-14M731 299M746 287M767 293M592 315M633 317M648 288M666 287l12 7M717 301l10 0M771 289M598 309M653 309M662 302l4-12 21 3M737 293M575 314M596 299l6 15M706 291M586 299l16-1M618 293l3 5M702 294M747 298M777 297l5 8M837 287M598 293M632 286M664 313M709 305M845 311M597 295M616 295M770 289M780 289M569 308M595 300l10 15M627 293M640 287l5 20M655 294M725 290M735 289M754 312M800 292M605 302M623 310M660 296M592 301M621 300M656 287M669 293M710 286M588 297l6 13 4-20 10 12M654 298M677 286M705 303l3-11M581 307M601 311l5-22M631 289M645 290M667 288M696 291l6 9M726 289M786 298M597 297l9 12M651 305M826 286M581 301M596 313M612 301M647 296M666 298l5-5 6-1M710 315M735 299M775 285M595 308l6-21 5 16M670 310M694 312M714 296M749 313M824 285M601 308l6-17M688 307l10-18M777 290M843 294M579 303M598 292M611 286M629 296M645 309M665 288M685 297M712 290M740 298M795 297M815 313M839 291M591 299l5-13M642 303M662 311M692 306M728 286M803 301M574 303M594 305l4-3 6-1 5-10 4 14 12-14 4 22M659 287M708 301M743 287M779 289M818 289M600 306l4 8M619 286M640 290M674 317M699 292M715 287M735 286l5 0M753 312M776 291M843 293M599 316M608 311M623 295M632 302M652 291M678 300M694 309M757 291M591 314l4-26M610 295l7 2 5-12 5 25M706 293M737 288M781 308M791 287l3 1M806 290M594 307M614 306M628 311M664 287M703 289M728 303M808 285M844 292M590 315M605 301l5 13 5-13M627 289M635 290M670 286M680 306M729 305M751 310M766 300M819 287M586 313M596 315M607 286M617 288M627 289M648 292M656 310l6-9M673 292M713 309M599 314l4-26 9 16 7 9M634 318l8-14M654 296M703 298l5-12 6 2M753 289l6 6M793 289l6-4M590 306M603 288l13 0M625 291M665 296M692 303l3-5M746 290M801 297M593 306l10-6M613 295M653 298M672 306M712 309M723 287l10 14M744 313M847 293M602 294l4 9M626 308M682 286l4 17M746 299M788 306M804 285M833 287M852 304M597 295l6 11 4-19M627 293l10-5 7 7M663 294M678 285M702 298M732 309M753 297M774 302M818 302l3-16M843 290M606 301l6-12 2 3M641 295l5 1 5 2M686 301M725 303M739 310M766 306M812 292M600 301l7-3M621 317M632 310l5 3M661 296M692 286M727 286l5 20M746 313M756 301M608 300l10-8M640 290M700 286M736 295M765 296M785 298M824 296M625 305M637 308M647 288l4 18M675 285M700 293M730 294M757 301M817 287M600 313M620 286M656 297l4 12 7 0 8-17M781 311M836 305M588 306l7-8 4-5 11 10 5 9M664 308M704 306M591 315M612 296l3-7M646 308M691 294l11-5M756 295l5 2M798 298M805 286M822 286M835 292M601 296l3 15M615 305M630 316l15-4 9-10M731 289M740 297M760 291M796 294M805 288M825 309M591 317l4-15 4-14M620 311M649 287M666 287l4 22 5-20M699 310l5-4M592 315M602 298M630 287l8 16 9-3 5-7M697 316M717 305M731 313M751 313M786 311M606 286l8 4M632 302l4-4M656 296M675 300l7 5 9 1 16-18M803 302M591 306M612 289l5 0 5 12M633 292M642 299M672 306M692 305M711 310M728 296M762 302M777 305M792 286l4 5M825 300M843 306M618 309M647 317M687 311M707 312l5-24 6 16M747 289l5 13M589 315M615 309l9-16M634 290M655 307M705 302M726 307l9 2 10 0M780 313M801 289M818 294M851 286M592 317M612 302M648 290l19 12 3-6M682 298M701 287M726 289M747 297M777 294M826 288M847 289M593 315M627 313l15 4M671 302l5-16M713 286M741 308l7-10 4 17M761 296M777 287M596 289M611 300l4 15 6-27M659 293l7-2M700 303l5-11 3 6M724 291M755 289l5 26M598 316l6-11M618 289l5-2M633 285M654 296M669 297l6 0 2 18M714 292M723 292M753 303l10-10 5 13 15-15M813 288M607 316M623 286M637 288l6 29M678 287M693 298M716 311M732 293M752 291M798 311M842 294M600 314M611 287M646 295M666 289M695 286l9 20M747 288l4 19 9-6M789 294M807 294M643 299M676 313l4-3M692 288l19 1 4 8 7-9M747 294l4 15M778 299M797 287M827 298M604 308l6-10M624 294M644 288M723 295M736 305l4-19 3 2M764 292M819 314M601 311l10-10 4-7 4-9M670 292M695 299l4-1M710 310M726 295l4-8M740 302M769 313M779 303M800 310M819 296M603 298l10-6M634 293l9 2 9-8M668 294l10 5 16-3M702 304l6 0M724 295M809 285M601 285M647 301l3-4 18-9 14-1M697 307l4 5M727 286M768 298M812 288M597 312l4-8M636 288M658 285l13 13 6 2 4-10 6 15 4-19M705 287l12 28 3-15M743 287M806 314M625 291M654 290M675 314M695 291M721 303M730 306M745 287l6 17M767 288M791 291M808 289M602 310M611 294l10 11M710 310M772 287M797 302M821 310M837 317l3-5M608 292l5 0 4 23 11-21M658 304M714 285l4 10M789 302l8 13M838 302M614 304l17-15 8 0M670 307l6-2M686 286M701 304l5-3M724 303l12 6M750 301M771 299M799 288M626 312l11-19M650 299l11-13M680 292l15 17M740 288l10 20 8-9M786 300M829 294M613 292M633 311M647 313l6-26 9 12 5 1M677 317l10-24M713 292M743 299l5 0M787 305M818 292l9 12M605 287l6 4M620 290l11-1 16-1M666 317M705 291l7-4M731 289M766 297M786 289M599 289l4 17M619 300l6 10M643 313M658 303M673 299M723 289M765 289l18 7M829 291M603 298l3-1M618 291M647 305M656 307l6-5M688 315M701 289l7 0M728 293M783 289l2 4M808 295M834 302M611 305M627 307M643 286M655 290M682 301M692 292l5-7 9 9 12-9M738 286M746 310M757 313l10-17M814 302l8-1M607 302l4-7M667 306M676 311M727 288M762 289M787 309l6-13 4-10M808 292M822 300M607 304l5 3M648 302M672 309M700 290M717 289M737 297M772 298M818 290l3 25M601 302l3-1 21 10M641 296M649 298l6-8 10 3 5 2M705 312l6-16M759 307M820 295M610 292M630 290M664 317M700 299M735 314l6-23M754 287l7-2 4 24M800 293l15 9M602 304l5-2M627 303l10 6 5-6 15 6 11-24M697 317l10-29M738 299M749 317M783 287M812 290M822 300M834 299M619 300M629 286M649 292l6 12M684 290M708 295M749 286l14 2M778 287M804 290l10 1 5 1M611 302l5 5 9 10M656 307l3 4M670 315l6-5M684 307l7-4 15 3M745 285l10 6 5 12M778 291M597 317l10-11M632 314M648 301l4-14 5 0 5 18 6 11 15-5 5 1 9-21 5-3 6 3M716 316l7-17 9 0M742 288l11 22M811 300M642 300l16 4M687 299l19 2M718 301l4-11 5 27 5-20M759 294l3-1M806 291l6 10M827 289M603 294M658 295M683 311l4-6 10-11M713 296l5 20M743 299l5-10 4 4M782 295l5-4M807 305M848 304M604 295M671 310l4-22 5 8M715 288l4 4M744 300l6-1 10-11 5 20M791 287M836 289M612 292M639 298M651 306M659 299l6-8 16 22 4 4M699 309l5 4M765 286M783 288l7 12M833 287M598 304l5 6 4-3 8-7 4 2M643 297M673 315M702 308l5-13 6 5M727 312M757 288l6 12M782 288M799 294M838 290l5 14M601 305l7-5M621 309l5-17 10 0 4 19 5 1 7-24 4 27M672 316M681 300l5-10M695 316l6-12 5-12M717 288M741 296l4 4 6-4 5 4M770 302l10-1M810 295M841 290M607 299M653 309l10 4M713 296l5-4 9-6M738 290M753 287l9 6M774 304M785 289M849 297"/>
<path class="p" style="marker:url(#a24)" d="M537 280l3-15 5-16 6 24M571 253M595 257l10 20M544 254l5 28 6-10M570 263l3 3 6-9M594 246M619 250M649 261M819 250M548 274M557 251M578 247M667 251M536 279l6-14 5 9 5-28 5 7M572 264l10-13M493 278M542 264l6 9 4-12 5-15 4 1M572 252l6 13M586 247M733 252M548 274l3-3 3-16M571 270l10-24M591 251M543 277l4-12 4-18 7 5M572 254M600 249M622 259l9-1M547 270l6-15 4-3M566 259l6 1M582 259M592 270M611 267M657 249l14 3M540 285M551 274l4-26 5 3M569 248M584 248M600 272l6-26 3 27M617 251M669 256M537 277M549 263l4-6 4 8 6-10M588 271M598 256M678 262M698 257M556 260l14-10 8-1M601 251l9-4M623 249M549 279l10-16M578 250M703 248M812 256M538 265l3 17 6-3M555 274l7-2M577 265l6 7M601 270M611 247l6 4M627 248M657 263l6-17M726 247M544 283l6-2 4-18 5-6 11-6 9 0M589 247M613 246M639 257M543 265l6 19 5-24 4 9 5-18 6 15 4-10M598 246l5 14 8-10M673 249l11 0 14 0M747 253M550 270l4-2 5-18 5 2 6 11 4-7 5-3M595 255M620 266M664 249M684 254M709 246M550 260l6 4 5 7 4-24 7 23M578 245l7 9M676 251M527 277M548 284l6 0 3-11 6-12M583 255M647 254M713 249M546 277l6 7 9-35 5 4 6 1M596 247M636 254l5-3M695 271M721 263M549 265l4-6 4 2 6-4 5-1M582 254l4 26M653 256M733 255M556 271l6-10 5-2M576 274l4-26M596 252M606 265l5-20M686 246l4 1M786 250M548 283l5-23 3 11 12 2 5-26M588 283l4-13 4 13M618 251M628 250M551 266M568 262M575 247l6 1M615 246M635 261l15-7M741 251M555 277l3 3 8-14 3-5M580 260l5 13 6-13M649 260M549 266l7 12 5-3 3 8 6-32 6 30M585 276l5-13M649 254M666 247M552 282l5-6M567 281l6-22 5 7M587 253M603 273M657 269M728 248M568 248l6 35 5-37 5 11 9 0M623 260M654 252M774 253M551 277M562 265M570 256l7 10M553 263l11-6 8 0 4-2 5 16 3-25M610 272M669 249M695 250M754 268M815 249M559 274M568 276l6-23M584 275M640 246M760 255M564 268l5-8 5-8M583 272M603 253M682 254l6 1M739 265M789 263M804 245M557 275M573 266l4 0M602 249l5 23M631 258M671 250l7 3M701 262M742 263M550 278M560 273M570 250M586 259M594 253M610 276M660 269M720 248M820 262M540 283M556 274l6 8 4-4M587 250M596 255l4-9 6 34M631 250M640 269l6-20M667 259M556 284l5-4M580 256M605 272M642 280M660 260M680 255M729 251M567 256l6 18 5 6 5-1 4-26 5 21M603 271M652 248M677 279M585 263l4-14 5 27M604 256M635 263M653 247M673 262M555 259M570 278l5-3 4-8 4 3 5 12 7-36M624 257M639 268l10-12 9 1M739 251M824 278M579 255l5 12 4 16 6-30M708 248M566 260l5 12 5 10 5-26 5-9M595 252M625 255M659 254M692 248M742 257M800 246M557 262M571 282l8-28 2 10M637 264M667 246M801 252M564 265l4 11 5 6 6-8 4-5 11-5 6 12M618 260M634 261l5-15M664 258M759 249M552 271l6 8 14-5 6-28 3 33M628 281M652 256M668 271M717 259M565 268l5 12M578 263M595 247M605 256M615 272l5-12M630 249M645 253M670 263M563 278l6-4M585 263M618 259M638 256M670 248M724 249M565 275l4 10 5-4 5 1 5-3 5-25 6 6 4 17 6-26M641 271l3-20M654 249l8 11M689 251l12 17M734 249l4 26M768 246M562 277l6-8 4 12 8-7 11-26M631 250l6 17M656 257M697 285M716 260M732 248M751 246M797 250M821 261M577 277l8-5 3-1M631 255M663 250l5-2 3 8M707 253l5 4M584 249l4 33 8-20 4 5M631 261l3-1 10-14 5 2M681 247M690 255M731 256M805 258M559 278M570 282l9-3M593 264M616 269l3-17M669 274M720 259M769 254M809 256M838 251M560 276M570 277l6-1M586 267l5-1 4-18M656 253M716 253M572 272M584 283l4-24M610 278M626 246l4 25M640 258l10 12M665 281M690 261M699 246M755 281l4-18M799 255M844 247M571 279l7 0M587 271l4-1M607 267l4-20 6 1M666 266l6-18 10 6M708 260l4 11 4-23M564 279l18 5M618 282M627 249M647 254M662 256M746 247M567 272M582 256M598 270l10-3 5 2M624 271M642 265l6-16M678 248M738 252M752 257M767 252M828 262M557 281M577 268M587 253l4-7 5 13 16 0M625 264M637 273M656 246M677 246l5 4 4 2M717 262M782 249M556 273l4 7 7 0M586 282l11-28 9-5 5 2M661 250M697 254l3-5M715 269l5-4M745 252M766 263M825 262l5-7 6-9M555 278l6 3 5 4M576 265M590 253l5 16 5-11 5 20 5-16 6-12 9 33M670 250M580 255l2 9M594 263M634 249M651 250M789 248M587 258M603 257l5 2M647 247M662 256l11-3M717 259M757 270M831 248M576 254l4 8 6 12M601 250M632 264M672 251l4-4 6 19M746 252M821 257M574 246l5 34 5-1M596 256l3 10 7-16M620 267l4-17M645 254M713 260M751 269M810 252M849 256M579 277l6-4 4 3 6-6 4-3M643 270l4 8 6-2M698 266M718 255M569 282l4-13 7 8 3-24 7 22M601 253l15 1M628 256l17 20M664 266l9 7M695 246M703 253l7 19M745 254M783 246M840 248l4 22M595 271M612 251l12 9M668 249l4 5M708 258M787 276M583 264M607 260l15 9M652 253M661 258l7 5 4 1M706 248M767 258M776 246M817 267l10-13 9-8M587 252l2 18 5 12 8-36M626 256l8-9M665 266M690 258M700 276M725 249M759 252M798 249M570 270M578 247M595 265M603 265l6-16M660 248l6 3M715 252l4 4 4-9 11 9M775 272M790 272M801 262l8 1M847 246M580 282l3-15 5 13 5-31 5 8M614 279M623 249M678 249M767 254M782 255l5-4M819 259l4 6M565 282M589 279l6-2 4-3M616 251M710 249M728 279M748 264M784 271M805 254l35 22M597 251M611 246M627 285l3-37M640 253M661 271M681 261M735 251l16 1M776 250M826 253M542 280M582 274l4-5 5 1M606 253M631 272l5-8M682 261M706 246M746 249l6 28M588 263M599 269l10 12M648 280M660 247M725 273M798 269M577 260l3 21M590 281l12-14M619 253l10 7M657 270l5-22 3-2 6 39M710 250M771 266M805 246l7 17M590 260l8 6M625 257M643 260M655 263M705 247M734 268M744 276l6-18M790 248M839 267M591 274M606 253l6 15M620 252M637 270l10-13M675 249M696 250M711 249M721 246l11 21M595 274M614 257l7-9 4 13 10 13M654 253l6 20M669 257M699 248M710 258M750 247l20 7M784 248M795 270l8-21M844 246M591 247l5 3M613 261M652 260M686 252M696 280M751 257M796 252l11-5M842 260M593 272l5-21 6 31M624 247l16 23M655 280M769 275M778 247M789 247M804 250M839 249M571 282M630 268M645 274M686 282M755 252M598 248l3 12 6 13 4-26M623 285M638 259l10 13 4-11 4 1 6 10 7-20M747 264l5-13M842 248l4 21M585 281M601 267l5 4M616 264M680 269M704 251l13 3 3 4 6 21 4-19M750 277M831 269l9 0M575 284M588 276l7-13 10-16M625 256l16 13 4-19M660 259l4 5M691 268M715 245M730 272M774 263M815 252l6 9M598 273M614 272M629 275M648 266M674 261l5-6M690 248l3-2 9 21M718 252M732 258M749 249M767 249M818 259l6-8M847 260M555 285M595 250M616 281l6-35M632 263M657 250M668 247l14 11M717 250M773 256l14 1M846 268M596 273l6 6 5-14M650 276M671 255M680 255M716 275M741 248M759 249M795 251M845 261M579 257l4 19M599 279l16-32 3 5M645 270l4-8 10 3 9 10M754 269M764 264M808 253M604 266l6-15M633 281l24 0M688 266l6-9M729 262M738 277M749 254M773 264l7-17M591 281M606 275l10-21 5 10M649 281M657 282l5-26M676 273l6-27 5 1 5 8 5 21M727 280M787 253M808 248M598 270M629 251M659 259M668 264l5 2M688 249l6 16 4 0 5-6 5 18 5-28 6 1M728 251l11 1M752 248M774 260M787 252M581 283M600 263l6 2 4-4 10 3 5-3 5-5 6 25 5-8 5-9 5-9 10-3M691 263l5 2M721 247M746 253l4 22M760 257l11 7 4 12M791 259l4-5M807 255M820 271M559 263M569 282M592 260l12 11 4 6 7-30M623 272l6 6M650 271M688 269M708 266l5-9M730 251M825 267l2-14 7 3M589 268M600 268l5-8M615 258M625 256l5 25M640 275l5 3M669 259l6-4M698 268M717 247M730 247l5 0M779 283l6-34 4-2M820 248M844 253l6 12M603 263l13 15M648 264l11-12M683 265l10-14M713 264M723 255l11 3M775 268l4-10M809 268M588 284M597 262l21 8M637 274l10-13M667 262M687 254l10-4M712 257l4 3M738 254M752 253M782 250l9 12M807 248M826 252M543 268M588 277M602 274l15 4M631 255M657 267M701 266M726 277l5-9 11-3 9-7M806 269l4 10M842 247M581 276M607 281l5-33 9 33 15-7 4-8 5-10 7 24M667 256l10-2M706 251M716 254M737 247M750 250l6-2 16 16 9 6M801 270l5-24M815 250M835 272M616 272M639 268M666 268l6-18 2 9M686 263l5-14 13 3M719 251M765 255M786 267l9-17M815 276M825 249l10 22M580 283l6-13 3-4 5-9 5 7M611 267M619 268l4 0 6-12 16-1 6-6M665 263M691 249l4 32 4 2M746 272l3-22M774 268l7 2M789 276l7-22M806 255M826 259M852 261M597 266l6 16M621 264M632 255M652 266l8-21M680 265l12-5 4-10M707 270l3-4M721 255l6-10 9 3 6-2 4 0M766 263M826 269M836 251M584 263l3 15 7 1 10-6 4-22M624 246l6 10M639 274M663 248M684 246M696 253l6 14 12 3M755 281M770 249M840 245M850 252M585 272l4-1 12-1 4-5M625 281l15-18 5 9 3-22 11 32M700 269l15-18M734 272M755 267M763 255M779 248M820 265M829 248M840 266l4-8M597 279M617 279M651 246M688 246M702 261l6 0 4 18M743 260M763 262l9-16M782 267M848 251M607 266l4-7M636 273l3-10 15 16M676 263M714 255M747 260M770 260M790 258M829 258M848 249M629 255l10-7M664 260l4 19M704 272l4-14M719 264M740 250l3 8M764 254l4 7M829 259l10 23M604 260M613 277M628 257l4 20 8-22M653 268l5-8M689 257M707 251l7 27 4-32M749 264l5-6M797 255M817 260M843 270M589 275l9-4M614 268M633 284M664 276l4-30M693 268l4-17 10 1 11-6M733 268l6-22M749 266M772 262l12-15 4 12M807 252l6 27M838 275l7-28M625 277l5 3M678 254l6 4 7-3M700 272l5-26M719 249M760 257M791 260l4 18M815 247M605 254l4 14 5 2 6-8 24-12 5 15M664 248l6 17M684 278M733 270l7-19 8 7M773 252M838 254M596 255l7 16 5-14M617 267M651 265l5-15M682 265M693 247l9 17M722 253l5 24 20-16M767 284l5-25 5 11M807 252l5 8 6 6 4-12M840 279l2-7M595 271l4 0M615 246l4 32M659 274l7-5M679 255l5-2M710 247l9 33M739 273M769 261M824 275l5-29M607 253M635 285M647 281l5-3 5-20 3 0M682 272M692 268l10 13 6-27M715 259M752 249M797 256l15 5M588 275M623 282l4-19 7-2M653 276M692 271l12-2 3-21M723 247M747 257M770 268l9-19M792 267l8 13M814 281l5-34M630 251M639 248M650 246M671 271M683 249M694 276l5-5M720 246l11 9 3 5M775 246l10 24M834 264l6 1M594 283M606 269l3 6M629 262M661 281l2-25 6-4M684 284l6-28 6 1 3-9M724 275M789 257M805 271M614 275M626 248M633 274l7 3 4-21 14-1 17 21 4-9 5 5M704 268l6 14M724 265M739 275M764 263l5-1 6-4M804 279l7-20M829 246M845 258M576 278M599 269l6 2 7-9 9 10M631 251l10 23M649 278l6-23M667 264M674 264M685 284l6-13 10-1 4-2 6 17 15-39M740 264M750 247M850 262M611 253M622 261l4-2M636 271M647 277M682 274l8-7 6 15M720 260l6 1 6-13 5 25M751 259l5 3M767 246M775 261M800 258l36-7M627 256l12 3M658 250M683 254M697 246M712 256l6-9 13 35M753 264M763 272l6-20 3 1 11 2M802 257M843 280M587 267M625 254l10-6 5 20M655 264l4 1M683 250l7 15M729 263l7-9 3 14M749 282l6-29M774 272M790 278l6-8 9-1M849 270M592 257l4 2 11 12M642 282M652 246l4 6 11 20M683 271l4 10 5-21M702 262M721 262M746 256M758 254M787 278M797 249M610 266l5 6M631 252l5 24 2-24 6 10 16 12M679 267l20-16 9 14 6 0M725 253l5 9M754 277l7-30M769 281M780 262M805 278M813 271l7-1M607 283M617 273l10-4 6-10 8-8M653 271l15-16M677 273l6-14 10 20M702 254l11 7 14-12 5 31M748 246M772 255M817 266M827 252M610 249l6 33 7-9M631 282M642 276l4-13M656 279l4-5M701 262M741 246l14 0M775 248M812 250M609 285M625 254M650 251M675 281M689 256M704 269M719 260l6-5M735 249M780 256l4 4M811 248l10 15 4 0 3-8M636 266l4 6 10-18M677 262l3-6M712 266l4-4 5-3M736 261l5 6 8-22 7 17 5 5 13-1M796 249M815 255M595 251l4 22M608 283M634 266M643 271l7 3M658 250l6-1M678 254l15 16 6-18M718 266l7 3M739 249l5 12 9-3 4 9 7 12 10-16 4-17 5 11M804 270l5-15 4 2M823 268l4-18 5 7M843 254M622 262l5 9M647 254M661 254M673 276l3-17M693 261M712 250l5 11 6 17M758 256l8 17M777 282M806 277M816 246l7 4 10 21M847 270M589 285M613 259l10 22M634 263M668 266l6-10M693 283M735 257M744 247M759 253M774 271M813 278M829 275M839 248M607 260M630 257l13 28 3-22 15 16 6-28M691 262l6-2 4 3 9-4M725 260l12-13M753 250l9 14 4 3 9 0 5-18M793 254M807 254l4 20 6-21M622 271l3-10 5 17 10-8 6-4M662 274M686 248M697 283l14-4 5-11 6-4 3 11M756 279M777 257M792 267M802 258M821 265l6-15M600 275M622 276l4-23M641 261l13 9M674 251l5 22M691 270M716 247l4 11 6-9M744 278l6-2 5 3 5-22 5 13M618 269l5-6M638 280l11-4M659 254l3 6 11-10M709 256l4-3 15 19 10-12M778 255M793 257M833 264M848 251M628 277M643 253l5 6 6-9 4 5 6-1 14 16 15-18 5-5M719 254M733 258l5 1 5 5M768 268l4-17M797 272M813 264l5-13M605 266l17-16M643 282M650 254M678 251l8 15 5-1M727 266l3-6M742 255M756 268l7-15M778 253M786 259l7 12 2-25M806 260l6 0M831 260l3 3 8 10 4-11M603 270M627 278l6-23 6 6M668 280l9-28 6 5M704 249l3 12 6 10M729 259M743 251M756 261l6 1 5 1 16-3M802 246M828 256M613 271l4-11M643 264l5-3 10 4 6 11M678 265l5-13 11 15M702 274M714 274M722 259l7-12M751 248l7 9 5-4M804 271l5-23M817 264l6 11M834 263M843 271M610 277l9-23M638 271M649 275l6 7M664 269l5-8M688 266l4-5M709 254l5-4 5 25 5-25 6 35M763 269M789 270M814 253M845 280M624 275l3-22M648 257M658 248M687 276l13-7M714 251l4 19M729 259l9 5M749 260l9-7M768 278l6-27M784 270M813 248M838 260l5-12M584 273M605 282M621 277l10-17M645 254l5 17M671 267l5-10M702 275l3-16 4 7M720 262l5 15M775 278l4-30 6 26 5 1 6-30 3 21M809 258M836 246l3 27M850 270M601 279M622 261l5 18M636 249l7 2M656 284l6-19M683 273M731 279l7-8M757 274M782 255M817 257M838 249M602 275l6 2 5-5 5 10 5 3 14-13 6-21M658 274M697 277l5-21 5-3 4 18 7-14M726 267M742 249l16 34 3-22M788 268l4 3M817 249M826 245M606 285l6-6 3-20 12 9 3-21 6 20M671 258l10 13M692 274l5-24M732 248l4 5 10 16M757 261M766 262l4-5 12-9M802 250M811 282M821 270M612 265M627 266M636 262l6 15 25-17 11-3 10 20 4 2M711 277l21-1M766 253l5 5M802 263l10-12M840 265M614 248l4 33 7-17 4-8M643 263l10-9 6 3M670 272l5-6M684 258l11 6M704 258M716 278l1-20 7 19 16-28M750 258l5 14 4-12 5 2M778 248l10 13M799 246l4 39 6-14M824 263l14-17M611 270M619 272M650 264l5 17 15-3M686 249l4 18 4-16M716 276l4-17 6 0 8 4 5 11M761 251l5 3M775 281M790 272l5 6 5-4 4 11 16-30M829 257l5 4 6-13M611 273M631 282M651 255M660 270l10 10 21-8 14 2M739 275M765 263M791 247l4 3M804 258M822 247M635 254l4 21 11-29M664 272l5-26 6 24 3 2 11-7M723 267l6-6M739 279l10-18 10 18 5-29 5 35 5-9M824 253l5 6M601 265l5 2 4 12M637 281l8-29M666 255M676 266M686 262l4 22M706 278M716 247l8 37 16-19 6-14 4 24 17 7M776 270l21-24 10 20 3 12 6-22 4 29 5-13 4-15 16 13M613 285l5-15 5-15 10-1M664 246l10 22M684 249M693 269M714 252M727 273l6-19M743 258M752 278M782 258M798 266M837 250M611 270M626 269M636 266l5-2M650 270l5-14 4-5M680 274M736 261l6-5 15 7 9 19 4-7 6-7 3-3M797 249l9 33 15-27 14 2M637 276l4 5 6-35M662 261l9 5 5-18 6 22M697 255l4 2 7-1 9-10 4 32 6-25 5 8 14 7M773 275l4 10 15-19 4-12M807 248l3 19M831 261l6 12 3-5 5 11M600 282M616 259l5-5M642 273M652 270l4-6M681 250M692 255l4 4 4 23M727 262M756 259M767 268M791 268M820 276l7-30M835 275M846 254M610 282l5-13M634 277l27-27 4 32M675 246l3 30M703 258M719 272l10 13 16-22M759 274l11-4M779 247l5 6 12 11M830 271M592 276M623 258l25 6 6 16M673 272M703 267M713 247l17 22 3-12 5-3 14 6M768 272l5 8M783 253l3 9 8-6 4-8M823 252M848 270M606 273M650 268M670 267l11-10M732 247l3 10M745 261M776 264l3 11M810 251M830 264M613 268l5-17 10 9 4 0M646 264M657 281M667 284l4-1 5-4 10 1M706 259l6-5 9 1M731 248l15 1 6 17 5 9 4-14M794 271M808 266l4 13M837 249l4 7 12 13M633 256l10 23 11 2M673 279l16-15 11-1 4 15M734 250M749 252M769 247l6 21M784 276M804 274M814 251M835 246M614 267M624 278l6 2M649 281l7-1 4 2 3-6 7-21M684 281l10-29M719 268l5-1M749 261M759 255M797 269l12-19M830 269l2-2M605 253M612 262M629 280M643 274l6-2M659 272M684 266M698 271l6 4 4 2M719 285M738 269l5-16M764 246M788 260M798 282l9-26 11 13M844 251M630 262l6 7 5-23M650 263l6 9 4-12 16 0M710 270M721 280l6-21M751 283M766 282M803 260M822 250M830 274M842 266M619 262M634 278M674 269l5-11M713 255l6-9 6 18M758 249l5 14M784 272l10 9 3-16M839 255M581 256M619 256M631 273M646 266M661 285M676 274M691 257l15-3 5 20 6-1M741 252l5 33M757 267M785 279l5-2M831 277M846 260M620 273M652 274M667 249M687 249l6 21 4 2M716 262l5-16 6 34 4-22 6 18 4-10 5-12 6 28 10-18 5 7 6-4 3-21 6 13 11-1 5-10 6 9 3-10 7 13 3-14 5 13M838 256M624 253l5 1M648 247M658 284l6 0 5-2 15-26 9 19M723 250l10 30 10-1 5-16M762 274M784 283M804 254M818 266l10-6M844 272l6-26M597 264l5 17M621 254M635 274M682 274l4-1M702 277l3 0 11 3 5-14 11 3M756 271l5-19M770 257l6 0 3 27 12-19 4 9M809 282l11-32 6-3M836 257l4-9 5 25M608 282M627 270l12 6 3 3M658 268M677 258l8 0M719 252M738 255M747 265M759 247M772 283l10 1M806 274l8-16M832 285l4-6M622 277M631 253l20 13 10 15 5-4 11 0M696 274l7-20 3 29M722 274l4 8M740 251M763 280l4-29M776 251l6-5M797 265M806 252l7 31M842 283M617 285M649 260M693 256l4 17M727 246M737 253M746 271M768 279M778 268M802 274M828 265M847 269M621 284l9-32 7 10M666 271l10 13 5-16M689 254l10 10M716 264M761 255M772 258l3 23 4-19M791 273M820 281l6-16M851 246M612 282l3-5M641 280l6 0M668 279M682 265l5 5M697 256l4-2M718 284M742 272M777 262l10 17M797 255M813 278l3-31 5 9M846 248M623 258l6 9M660 264M690 269M706 278l8-16M759 259M781 257M793 284l5-6M844 276M617 256M632 283M660 279l6-1M681 273l7-4 3 1M705 255l6 24 9 1 4-34M737 277M750 281M761 253l5 11 5-10 6 20 8 1 12 2 8-12M831 270l4 3 5-10M605 262M627 247M637 276l10-7 4 6M681 273M701 262l10-13 5 32 5-13 5 11 15-11 5 12 5-12 20 11 5-5M787 271l4 13M801 246M826 247l6 7M840 263M619 267l10-8 5 13 6 8M648 270l7 13M673 272l21 6M714 277l16-9 4-16 6 6 3 16 6-26 4 32M774 284l5-13 6-4 4 7 20-7 3-15 6 3 6 7 12 21 13-25M597 278M608 261M630 275l7 4 5-1M661 281M675 257l8 13M705 245l7 37 5-29 14-7 5 35 5-12M775 269l6 6 4-27 7 19M800 250M817 282M831 269M846 267M620 269M670 248l11 4 8 19 26-11M749 271l8 1M766 280l6-19 9 16 3-15 5 13M829 251M842 265l2-8M614 267M653 258l6 23M711 250l4 34 16-5 5-1 4-21 4 19 6-14 4 7M764 284l6-35 6 15 5 8 4-8M799 248l6 1 5 36M825 253l11 16 2-18 11 2M606 278l11-26M656 276M672 269l14 14M712 263M736 248l11 31M768 276M797 264M812 258M820 278M831 257M846 280M626 283M642 265l8 19M661 276l11-9M712 253l10 13 10-5 6 1 6 20 3-9 4-6 5 7M776 250l6 16 6-15M797 267M811 262M821 260l5 12M847 271M603 284M627 267M636 261M651 279l6-22 4 27 4-20M702 257M716 262M731 285l10-16 5-8 5 8 4 14M766 264l6 3M781 264M812 265l3-14M836 261M846 269l6-7M652 281l12-33 8 32 5-13 6 4M692 273l10-27M727 265l15 9M763 277M787 266M803 246l4 30M831 257l5 23M630 254M640 283l8-9M669 277l6-23 5-5 4 29 5 2M698 250M713 278M750 274M765 267M785 271M793 283M823 261l6-11 5 1 11 4M627 274l9 6 6 2M677 280M695 276M706 247M722 271M742 275M752 280l5-21 6-10 2 36M780 274M796 279l5-7 7-19 8 20M840 260M652 264l5 13 9 4M682 268M732 268M757 277M768 256l3 19M791 253l6 6M808 277l4-30M822 272l4-12M836 263l6 6M600 285M625 279l10-33M644 256l12 14M685 262l9 21M715 272M730 274l10-4 5-19 5 19M775 280l4-22 11-3 5-7 4 21M811 261M835 273M607 259M628 270M693 282l6-9 6-6 4 13M717 280M824 246l10 24 14 4M612 277M627 282l6-30M647 265l5 14 16 1M682 268M727 272M737 261l5 10M758 284M792 278M801 268l6-15 5 6M821 273l5-22 6 23M846 278M615 281M660 284M682 284l9-20M710 272M725 274l5 3 5-8M766 265l20 17M812 254l9 9M840 256l5 12 5 8M611 269M626 272M651 263M686 272M726 269l6-18M757 257M767 270l6-17M792 283M801 266l5-8 10 2M838 261l9 24M635 251M649 259l16 15M673 247l6 11 5 10 6 12M715 279l3-6M729 283M755 279M769 247l10 23 4-6 14-1 7 6 11-23M825 274M840 273l9-21M625 265M643 276l7-27 4 16 6-17M673 261l10-13M705 246M714 266M744 276l15-30M774 246M785 258l5 18 5-21M815 275M825 274l3-25 5 7 6 13M848 251M628 249M663 273M698 251M713 284M742 272l5-11 11 10 5 6M774 267l3 14 12 4M799 279M812 255l6-5M838 257l9-1M617 270M686 272M707 279l10-2M732 270M741 272M753 258l9 21M782 246l11 11 3 25 5-2 5-27M816 270l6 2 5-15 6 19 14-8M650 254M695 263l7-9M730 285M746 280M760 271l11 4 4-5M787 269l5 2 8 6M826 274l5-4M846 273M616 279M635 272M650 269M660 277M689 255M710 285M727 250M735 280M761 275M776 265l5-2M796 261l8-8M831 278M636 278l10 4 9-26 6 11 4-7 16 0 5 16 9-9 5-4 6 11M715 265M736 252l10 21 6-12 4-5M775 269l6-17 5 27M799 262l13-8 4-7M825 264l5 20M846 279M639 269l10 14 4-5M669 274l10-7M688 249l5 11M734 272l4-13M748 281M777 268M819 284l5-19 6 0 4 16M848 269M646 278M662 266l3 19M696 281M711 283l7-2M745 260M755 253M766 253M778 253l7 23M810 265l5-9 9 12 11 15 5-23 5-3 5 7M645 272M701 284l14-2 5-13M730 270M765 254M776 267M798 252l6 29 8-13M825 251M834 262M624 259M637 284M673 264M696 282l6-7M717 284M758 259M792 271M803 251l7 13M837 246l6 11 5-11M616 284M661 264M685 257l6-2 4 29 6-8M716 268M725 283M742 281M758 261M798 267l3 7 15-24 5 9 16-8 3 30 6-7M669 279M678 282l6 0 5-3M709 265l6 17 4-10M729 252M744 272l8-23 7 29M787 283l7-15 4-19M838 268M613 268M629 277M642 270M653 267M691 280M717 282l6-2M742 270l5 14 16-19 4 20 5-10 3 6M792 282M817 250l4 10M842 248l7 24M631 281M733 277M751 278M771 259l6-3 14 22M832 267l9 9M617 281l4-10M636 279l7-25 8 9 5-12 6 18M671 283M692 274M707 276l10 7 7-13M737 247l5 6M770 279M817 278M827 282l6-17 4 0 11-4M633 264l8-1M652 279l5-2 6-1M687 276l11-20M707 262l6 12M732 260M744 283l8-12 6-18M776 254l6-7 15 34 4-7M837 270l9-14M646 273M695 265M723 274l12-12 15 23M765 271l6 0 5-20 20 32M805 264l10 16M828 251l7 26 4-29 5 14 7 15M647 272M675 274l4 10M694 278M714 257l7 13M744 271M775 282l10-25 4 14 5-4M820 276l4-7 16-10 4 10 4 5M613 282l4-3M673 260l5 20M717 255l7 19 3-26M742 274M752 260l5 16 5-27 5 17 5 1M788 253l15-1M818 279M827 285M838 275M852 259M638 271M680 274M690 249l5 25M733 270l6-3M774 283M794 280M635 284M666 262M681 284M717 257l9 8 5-8M772 267M792 268l3-5 10 2 5 14 6-17 9 13 5-5 11 8 5-7M622 284M643 275M736 265M762 268l5-7 5-6 4 17M791 275l7-18 5 26M817 264l4-11 11 4M609 283M622 260M672 253l10 24M712 273M741 285M768 253l4 14M801 267M822 278M841 284M634 264M664 279l8-10M708 268M722 248l6 36 4-13 7-14M758 279l10-31 10 28M797 285M817 283M839 270M623 272l7-16M660 266l4-3M697 272l7-15M741 282M771 275M782 273M801 276l10 5 4-18M644 274M656 255M690 282l5-31M710 255l5 7 9 23 6-14 9-5M754 261l5 19M769 263M794 267l6 10 4-23M830 281M839 283M624 249M653 258l5 10 6-17M680 272M693 283M717 277M733 257M749 278l5 0M768 266M788 248l4-2M805 284M819 284l6-10 8 11M676 259M728 253M736 274M766 277M795 278l13-21M821 269l11 8M845 266l7 18M618 257l14 12M683 285M732 276M744 262l4 16M768 254M776 270M809 269l4 7 5 4 6-22 14 19"/>
<path class="p" style="marker:url(#a25)" d="M555 236l6 1 4 5M591 204M611 214l8-48 11 61 5-32 16 32 4-26 7 6 3 4 5 11 7-28 15 12 3 25 20 1 5-68 5 19 15 23 7 23M761 212l4-4 6-31 5 34 4-14 10-12 12 4 4-21 4 32 7-18 8 42 4-55 7 33 4-28 5 1M559 236M584 218M599 229l4-29 11 29M630 171l3 20 12 24M654 204l5 38 4-1 7-16 4-9 9-26 4 9 7 29 4-40 6 19 5-33 6 50 9-13 21-37 5 8 4 0 9 6 7-4 4 19 12-21M795 170l5 3 3 0 11 6M829 185M850 180M553 245M567 240M583 232l5-49 6 29 4-7 5 13 5-16 4 43 15-51 6 29 5-6 6 4 4-5 4 24 5 5 5-33M672 232l6-8 4 8 15-26 10 14 5-31 10 21 13-18M747 204l5-20 5-1 4 15 8 22 3-46 10 15 4 0 7 1 5 22 9 23 5-42 21 6 9-18M562 244l5-5M593 239l19-52 9 37 13-4 12 12 7-36 9-32 6 18 5 44 5-24 5 39 4-51 8 9 8 10 4 3 9-39M729 184l3-6 11 31M752 208l10-9 5-18 6 14 9 26 4-29M812 178M822 241l10-24M568 237M582 207M593 240l5 5 10-22 4-19 11 6 8-24 6 58 11-49 5 49 9-39 11 7 4-31 6 18 8 9 11-38 6 11 5 0M722 235l5-3M738 176l18 52 6-18 10-35 5 54 11-54 18 11 12 13 8-1 6-23 5 13M567 245M585 243M606 210l5-38 5 33 6-24 5 24 5 22 19-10 6 21 4-55 10 16 5-10 9 20 9 17 7-40 4 10 11-28 5 26M729 171l7 36 5-13 9 21 5-13 4-20M775 218l6-27 5 6 4-33 21 49 5-40 5 53 6-7 4-24 10 1M563 237l4 6M587 236M607 223l5 16M637 212l6-1 6-12 4-35 10 80 14-53 4 28 11 17 4-13 6-6 16-12 5-16 10 42 4-67 6 16 4 11 9 41 16-5 5-55 4-1M795 170M828 179l8 8 7 10 4 8M562 237M577 229M587 243M596 212M617 218l5-2 6-23 11 21 4 10 4-1 5 1M675 243l7-63 15 0 5 25 5-20 6 23 5 16 4-19 15 25 5-21 5-36 7 29 2 5 6-34 4 46 5-25 13-4 7 7 6 6 4-17 6 17 14-34 9 24M564 236M572 238l7 5M589 230l5-16M613 244M639 185l6 49 10-36 4 30M674 193l10 40 5 9 6-7 9-15 7 18 3-22 16-43 15 24 5-10 4 1 34-17 10 46 11-51 6 38 4-33 6 57 5-29 3-22M846 170l4 63M582 242M593 234M602 235l6-12 4 4 7-30 11 34 3-53 3 21 6 20 4-5 5 9 6-13 10-42 5 11M683 231l9-10M702 188l5 45 10-41 6-27M737 231l6-67 5 10 5 15 5 36M773 237l11-56 18 6 4 20 7-36 4 37 6 22M584 223l6 4 5-3M612 202l8-6M638 190l5 24 10-8 11 13 6-16 5-6 5 18 15 3 9-36 4-2 8 43 3-20 5 12 6 21 3-14 7-28 13 6 5-21 6-14 5 24 4 27 7 17 4-40 10 15 5 2 5-3 11-30 3 35M834 197l5-13M849 213M567 241l5-10M592 211l4-10 12 5 5 18 10-2 14-8 6-12 4 5 15 27 6 11 3-62 6 18 8 19 9 24 4-30M713 198l4 23 12-37 4 13 4 22 6-3 5 6 6 23 3-48 5-18 10 7 7 14 4-9 5-15 5-5 5 39 4-34 6 28M823 194l5 9 4-39 6 21 5 25 4-19M567 227l5 15M596 208M607 201M622 218M632 231l17 12 3-37M668 234l8-44 5-14 7 58 5-43 4 14 5 36 20-6M731 196l7 1 3 17 11 6 5-34 5 13 9 0 10 14 6-3 14-3 7-10 4-3 11 38 9-8 6-24 4 14 5-22M585 224M595 237l6-33 2 15 7-5M619 243M649 210l14-2 9 5 8 10 4-20 6 23 9-1 5-26 24-19 5 34 6-44 9 1 7 16 5 55 9-36 6-2 14 9 5-19 12-29 3 6 6 5 3 46 6-22 6 21 3-49 5 33 5-14 6 36M614 225l6-5 14-20 4 13 11 12 6-35 3 46M702 186l7 37 15-31 8 12 8-39 2 71M753 199l5-24 5 21 4-30 6 5 6 18 4 25 3-22 6-24 6 14 6 12 9-1 6-20 21 14 3 46 5 9M606 235l9 9M625 235l3 1 12-39 5-6 5 49 4-64M669 197l6 12M689 204l5 28M713 199l7 38 4-65 5 57 6-40 10 28 12-32 6 33 27-28 3 27 7-27 5 4 5-18 5-1 3-9 10 22 6 20 10 4M577 242M591 233l6-18 33-11 6 6 6-18 14 42 4-7 5-25 6 5M681 233l10-23 3 19 11-23 6 7 15 10M741 205l6 40 4-46 5 28 9-16 5 1 6 26 10-22 11-30 3 30 5-43 5 29 11-4 3-34 8 32 3 17 6-17 4 16M568 234l4-2M588 238l5-25 3 11 7 4 5-1 5-20 4 30 6-22 10-11M652 223l6-43 3 53 7-22 9 32 7-26 7-22 6 34M718 185l4-7 11 52M748 231l5-35 4 20 5-1 10-5 5-11 6-33 9 34 5 21 11 10 5-7 5-40M834 184l4 19 5 4M591 231M603 219l3 14 10-11 5-21 6 42 3-13M647 211l5 23 19-17M680 193M701 235l6-49 3-3 6 49M726 244l5-44 9-15 7 31 3-13 6-7 4 14 5 7 4 3 8-11 6-7 3-24 5 22 7 14 7 4 6-28 4 6 12 5 4 7 11-34 5-6M577 238M592 228l6-9 5-16 5 2 4 26 6-25 5 16 6-5 8 10 10 3M663 183l6 24 14-16 11-18 9 33 4 3 6 23 4-31 6-9 4-13M737 203l6-13 5-14 6 18 3 8 11-35 5 36 5-39 5 33 5-4 4 27 11-26 6 11 2-36 8 65 7-59 6 47 5 5 11-5M572 240M591 244M601 237M617 206l4 34 9-23 7-5 14 17 11-18 5 9 13-17M697 229l8-28 4 9 23 4 3 11 11-27 6 6 5-1 4-11 5 1 7 22 8-16M791 210l5-39 5 18 5 20 11-19 8 46M842 206l4-43M577 235l5-4M602 219l5-9 4 32M623 244M637 245l6-38 4-32 6 51 4-23 6-19 19 2 9-3 6 49 4-17 7-21 8-30M726 232l7-6 5-14M758 224l14-8 4-28 6 45 10-32 6-14 5 36 6-7 3-7 10 32 5-19 9-22 6-11 6 7M562 245M570 243M596 229l9-36M631 244M660 227l16-6 7-26 9 32 5-12 3-22 12-2 13 37 5-41 7 51M747 198l4-17M761 245l5-10 5-63 4 14 12 6 8-9 5 58 5-44 12-28 4-3 6 26 3-10 5 22 6 12 5-27M574 201M594 245l6 0 5-24 9-1 5-4 6 28 6-13 4-9 5-20 5 4M654 224l4 1 8-13 9-32 5 54 9-10 6-36 3 14 18-17 4 6 9-17 6 36 11 15 4-18 16-38 9 57M789 171M814 222l3-24 13 16 10 8M580 233M600 242l6-15 3-30 6 17 5 13 9 6 7-61 4 7 6 26M657 217M671 208l4-2 4 14 5 15 5-49 4 44 7-27 4-8 6 37 6-31 3-19 16 24 4 11 10-6 10 13 6 4 4 13 6-44 4 23 6-40 5 25 5-6 6 11 4-34 9 26 5-11 7 31 3-12 5-4M845 163l5 15M591 238l6-19M612 235M622 240l6-21 4-37 5 36 11-7 4-9M669 176l5 32 3 10 5 21 5-4 9-19 6-22 9-3 6 18 4-8M731 233l5-26 6-27M752 215l4-43 11 42 6-7M797 199l10-19 15 22 10-25 5 47 4-31M597 222l7 18 2 0 7-9 3 4M629 233l3-13M658 218l4 19 6-21 5-1 5-7 10 3 5 31 10-30 25-39 11 35 5 14 14-17 5 28 5-10M778 188l10 21 5-16 15 19 4-20 5 25 6 3 5 18 5-39 4 22 5-33M566 240M582 245l5-11 10 5 4-12 4-12 15-18 11 32 4-51 11 49 5-23 4-8 12 20 9 17 4-23 7 8 4 17 16-32 5 30 8 5 12-21 6-9 4-17 4 49 6-44 5 11 5 15 4-23 10-20 4 34 7-22M796 200l7 3 9 7 4-6 5-22 6 40 4-46 6 39 5 13M589 229l5 6M640 233l5-11 4 6 10-20 6 26M689 215M700 221l5-41 6 12 2 31 12-20 5-27 11 56 4-25M765 235l13-37 11 24 5-3 6 20 5-57 4 21M819 192l5 17 16-31 5-15 6 66M579 245M590 242l13-42 6 27 10-22 5 15 10 18M650 234l3 1 10-11 16 2 16-13 9 19 5-37 9 42 10-14 5-5M766 176l17 52 6-19 5-41 5 3 15 15 10 17 8-14M848 179M553 227M580 237M599 223M609 227l4-13 6-14 8 19 7-15 4 33 6-69 5 29 4 28 5-35 15 47 6-13M708 196l4-28 10 37 7 24M753 177l5 30 5-6 9 0 5 27 6-41M794 221l3-24M808 169l7-4 2 32 10-19 7 7 3 9 6-11M586 238l6-14 5 7M617 233M636 177l10 35 6-26 11 39M682 230l4 10 12-18M707 234l4-34 5-31 16 23 5 37M746 196l6 23 3-10 12 35 5-44 10 1 5 17 5 25 9-26 5-10 10 9 4-11 8 28 8-14M564 245M579 240M589 237M600 226M615 232l5 0 4-9 6 13 4-1 10-34M666 236l2-38 18 20 3 22 7-24 4 6 14 4M724 227l16 4M750 234l5-6 10 17 4-43 6-17 3 50 12-66 10 60 6-13M824 217l15-21 5-26M582 238M591 231M610 220l11-9 5 16M637 203M651 238M670 224l6 17 5-26 5 5 11-20 3-5 6 20 5-1 15 3M742 228l27-37 13 32 13-30 4 12 7-28 10-11 5 41 4-15 6-17 13 21 6-28M597 242l3-36M609 239l6-46 6 30 5-11M650 211l6-34M665 192l6 30M685 210l6 0M706 208l9-28 6-8 4 25M735 236l5-4 6-69 2 56 8-33 6 10 2 8 5 10 16-22 16-10 4-6 6 61 14-43 11 8 4 12 5-17M597 233M606 215M618 239l10 4 8-7 6-22 6-12M669 201l2-9M679 198l8 13 9 15 15-36 6-2 10 6 4 13 7 11 14-42 6 3 4 16 4 5 11-17 6 54 3 7 7-55 4-1 5 43 6-19M822 167l5 52 9-11 6-32 5-2M580 240M599 222M609 213l20 18M640 206M650 240M665 197l6 35M680 214l9 23 3-1 9-50 3 35 7 16 3-41 11-9 4 6 6-28 10 54 4-38 5 8 4 16 10-15 7 48 13-29 12 2 3-24 7 18 8 15 6 22 5-32 10-4 10 9M614 229M629 240M665 214M684 204l4 12 5 21 5-2 11-14 4 14M724 167l4 41M744 208M763 191l6-15 5 69 20-66 3 20 5 27 6-14 12 26M833 180l11 49 5-19M599 244l3-20 5-4 7 18M623 241l7-53 8 38 11 8 4-40 6 32 4-18 5 3 5 33 15-29 10 6M719 222l5-23 4-17 5 56 5-66 16 44 4-21 5 39M778 240l10-25 5-2 6-22 4 11 4-7 8 22 4-6M830 244l3-5 4-39 6 7 5 31M591 243M606 228l9-2M630 213l6 15 5-39 13 39M666 204l5 19 6 7 4-24 5 4M697 234l9-30M720 188l6-11M745 194l10 44 5-27 5 13 6-15 10 3 5-10 5-11M814 235l10-32 4 3 7-19 4-22M592 245l4-14 24 6 8-29 3 10M642 226l5-20 4 34 5-22 6 4M682 240l5-18 5-50 9 43 3 16 7-7 5 12 6-12 5 17 9-35 11-10 5 25 9-32 5 27 5-28 5 22 10-9 4-4 7-4M811 230l3-15 6-27 15 27 12 12M604 215M623 242l5-26M651 201l3 7M670 228l9-18 8-11 8 16 4-46 4 26 10-30 10 38 11 26 10-10 5-28M763 208l11-14 15 46 9-61 9 1 6 35 5-35 16 63 4-53 6 6 4-17M588 229l9-3 5 3M632 232l6-4 5-26M658 236M673 211l6-29 3 37 12-15 9-9M722 244l6-23 8 8 8-18 4 19 5 13 6-70 8 48 5 6 16-23 16-3 7-12 16 28M609 231M625 228M636 225M666 198M679 226l11-25 14 15 10-15 5-20 20 42 6-37 29 6 5 31 6-38 9 21 16-15 5 36 6-25 9 3 5 7 4-15M588 240l4 3 7 2 10-53M624 201l5 7M645 223l5 7 4-17 5 25 5 6M683 219l9-9 6 1 11-36M758 205l5 17 5 3 6 4 5-37 5-5 3 54 6-8 6 3 4-28 5-30 4 41 6-19 6 16 4-24 6 23M630 170M650 239M669 194l12 32M709 188l7 23 4 0M745 226l5-16 3-23 7 10 4 44M778 236l22-34 11 11 14 10 3-20 7 9 6-17 2 15M601 228l6-23 4 28M646 242l5-27M676 196l10 33 4-27M701 188l11 33M725 217M737 204l2 10M756 204l4 14 6 25 5-41 10-11 5 7 5 39M802 218l5-39 4 31 4 20M827 210l5 18 9-53 9 42M592 244M621 224M653 195l5 22M678 226l5 7 5-6 9-10 5 7M724 214l14-6 9-36 11 28 5 13 3 15 12 0 11 7 8-41 6 12 14 27 5-16 8 11 2-24 6-22 8 52M614 242l6-6M655 196l4 40 7-37 5-1 3 31M683 244M706 235l4 10 6-5 4-30M735 221l7 0 4 8 4 4 5-11 15 12 4-66 16 3 6 13M810 232l4 1 8-4 2-1 7-20 4-2 4-11 10 4M603 245l5-29M633 241l11-11 11 0 9 6M676 228l3 13 5-42 10 17 9 26 6-24M729 182l6 52 5-25 8 14 6-19 3-20 5 26M772 196l7 22 6-36 4 37 3 19 7 0 5-43M814 193l3 51 6-38 6-16 6 15M844 236l5-17M607 238l9-25 5 12 11 11 3-19 6 9 4-1 5 0M666 225l4-16 10 20 5 15 10-42 6 17 3-4M719 233l6-21 6-8 9 27 5-47 15-3 10 7 6-4 4 7 5 25 4-30 11-22 4 43 7-11 5 12 4-21 4 25 8-9 4 16 3 12M593 235l12 8M634 211M655 221l5 4M672 220l8-13 4-7M696 217M704 227l5-1 15 0 8 4 3 11 4-16 5 13 6-35M765 233l5-8 5 13 10-16 5-28 5 19M810 188l6 14 4-11 5 9 5-8 4 12 6 18M581 241M621 234l4-21 11 29 5-6 5 7 5-38 6 30M687 195l10-1 3 5M722 192l4 51 6-46 5 9 6 6 5-37 4 26 5 17 5 9M781 214l7 16 8-8 5-38 5 14 10 36 9-13 5 6 5-18 7 10 3-5M589 236M597 231M623 233M638 226M653 228l4-19M666 232l5-32 5 20 15-36 6 59 9-30 10-28 8 58 2-69 5 37M758 230l5-25 9 22 6 15 5-27 4 24M807 219l5-18 5-20 5 37 15 21 5-5 5-30M591 242M617 239M627 240l4-13 6 3M657 238l6-19 4-19 5 5M682 229l11-11 14 25 5-57 4 1 7 33 4-34 7 43M743 210l3-24M758 210l5-7M778 177l3-4 5 47 6 17 9-1 5-42 6 48 7-11 3-54M833 192l3-4 7 12 4 15M616 213l6 8M632 196M647 205l5 4M662 230l10 10M697 235l8-9 6 9M719 239l16-15 6 1 12-33 3 31 4 20 7-45 11 44M792 218l7-25 8 8 5 6 10 25 9-25 15-43M621 210l4 17 11 5M667 199l9 29 5-26M707 225M726 209M751 187l5 16 6 20M772 240l3-28 7 15 10 16 6-42 4-24 3 15 6-1 5 18M631 243l4 0 6-9 9 6 11 0M676 200l5 25 4-8 6-27 9 28 6-25 5 35 8-10 7-48 10 12 5 21 4 18 5 7 15-6 15 9 10 12 5-47 6 4 10 44 4-36 4 23 7-42 4 7 11 2 5 25 5 3M603 236l22-8 5 1M639 233M659 245l15-3 4-27 11-13 4 40 10-39 8 31 4-21 4 28 6-33 10 6 4 0 10 11 5 20 14-35 15-8M798 194l6 30 6-21 2-13 7-6M834 225l4-19M591 206M618 233l5 10M637 218M657 222M683 201l10 30 18-43M721 228l5-13 4-18 12 42M767 195l6 16 4 16 8-11 12 16 10 5 6-24 4 12 10-24M836 208l13 4M610 233M621 233l4 10M642 239l4-34 3 35 6-9 7 7 3-15M685 196l6 26 6 2 9 3 6 14 8-11 11-12 3 10 5 9M755 219l6-6 5 15 4-29 12 1 4-13 4 40 10-39 5 53 4-38 7 14M826 219l15-18M609 197M629 223M648 233l8-2M671 243l3-18 11 18 10-50 10 33M725 225l5-41 4 15 7 36M755 240l5-31 4-13 5 27 7 3 4-25 10-19 11 40 4-12M815 215l9-37 5 15 11 6 3 27M608 244l7-16 3 2 12-7 6-8M659 225l4 3 4 14 6-15 6-13 4 27 5-22M708 206l5 23M724 204l5-7 5 44 4-35 5-12 10 25 4 12 17-5 14-29 10-15 5 45 6-39 4 49 14-15 6-11 10 30M620 235l4-25M659 238M685 217M700 232M718 242l12 1 2 2M750 217l4 23 4-22 7 0 4 8 10-10M790 169l6 20 4 19 14 28 6-22M609 211M632 232l20 0 11-28M677 225l6-9 5-9 4 30 11-23M713 231l12-17 3-6 11-43 8 59 11-59 11 45 9-24 5 32M791 224l8 9 9-3 9-4 6-41 9 29 7 29 5-14 4-4M626 237l6-6 3 14 7-21 6 6M658 245M682 214l5 26 6-10M713 191l20 40 4-19 6-11 5 12 7 19 8 1M782 233l5-8 9-1 6 3 10 1M845 182M606 228l14-22M656 189l4 53M675 244l4-5 6-56M695 209M705 220l10 14 7-8M729 239l15-32 6 1 4 13M766 199l14 45 11-34 4 2M804 181l6 29 4 14 6-12 9-18 6 6M600 220M613 244l6-11 6-13 20-20 4 35M668 197l5 23 15-13 7 26 5 3 4-8 6 4M739 238l10-13 6-10 9 8 4 1M780 239M794 212M813 178l16 17 6 15 5-3M849 192M619 242M628 237M653 238M688 234l7-27 8 24 6-33 5 12 4 31 8-54 8 51 23-14 5 10M773 209M792 228l6-11 6 6 4 16 6-4M829 232l9 4 7-6M635 202l14 12 7 9 24 8 9-10 4-27 6 2 6 43M714 227l4-8M738 213l6 30M760 224l4 4 5 13M794 196l5 36M843 199l7 36M616 230M635 231M651 243l6-5M686 235l9-27 5 31 5-5 12-2 4-53 5 44M755 220l5-9 6 19M796 216l3-39 8 11 5 25 3 2 5 16M835 235l6 4M597 245M617 232l3-25M651 214l14 21 6 9M690 243M711 223l6 17 9-34 9 10M756 231l7-36 3 39 31-28 14-13 9 32 10-47 5 26 10-2M613 224l15-46 6 49 10-30M653 229M665 190l4 46 5 9 9-8 6 7 6-14 5 14 10-37 11 22M729 221l5 8 5-10 6-8 9-3 5-10 12 42 4-7 9-36 5 39 4-15M808 191l6 23 4 5 7-5 2-29 17 46M607 237M632 239l6-60 5 54M700 241M717 232l14-3 20 15M792 173l3 63M815 231l10-8 6 16 5-43 6 15M604 209l9 0M629 238l9-28M650 212M680 227l14 1 5 9M709 229l3 1 5-25 7 11M740 233M758 237l11-17 9 17M794 204l11-1 17 27 7 8M849 243M616 235M626 209M652 208l8 14 11 6M680 227l6 13M702 190M715 238M742 173l4 46 4 20 6-30 5 31 10-40 5 19 5-14 5 40 10 0 6-4 18-55M841 232l6-3 5-28M603 236l6 1M639 224M664 231M680 221l10 5 4 8M704 241M724 229l12 1M780 231M790 231M809 224l7-38 3 26 6-22 6 30 4 16M851 203M601 237M626 242l10-3M657 195l5 27 6-17M691 234M702 204l4 37 5-14 6-26 14-6 4 25 7 24 5-5M762 231l11 11 9-6M811 187l5 40 10 12 10-30M847 232M614 241l4 2M649 229M669 228l5-18 5 9 5-17 11-15 7 58 13-28 19 19 6-2 9-6 10-17M774 235M784 225M794 214l4 10M813 200l11 3 10 39M843 241M611 225l4 19 6 0 5-6M642 244M654 220l6 3 10 18M680 239M691 199l5 33 5-5 5 12 7 5 3-12 4-3 5-9 11 21 5-25 4-24M761 225l2 9 12-9M784 221l6 5 6-19 4 18 5-4 5 15 7-41 2 19 7 10 10-21 10-28M627 245l4-17M671 225l6-4 6-36 8 50 12-32 3 29 10-4 9-14 12 12 4 19M756 227l7-15 4 12 4-59 4 68 12-8 5-14 10 10 8 2 7 5 6-22 9 2 4 3M610 237M635 218l6 17 5 5 4-18 10 17 5-22M692 239l4-40 4 22M735 218l7 20 1-40M761 224l5 5 4 12 5-21 5-1 7-26 4 40 6-20 3 22 6-15 9-4M846 233M675 243l5-13 5 7M700 242l5-5 4-26M719 239M735 214l5 8 9-3 15 18 5 7M778 221l13 7 13-37 6 53M824 207l5-15 10 9 10 22M618 212M643 233M659 233l3 2 7 1M685 239M708 196l3 31M722 242M738 228l6-5M753 209l10 22M773 222l11 17 10 3 4-8 5 1 10 10M838 226l5-33M602 243M626 198M636 238l5-5 11-13M687 218l21-10 4 25M737 214l5 30 5-71 9 44 7-3 3 6M802 245M825 232l6-2 11-36M645 218M656 222M675 210M686 227l5 3 10-5M721 235l9-45M751 244l7 1M770 210l6 24 5 8 4-10 5-5M800 221l6 13 4-5 6-57 9 29M850 212M623 242M678 241l7 4 18-4 12-32 5 32 4 2M744 243l5-18M760 211M769 182l6 60 9-5 5-42 4-1 6 16M824 186l5 58 5-29 7-2 2-10 6 23M628 245M662 245M674 238l6-3 3-35M708 218l4 21 6 2 8-8M734 214M744 240M754 242l5-20 3 17M794 221M829 244l4-13 6-13 4-2 6-7M628 245l5-18 3 12 5-39M653 236M667 231M712 232M722 237M734 234l3-32 6 3 13 28 6 3 4-29 5 24 8-8M797 241l6-6M817 227l10-23 14 40 5-33M609 241l4-14M633 228l5-10 4-1M654 227M678 215l5 21M744 235l3-42M758 226M780 241l2-11M793 190l10 27 5-9 5-14 10 49 4-24 12 5M670 243l7-22 4 15M701 183M726 211l5 32 9-16M755 224M785 226M801 242M810 233l6 10M825 230M840 201M618 234M634 231M654 242M668 224M682 212M692 215M719 212M739 218l4-30 10 8 15 19 5 12 10-47 5 28 5 16 4-10M808 234l4-4 6-4M838 214l4-16 7 15M620 241M634 223M650 207l4 13 10-2M679 224l11 10 5 1M705 242l5-28M724 197M740 224l5 19 11-42 8 39 10-27M794 206M811 199l4 39M837 239M625 240l3-19 6-6 4 9M664 214l4 22M699 239l4-19M740 229l8 12 10 2 6-20 2-14M786 185l3 35 3 19M813 214l5 10 5-20 6-24 4 45 10 12 7-55M628 233M651 239M672 222M701 243l6-19M731 242M742 222M758 198l5 33 3 0 12 5M802 206M817 214l7-6M837 220l5 16 3-29M626 240M641 237l13-13M661 236l11 8 16 0 4-35 5 25M706 184M757 223M782 227l4-11 5 27M816 208M847 229M656 238M680 233l6-7 10-18 5-3M712 233M721 224l5-37M746 208M786 242l6-17M811 237M830 220M610 233M626 219M644 238M661 202M680 231M711 236M729 223l6-10 10-45 6 77 10-2M779 226M801 185l8 29M821 232M841 209l4 28M616 239M655 238M671 242l9-33M711 226l4-3 5-26 16 23M756 229l4 16M784 191M799 233M815 225l5 5M835 209l3 9M616 215M646 241M671 219M701 221M716 210M755 198M775 221l6 0 16 2 4-12 4-16 12 34 5-26M841 215l4-19M614 229l5 14M632 228M649 195l4 47M674 221M689 237M720 244l3-14 20-15M760 222l5 9M774 200l5 37 16-16 9 13 5-21 6 17 5 3 5-3 5 1 3 9M843 237M609 228l10 4M664 241M691 242M725 230M739 200l11 31M760 237M770 231l4 3M786 174l4 54 5 17 6-20 8 0M825 202M834 227M850 245M624 242l22-30M692 229l6 15M717 232l10-10 10-6M748 235l11 3M778 209M788 213l16 24 3-20 5 11 5-32 4 33 6-11M842 227M614 245l17-37M671 239M680 242l6-12M721 216l4 29 15-22M755 225l5 2 4 13M784 167M794 229M810 241l11-65 5 38M836 235l4 10M618 204M645 231M694 241l4-16M712 233M755 240l4-12M772 236l7-52 14 59 19-5 11-24M843 203M623 229M643 221l5 8M668 241l5-4 11-20M694 187l10 52M738 229l5 12M774 217l9-1 9 10M810 221M838 233M618 245l11-13M658 222M679 227M728 221M742 240M753 230l4-15 6 29M793 244M818 220l6 8 4-39 4 46M849 228M646 215l10-9M670 209l4-4M694 211M710 241l4-9M730 243l15-1 4-4 6 4M775 221M805 220l4 0M825 223l4-6 6-17 4 35 5-21 6-3M653 217M675 224M689 239l4-2M754 235l5 4 5-16M779 243l6-4 9-3 14 5 7-44 5-6 3 28M849 209M635 216M670 239l7-12M709 232l4-15M751 231l6 8M787 237l10-37 4 35M829 220l2-4M849 195M606 230M625 243M674 228M691 230M734 245M754 205M774 195l16 28 15 16M813 244l8-41M834 219l12 8 3 18M633 245M640 230M668 240M678 239M687 223M732 233l3-1 6 6M756 245l5-12 11-1M821 210l10 11 11-47 4 64M610 239M643 241M663 234l5 6 9 4M719 229M739 240l4-10M754 225l9-17M783 240M809 226M828 207l11 16M635 231M644 228M659 239M678 229M688 241M716 214M749 201l10 20 6 2M789 234l6 1M804 187l4 49 11 8 12-25M844 198l5 22M616 225M623 243M708 214l6 11M734 245l6-32 4 30 10-7 6 7 5-50 6 18 13 21M795 242l5-25M810 243l11-5 10 3M844 229l5-2M609 219M621 227M629 217M689 223l11 21M721 244M735 231M745 245l14-28M785 225l14-25M815 195l5 46M834 219M849 243M647 232M661 238M670 240M680 242M731 230l4 2M745 235M761 224l15 20 17-18 2-28 5 44 6-14 4-5 12-33 3 53 6-4 6 2 4-27 6 4M600 241M617 234M632 219M642 240M650 244M665 239M700 238M712 229M740 238M762 230M770 232M787 202l4 42M845 237l6 4M608 244M643 226M662 229l12 3M688 243M704 234M739 229l4 7M757 212M794 225l5-16M808 237l5-5 5-3 6-1 5-43 8 52M847 244M619 212M649 234M665 226M704 240l11 3 5 1 6-40M743 221M760 243l5-6 6 8M814 234l16-3 4 6M673 229l3-2M698 196M707 244l5-27M763 238l3-1 4-26M792 239M806 209l5-1 4 21 7 15 9-23M720 239M745 216M765 201M773 241M785 242l14-22M809 225M823 223l5 14 7 8 10-30M647 200M672 241M697 232M738 229M759 231l8 4M776 231l7-1 10-21 10 8 3 9M822 233M833 226l9 2 5-4M626 228M685 231l5-14M719 245l6-14 10 12M760 201l10 3M785 211l8 34 4-24 3 10M821 232l4 5 6 4 5-3 3-33M614 235l5 5M664 241M678 244l7 0M708 243M731 219M741 233M760 215l9 14M789 235M833 210l5 9 11 21M627 243M665 196M691 233l3 1 6 7M731 204M810 243M829 238l5 6 10-10M613 245M639 240M653 244M669 242M706 231M729 240M789 230l6-11 2 23M819 216M838 242M848 233M611 236M638 244M652 228M682 245l5-27M738 222M751 235M771 218M791 245l10-8M812 191M837 195l4 48M664 221M690 239M702 217l12-6M724 238l3 7M749 234l3 3M764 240M779 242l4-18 6 9 19-6M819 241l3-17M833 240M849 213M681 217M721 233M787 243M826 236l6-5M616 240M657 245M675 231M692 234M735 226l5-4 10-16M762 242l9-6M787 245M796 212M829 233l12 6M696 201l8 40M735 240l5-13M770 240M789 217l26 17 5-13 4-46 10 45 5 22 8-33 2-6M653 241M678 239M688 238M763 237l5 7 5-8M788 216M798 242l5-8 5-20 4 14 6 15 10-47M838 239l5-15M638 230M703 238M724 235M763 228M792 241M804 234l5 6M822 236l21 4 6-6M636 227M646 187M702 226M735 223M751 223M771 236M781 203M803 232M817 230l5-25 5 35M657 239l5-6M693 189M724 236M733 218l5 12M747 204M787 242l6-1M808 207l9 33 6-48M831 208l11 32M668 225M700 229M707 231M734 239l13 6M767 220l5 8 10 14M815 187M827 232M838 237M848 225M644 245M700 221M744 226l4 19 5-12M768 238l16-14M793 223l6 12 5-1 6-32M833 235M633 239M645 245M703 241M723 241M744 235M779 230M788 245l11-10 5-30 5 37M830 223l3 10M848 216M636 239M665 241M716 240M736 208M756 237l4 8M806 244M831 232M846 231M616 243M692 241l6 1 3-8 10-11M741 227M761 240M775 233M791 205l16-15M827 237l5 4M842 204l3 35M692 236M722 237M731 232M781 244M798 231l5 14 9-25M822 244M832 232l4 12 3-4 6 5M645 221M685 221M721 239l4-6M750 203M760 227M795 241M805 215M816 230M826 243M708 245M737 234M752 217l10-18M786 226l11 19M815 235l5 6 11-9M609 240M678 243M700 232M744 218M774 241M795 217M820 219M848 243M676 245M698 229l12 14M745 244l11-15M826 228M845 232M708 214l6 15 5 4M730 238M749 236M759 235M775 236M810 240M831 209l8 21 5 6 5-16M653 228M703 236l7 4 3-2 6-32M735 233M780 233l8-30 5 34 6 2 10-26M652 223M682 197M693 235l8-3M771 218M639 245l4-23M689 243M699 239M719 212M738 241M747 238M759 235l10 3 10-29M787 237M809 245l5-32 6 32M616 242M706 232l16 5M730 225M791 220M846 213M621 231M687 240M756 177M801 240M604 226M627 244l10 1M687 234M705 224M731 218M741 233M762 244M771 225M785 216M796 225l5 16M830 235M841 228M625 233M754 232M774 236M801 225l4 11 5 6M836 221l4 16 4-12M663 230l6 14M707 242M762 229M809 245M829 219l8 15M641 228M655 243l5-26M700 240M720 222M751 242l5-18 4 7 5 4 5-1M806 238M847 229M638 244M652 225M767 186l6 52 5-38 4 28 5 15M797 236M818 226l8-6 6 15M714 219M759 225M799 243M809 238M839 218l9-5M680 234M705 229M744 225M764 210M784 227l6-9M813 243M839 217M850 243M714 241M723 244M749 232M767 228l11 3M793 232M822 242l11-66 5 65M849 225M645 238M687 244M717 185M731 242M746 243M761 241M771 245l4-10M786 223M826 206M836 238M846 238M602 242M645 212M684 241l8-4 6-12M709 228M754 238M769 244l5-20M818 238l5-19 7 26M684 212M726 242M775 235l6-7M796 215l5 12 5 12 6-35M827 238M841 243M851 229M681 228M834 226M842 204l5 39M768 240M809 210l6 18M832 236l6-61M661 230M670 215M766 238M830 223M688 216M752 235M762 223M788 223l14-9M822 235M842 241M717 234M732 191M772 215M791 240M847 242M622 238M652 211M667 238M792 228M813 229M832 214l6 28M710 235M735 240M756 229M784 241M794 223l11 22M846 242M627 242M671 232M706 243M762 234l4-13M792 245M809 213M827 245l10-8M636 243M730 231M755 241M805 220l9 11M830 244M742 242M846 223M614 240M698 231M796 220M806 226l14 17M845 222l5 8M644 228M668 240M764 235M766 237M812 224M826 244M840 233M724 245M735 237M798 225M820 240M835 237M644 213M761 244M791 245l3-9M820 239M666 236M756 242M817 237M827 230M842 229M772 242M793 243M817 245M837 192M682 241M822 219M623 236M768 222l13 15M797 237M813 240l5-16M843 233l6 1M754 220M788 237M808 236l7-17M716 242M787 243l6-21M706 206M717 231M781 212M802 222M817 214M830 206M845 241M638 235M770 230M807 217M838 214M644 236M658 241M737 217l7 17M789 240l14-10 5 2M671 240M702 238M771 227l10 11M816 220M839 234M650 233M671 245M801 231M825 198l6 34 5 13M616 245M737 228l4 7M761 243M832 241M670 240M708 236M830 208l4 23M640 229M808 240M846 203M768 233M793 233M833 236M747 231M779 233M822 243M836 239M641 241l3-4M741 242M814 220l5 13M840 227l5 16M626 240M765 221M684 237M763 235M784 236M803 242l5-40M690 222M760 236M770 193M796 224M819 227M738 232M752 236M797 232M672 232M720 244M751 230M775 232M627 225M694 242M812 218M735 237M797 233M826 245M617 243M652 235M741 235M687 230M777 240M802 232M852 245M622 239M827 218M721 236M801 237M690 229M729 237M713 238M808 244M847 230M829 229l6-4 4 12 11-19M712 236M757 221M783 230M809 209M837 227l6-26M796 233M846 234M802 209M828 238M844 242M820 241M849 238M810 238l5-3M844 232M737 234M809 245l5-13M722 240M843 232"/>
<path class="p" style="marker:url(#a26)" d="M751 162l5-57M851 156M625 102M790 162M825 139M841 147M743 157M724 130M748 147M793 157l13-2M818 162M718 160M842 163M725 160M766 161M792 161M822 152M841 156M732 157M762 159M828 158M844 155M818 146M731 149l4-10M742 158M828 155M677 156M836 144M722 153M752 162M755 155M779 159M800 153l10 9M840 140M746 147M788 156M791 151M847 161M839 160M810 152M736 151M699 144M816 152M719 145M756 161M771 158M823 144M599 151M777 139M793 155M825 151l4 10M739 123M772 154M830 156M786 158M781 155M662 155M815 143M805 154M609 159M714 162"/>
</g>
<g clip-path="url(#cA)">
<path class="p" style="marker:url(#o1)" d="M381 718M415 710M419 724M444 714M178 782M446 749M434 718M408 725l32 6M421 718l16 17M416 708l16 11M419 710M410 714M424 715l16 12M427 713l16 35"/>
<path class="p" style="marker:url(#o2)" d="M218 684M209 681M201 682M457 684M449 684M347 686l79 13-97-15 108 21-10-1M381 683l41 0M432 687l-85 1M309 692l107 15M366 696l32-13 16 4M418 685M414 681l32 6M360 697M342 678M405 682M453 699M340 682M403 684M414 692M394 690M442 691M326 680M360 692l16 1 16-10M411 699l32 3"/>
<path class="p" style="marker:url(#o3)" d="M214 664l-6 0M205 675M211 675M216 676M176 655M216 655M175 659M210 655M201 660M218 655M193 668M174 657M190 668M456 664M452 671M359 659l28 12M392 663M340 659M358 658l61 16-76-11 100 11-105-18M284 655M341 662M453 672M270 668M302 675M334 674M402 665M398 659M280 666M344 667M392 673M456 667M326 669M358 676M288 657l48 14 64 5M324 658M387 657M334 660M346 668l32-8M390 658M331 666l32-5 16 5"/>
<path class="p" style="marker:url(#o4)" d="M191 638l11-3M210 634M184 638M174 638l1 9M198 651M193 637M210 639M185 643l-6 4M209 649M194 635M176 635M189 644M207 649M196 643M217 644M216 647M182 634M196 633M195 645M178 648M190 637l10 9M322 642M293 637l-8 1M350 654M261 634l16 12 16-13 16 5M357 654M286 635M318 650M290 635l16 1 64 4M264 644M296 642M278 639l32-7M256 640M371 652M318 645M366 648M298 650M458 634M294 640M342 636l16 4 16-5M280 652l16-8M299 651l16-7"/>
<path class="p" style="marker:url(#o5)" d="M203 612M218 621M182 613M206 626M220 612M218 623M197 614M199 629l12-10M215 625M202 615M194 617M217 616M217 615l-43-3M211 621M183 629M193 626M207 617M214 612M203 612M216 627M212 618M215 617M178 614M175 612M195 625M201 613M196 621M210 620M210 616M187 627M217 630M213 627M481 620M271 619M274 622M248 622M292 628M462 613M266 618l16 12M262 621l16 9M251 624l32 0M459 614"/>
<path class="p" style="marker:url(#o6)" d="M215 599M195 611l18-1M212 608M176 603M218 595M188 597M195 609l-19-7M187 597l4 4M204 597M186 600M177 601M216 605M176 601M178 608M180 607M216 598M199 603M207 595M181 594M192 600M189 607M191 605M185 609M188 609M203 593l-16 6M177 593M197 610M204 607M203 605M181 602M203 594l-3 10M196 595M196 596M214 603M193 606M186 599M192 602M201 604l-7 7M186 604M215 605M217 598l-25-4M183 605M218 594M211 603M177 596l29-1M189 596M215 602M185 596M186 610M212 601M215 600M189 609l17-9M245 603M254 600M260 606M250 602M251 606"/>
<path class="p" style="marker:url(#o7)" d="M179 589M174 578M217 584M179 579M216 583M180 590M187 581M199 575M217 580M196 589M180 579l7 1M190 578M217 590M185 575l-5 7 40 8M205 580M200 576M194 583M207 584M201 588M180 576M183 588M219 586M218 591M176 577M182 586l17-1M201 583M205 588M204 589M212 587M207 588M207 592M212 586l-14-7M190 589M212 586M213 591l0-4M205 576M201 578M204 579M179 588l36-8M202 588M183 581M175 588M211 589M206 582M194 583M177 590M206 593M190 583M219 592M205 592M216 574l-16 4M198 586M189 578l15-4M190 583l18 5M216 582M177 583M212 576M190 577M190 592M191 585M189 586M203 581M203 575M200 590M214 581l-32-6M199 583M204 581M182 580l22 8M205 587M203 587M192 576M214 591M218 592M204 587M213 580M177 581M176 582l22-6M199 592M181 577M178 580M386 575M486 577M482 576M531 586M468 575M370 581M377 575M362 586l16-2M472 589M246 592M474 577"/>
<path class="p" style="marker:url(#o8)" d="M197 556M217 559l-27 11M190 557M188 572l9-5M185 558l12 9M201 569M200 565M207 562M210 570M187 557l25 15M187 565M217 557M212 572M174 557M190 557M201 568M202 562M188 563M209 569M195 560M217 569M217 570M182 564l6 2M206 571l6-3M208 572M218 557M182 557M193 565l23-4-31 8M179 564M207 571M189 568l26 0M215 562M176 562M177 574l26-18M192 569M194 565M176 560l34 13M203 573M209 558M178 569M203 571l13 2M194 556l-6 1M215 562M174 573l44-16M193 566M185 572M198 563M200 555M188 573M191 566M191 567l10-7M195 565M186 567M205 556M214 562M207 568M183 556M176 574M190 563M190 574M208 559l-31 11M187 560M214 570M202 560M213 557M206 564M204 572l-28-1M184 561M183 566l19-2M178 567M218 559l-29 1M196 563l3 6M202 571l-11-11M216 558M187 567l29 6M216 568M182 562M215 567M213 562l-16-3M188 560M193 556M181 569M197 571M190 572M213 571M219 573l-26-4M181 559M198 563M202 559l-23-2M180 568M183 559M395 559M381 565M487 570M478 559M485 572M393 566M361 568M326 567M384 565M316 557M307 560M358 571M331 561l16 7M366 573M377 559M469 572M467 574"/>
<path class="p" style="marker:url(#o9)" d="M211 550M199 552l11 0-33-7M198 542M186 542M218 548M180 548l11-4M200 551M203 555M180 538M198 549M183 547M207 553M177 545l40-4M206 542M192 553M197 538M203 542M206 537l-31 18M218 539M211 552M210 552M200 547M184 550M218 537M199 537M180 551M206 545M218 540M188 550M178 551M175 545M180 548M187 548l12-2M213 543M196 555M211 546M204 543M197 549M214 555M180 547M193 550M212 555M184 552l34-9M174 550M217 547M219 548l-38 4 34-10M215 548l-20 1-20-2M182 546M174 539l20 15M201 549M214 548M217 543M213 545M194 539M210 547M184 547M178 553M174 539l35 15M190 545M213 545M218 553M189 552M198 551M214 548M215 540M207 542M217 547M182 552M209 544M203 538M180 542l19 6-12 1M212 548M200 537M216 540M212 549M192 545M209 538M184 549M206 543l2 2-3-7M191 549M211 539l-10 9 14 2 4 5M193 547M209 552M187 541M197 548M196 539M193 553M184 547M200 551M178 555l4-7 5 4 23-8M184 548M215 553M189 552M395 537M397 543M526 543M487 539M385 549M339 549M322 545M340 555M321 554M308 543M309 551M360 555M326 546M361 552M339 551M364 536M372 546M299 540l16-1M302 546M398 542M393 548M387 551M501 552M494 551M504 548M480 546M490 546l16-7M523 537M491 538M390 545M394 537M356 552"/>
<path class="p" style="marker:url(#o10)" d="M207 531M218 527M183 532M186 530M197 536M191 527M175 533M178 529M177 529l4-1M204 527M175 531M201 536M195 536l9-5M218 528M183 531l32 5M182 527M176 528M215 535M206 528M183 536M187 536M192 528M197 533M192 535M198 527M198 533M204 535M200 536M200 531M184 531M213 532l-37 4M209 531M196 533M194 527M183 533M212 529M219 529M203 535M208 528M183 531M192 531M210 533M216 528M215 528M195 535M183 532M177 533M185 535M215 531M179 532M219 534M181 536M177 527M218 528M510 532M554 524M510 522M538 532M573 528M522 533M511 522M327 523M335 524M264 519M335 526M329 528M309 526M281 533M277 531M397 525l-85 7M282 528M277 531M331 534M356 528M313 523l16 7M294 523M332 521M308 525M267 525M254 528M313 530M307 535l16-11 16 8M517 535M510 531M501 527M512 536M374 530M383 522l-23 4"/>
<path class="p" style="marker:url(#o11)" d="M183 501l-6 14M183 513M589 504M538 512M504 505M546 508M496 509M543 501M510 512M310 512l-48-4M347 507M348 517M263 507l5 4M297 516M316 517M292 517M324 511M281 507M526 517M528 502M483 516M509 510M536 512M352 512M353 506M362 517"/>
<path class="p" style="marker:url(#o12)" d="M189 495M181 494M187 491M177 486M406 490l-14 10M401 484M580 487M544 495M536 498M524 486M516 496M521 489M511 494M274 499M245 498M248 486l19 1M268 499M330 492M271 488l27 5M322 499M303 495M266 490M246 497M405 498M268 486l16 13M259 495M542 489M560 493M525 491l16 8M554 487M539 490l16 8M555 490M361 485"/>
<path class="p" style="marker:url(#o13)" d="M189 483M181 484M180 484M408 483M545 470M584 482l-33 2M575 476M552 469M524 472M337 470l51 4M314 474M254 484M261 469M261 472l68 8M252 471M311 474M410 475M276 481M411 469M568 476M565 471M557 470M518 477M571 476M383 482"/>
<path class="p" style="marker:url(#o14)" d="M183 455l3 4 14 2-15 3M198 462M408 461M405 464M535 467M545 464M573 459M589 459M551 459M576 467M263 460M284 461M249 461M252 461M581 454M574 463M545 462M558 457M547 455l16 6M550 462M384 464M410 468"/>
<path class="p" style="marker:url(#o15)" d="M193 444M425 452M570 443l2 3M572 451M546 447M590 452M560 439M409 446M419 438M565 453M570 444l16-1M419 449M382 451M426 439M418 452"/>
<path class="p" style="marker:url(#o16)" d="M176 426l7 8M216 434M414 426M439 432M448 426M436 435M567 437M585 433M581 434M240 434M250 437M421 433M430 434l16-9M579 425M573 435M396 432M425 423M399 429M389 429"/>
<path class="p" style="marker:url(#o17)" d="M455 409M451 421M449 418M422 410M401 412M573 414M588 419M579 411M573 413M693 415M601 410M437 413M419 408M577 413M590 419M600 413M581 409M592 412M587 409M423 417M415 421"/>
<path class="p" style="marker:url(#o18)" d="M456 400M608 407M286 404M288 402M442 400M420 405M589 398M603 403M433 399M428 398"/>
<path class="p" style="marker:url(#o19)" d="M442 384M445 388M461 393M467 379M471 388M615 383M696 379l-68 8 211-2M458 380M469 385M491 385M478 391M606 384M600 391M603 383M459 389"/>
<path class="p" style="marker:url(#o20)" d="M466 372M468 373M663 359M706 362M710 369l15 0M611 368M602 377M620 368M425 374M467 362M453 373M436 367M425 371M451 366M638 368M595 363M427 370"/>
<path class="p" style="marker:url(#o21)" d="M444 343M466 353M462 342M762 343M729 344M756 344M647 341M604 348M457 340M451 352M428 355l16-2 16 4M475 347M494 343M467 358M677 351l16 3 32-15M789 350M670 339l16-1 32 8M798 353M609 355M632 339l64 17M808 355M629 340l16 17 16-17 64 11M656 353l32-8M736 349l48-8M832 341M611 340M605 352M634 344M714 354M762 347l16-7M616 354l48 0 48 1 16-12M776 341M840 340M667 347l16-5M667 356l16-7M473 346M474 347M476 354"/>
<path class="p" style="marker:url(#o22)" d="M480 330M493 330M490 336M474 331M497 336M503 336M750 332l4-8M667 324l63-1M798 326M809 321M613 336M696 323M624 336l141-12-110 10 166-15M501 324M741 332l16-1M804 321M750 319M830 336M689 319l16 4M670 326M776 318M824 334M773 319M704 336l16-6M691 328M787 329l16-9M621 331l48-2 16-4M717 321M666 336M730 332M613 326l16-4M760 325M792 327M779 338M619 322l16 15 16 0M698 331l32-6 16 2M794 333"/>
<path class="p" style="marker:url(#o23)" d="M529 286M511 297M484 310M522 302M481 312M480 296M479 316M493 308M530 297M774 315M641 316M633 317M733 304M841 300M846 312M747 310M784 315M766 308M760 314l32-1M670 315l151-19-152 17M473 305M499 315l16-28M476 299M506 314l16-25M510 312M473 314l16-5M483 311l16-10M814 313M657 314M721 314l128-9M718 315l16-6 32 6 16 2 64-13M789 312l48 5M800 304M848 310M675 317M707 315l16-14 48-1M819 296M701 297M733 312l64-15 16 0 32 17M826 316l16 1M677 312l16-5 64 5M795 310l16-6 16 5 16-10M778 309M439 290M426 285M495 296M513 293M403 289M487 292"/>
<path class="p" style="marker:url(#o24)" d="M409 281M499 285M506 250M544 266M519 274M530 262M452 271M538 253M542 246M530 269M534 255M546 271M534 284M546 261M547 258M522 278l16-32M533 255M484 271l15-8M538 268M542 275M505 268M531 250M789 275M465 268M532 264M421 277M503 276M519 273M470 273"/>
<path class="p" style="marker:url(#o25)" d="M527 177M512 196M566 175l-41 23M563 217M520 206l14-8M525 239M562 208M515 202M577 201M507 231M696 190M595 191M603 204M544 244l274-73-112 10M690 194l-122 32 3-59M734 179l-36 5-55-17M582 175M529 170l51-6M746 182M808 176M532 236l59-68M624 163M566 178M609 170M705 169l-108 9M777 176M841 164l-64 3-227 73M711 193l-165-10 164 12 26-13-141-16M703 181l-170 44 292-44M735 182l84-10M663 194l173-28-288 72M712 191M548 237l53-51M626 204l-23-31 191-9-234 69 30-17M710 181l-137 38-34 5M815 164M779 181M559 223M741 169M613 193l100-26 54 0M778 172M561 201M559 181M606 186l130 1-147 21M577 210l147-31-167 28 69-32M653 167l98 11M697 166M555 180l89-11M554 185l136-9M729 191l-67 4-76 3-31-27M564 200M576 223M823 168M798 180M598 191M592 221M532 239l11-6M560 234l36-71 37 19M664 184M738 184M840 176M763 184l-90-21-104 44M760 172M567 195M723 177M578 171M839 167l-27 0-158 36M656 190M629 192M771 178M732 183M713 166l34 22M743 169M694 175l-117 8M814 164M596 166l-28 28 18 20 190-50M644 177M724 183M803 166l-173 30M663 192l-52 12M689 185l-11 11M724 185M719 189l-113 4 84-8M587 178M579 178M594 181l161-3-140 7M542 211l251-38-243 7M713 175M534 187M597 170M628 176M632 198M640 198M644 189M773 173M730 174M598 193l-68 35M744 178M698 186M580 199M551 176l81 24M552 214M555 232l-10-46M676 165M541 232l107-46M560 221M648 187M722 184M688 186l-31 7M595 206M683 182l-17 19M761 177M848 163l-185 11M711 168l57 4-216 30M805 179l-42-10-58 7-48 27-25 0 70-12M537 214l16-40M665 169M618 186M730 175M563 183M643 185M706 164M549 221l32-58 16 27 32-19M661 181l32-14 32 0M554 210l16-2 48-21 16 15 16-19 32-6 16 2 16-10 32-6M574 218l48-33 16-5 16 5 16-1 80-16M782 166l32 2M521 225l32-57M547 220l16-29M610 191M674 167M554 204M529 176M431 209M562 197M532 191M455 213M432 226M592 167M554 186M544 182M565 168M591 180M518 210M495 176M568 189M529 188l34 9"/>
<path class="p" style="marker:url(#o26)" d="M569 129M566 133M577-10M577 77l-4 71M786 89l-89 30 29-67M782 67l-157 52M796 100M836 136M694 128M772 91l-101 58M742 111l74 40M674 157M779 160l24-19-137-42M796 137l-35-54M715 159M570 151l182-84-134 82 20-12M751 146M652 114l29 22 88 12-30 3 41-69-84 63M844 99l-8 19-103 8M635 157M700 4M785 160l28-30M692 76l-135 47M848 42l-232 82 120 11M776 94l-89 62M734 146M622 155l196-113-81 91-160 7M607 118M790 133l-78 18 38-2M734 149l-159 14M626-23l175 114M727 123M572 161M626 93M680 129l82 13M638 127l141-30M586 99M599 67l152 76M780 65M649 81l122 52M738 134l-103 10M592 143M640 151M677 32M541 157M635 159M788 135M624 137M729 69M603 146l198 13M558 134l183-2-137-43M633 157M715 156l61-11 22-17 38-45-184 4M781 144l19-13-97 28 16-27M820 55M796 112M685 141M654 53l-34 95 57-89 56 15M767 152l-41-40 30 45-193-81M831 117l-18 39M694 159l120-88M833 135l-11-60-254-22 118 104M578 155l261-37M746 91l27 33M582 117M800 147M575 139M798 126l-114 27-101 5 154-2M776 113l4 42-130-49M781 126M783 62M739 133M685 109M676 144M684 148l-65-92M770 161M815-59l-13 168M672 143M725 4M797 117M839 117l-209 25 170-120M593 145l42 9-33-10-42 2 82-2M841 131l-232-85 40 85-42-52M706 137M739 148M820 149M656 28l188 54-163-18 46 41M726 65l-5 75M627 153l39-25-40-30 186 16-97-4 21 14M826 50M703 146M633 157l81-39-108-54M782 96M609 158M590 100l86 28 141 24M671 112l136-48M693 140M798 104l-102 11 87 47 21-72-56 53-37-46M749 81l-3 28M774 130M670 99l-99 35 94-9M792 160M587 154M660 127M591 138l30 16-69-30 154 13 16-76 33 23M820 19M551 138l107 9 114-9 36-48-168 71-14-52 205-18M834 157M654 126l186 7-128 24M847 77M821 147l20-98M803 133l-133-9-85-9 8 24 102-36-35 44 134-84-48 21 76 54-191 22 186-26-109-12 55 14M841 122M569 152l32-6 16 5 32-25M681 127l16-4 48 28 16-41 16 23 16-28 32 26 16 0M634 162l64-4M746 150l32-21 32 20M627 162M659 154M786 139l16 21 48-16M645 155M741 149l16 5 16-2 16 9 16-4 16-7M588 157l16-40 64 0 16 27 32-17 96-1 16-2 16-22M579 122l16 6 32 18 80-39 32 21 48-41 16 7 32 36 16 4M826 162M766 139M830 137M585 153l32-3 16-6 16 0 16-23 16 8 32-21 16-5 48 11M578 158M642 142l16 13M722 155l16-26 32 15 64 1 16-6M561 8M590-83M573 3l-1 0-100 73M416-157M571-128M587 104M571 76l-22 53M585 143"/>
</g>
<g clip-path="url(#c0)">
<path class="p" style="marker:url(#s7)" d="M128 1214l2 3 3 5 2 3 3 3 2 1 3 3 2 4 3 3 2 3 3 2 2 2 3 5 2 2 3 4 2 1 3 5 2 2 3 4 2 2 3 3 2 1 3 4 2 2 3 2 2 2 3 1 2 0 3 2 2 1 3 2 2 1 3 0 2 1 3 1 2-1 3 2 2 0 3 0 2-1 3 0 2 0 3 0 2 1 3-1 2 0 3 1 2 0 3 0 2 0 3-1 2 0 3 1 2 0 3-1M128 1215l3 4 2 4 3 3 2 3 3 4 2 3 3 3 2 3 3 3 2 5 3 3 2 2 3 3 2 3 3 3 2 3 3 2 2 3 3 3 2 3 3 3 2 1 3 4 2 2 3 1 2 1 3 2 2 1 3 1 2-1 3 3 2 1 3 0 2 1 3 0 2 0 3-1 2 1 3 1 2 0 3 0 2 1 3-1 2 1 3-2 2 1 3 1 2-1 3-1 2 1 3 0 2-1 3 2"/>
<path class="p" style="marker:url(#s8)" d="M113 1201l3-1 2 2 3 0 2 2 3 2 2 2 3 1 2 1 3 3 2 0 3 4 2 2 3 4 2 3 3 4 2 2 3 3 2 2 3 3 2 3 3 3 2 3 3 1 2 2 3 3 2 1 3 3 2 2 3 2 2 1 3 1 2 3 3 2 2 0 3 2 2 0 3 0 2 1 3 1 2 0 3 1 2 1 3 0 2 0 3 0 2 2 3-1 2 0 3-1 2 1 3-1 2 1 3-1 2 1 3-2 2 2 3-2 2 1 3 0"/>
<path class="p" style="marker:url(#s9)" d="M113 1199l2 0 3 0 2 2 3 2 2 1 3 1 2 0 3 2 2 2 3 1 2 4 3 1 2 2 3 3 2 2 3 4 2 3 3 2 2 3 3 2 2 3 3 1 2 3 3 2 2 2 3 3 2 1 3 3 2 1 3 4 2 1 3 2 2 0 3 1 2 1 3 1 2 0 3 1 2 2 3-1 2 2 3 0 2-1 3 2 2 0 3 0 2-1 3 1 2-1 3 1 2 1 3-1 2 0 3 0 2 1 3-1 2 0 3 0 2 1 3 0"/>
<path class="p" style="marker:url(#s10)" d="M111 1197l3 1 2 0 3 0 2 2 3 1 2 2 3 0 2 2 3 0 2 3 3 1 2 2 3 2 2 1 3 3 2 1 3 3 2 2 3 3 2 1 3 4 2 0 3 4 2 3 3 2 2 2 3 2 2 1 3 3 2 2 3 1 2 2 3 2 2 2 3 0 2 0 3 2 2 0 3 0 2 2 3-1 2 1 3 1 2 1 3 0 2 0 3 0 2 0 3 0 2 1 3 1 2 0 3 0 2-1 3 1 2 0 3 0 2 0 3 1 2-1"/>
<path class="p" style="marker:url(#s11)" d="M113 1196l3 1 2 1 3 0 2 2 3-1 2 2 3 3 2 0 3 1 2 1 3 2 2 2 3 0 2 2 3 2 2 1 3 2 2 1 3 3 2 2 3 2 2 2 3 3 2 2 3 2 2 2 3 3 2 2 3 1 2 3 3 2 2 1 3 2 2 0 3 1 2 2 3-1 2 1 3 1 2 1 3-1 2 2 3 1 2-1 3 2 2-1 3 0 2 0 3 1 2 1 3 1 2-2 3 2 2 0 3 1 2-1 3 0 2 1 3-1M113 1196l2 1 3 1 2 2 3 1 2 2 3 1 2 2 3 0 2 2 3 0 2 0 3 3 2 1 3-1 2 3 3 1 2 0 3 2 2 2 3 2 2 1 3 3 2 1 3 3 2 1 3 2 2 2 3 1 2 2 3 2 2 1 3 1 2 3 3 0 2 2 3-1 2 2 3 0 2 1 3 1 2-1 3 1 2 0 3 0 2 1 3 0 2-1 3 1 2 0 3-1 2-1 3-2 2-1 3-2 2-1 3-2 2-1 3-3 2-2 3-2"/>
<path class="p" style="marker:url(#s12)" d="M111 1193l3 1 2 0 3 3 2 1 3 0 2 0 3 1 2 2 3 0 2 2 3 1 2 2 3-2 2 3 3 1 2 0 3 2 2 1 3 0 2 4 3 2 2 2 3 3 2 0 3 3 2 3 3 2 2 2 3 2 2 1 3 4 2 0 3 2 2 1 3 2 2 0 3 0 2 1 3 1 2 1 3 0 2 1 3 2 2-1 3 1 2 1 3 0 2 0 3 1 2 1 3-1 2 1 3 2 2-1 3-1 2 2 3 0 2 0 3 2 2-2"/>
<path class="p" style="marker:url(#s14)" d="M110 1195l3-2 2-3 3-1 2 0 3-1 2 0 3 1 2 1 3 0 2 1 3 1 2 2 3 1 2 3 3 2 2 4 3 1 2 3 3 1 2 2 3 3 2 0 3 3 2 4 3 2M109 1196l3-1 2-2 3-2 2 0 3 1 2 0 3 1 2 0 3 3 2 1 3 1 2 1 3 3 2 1 3 3 2 2 3 2 2 2 3 2 2 1 3 3 2 2 3 4 2 1 3 2"/>
<path class="p" style="marker:url(#s17)" d="M108 1190l2-2 3-3 2-1 3-1 2-2 3-1 2 2 3 0 2 0 3 2 2 5 3 3 2 4 3 2 2 3 3 2 2 2 3 2 2 3 3 1 2 0 3 1 2 2 3 1 2 1 3 0 2 0 3 0 2 1 3 0 2 2 3-1 2 0 3-1 2 1 3 0 2 1 3-1 2-1 3 1 2 1 3-1 2 1 3-1 2 0 3 0 2-1 3 2 2-1 3-1 2 0 3 0 2 1 3 0 2-3 3 0 2 1 3-1 2 0 3 0 2 0 3-1M108 1190l3-3 2-1 3-2 2 0 3 0 2-1 3 0 2 2 3 1 2 3 3 3 2 5 3 4 2 0 3 3 2 3 3 3 2 1 3 2 2 2 3 2 2 0 3 1 2 0 3 3 2-1 3 0 2 2 3-1 2 1 3 0 2-1 3 1 2 0 3-1 2 1 3-1 2 1 3 0 2 0 3 0 2 0 3 0 2 1 3-2 2 2 3-1 2 0 3 0 2 0 3-1 2 1 3-1 2 0 3 0 2-1 3 0 2 0 3-1 2 0 3 0"/>
<path class="p" style="marker:url(#s19)" d="M108 1202l2 18"/>
</g>
<g clip-path="url(#c1)">
<path class="p" style="marker:url(#s4)" d="M420 1339l3 0 2 0"/>
<path class="p" style="marker:url(#s5)" d="M416 1325l2 1 3 0 2 1 3 0 2 0 3-1 2-1M406 1325l3 1 2 2 3 1 2 2 3 0 2 1 3 1 2 0 3 0 2-1 3-1 2-2 3-1 2-3M398 1326l2 2 3 2 2 1 3 1 2 2 3 1 2 1 3 0M428 1338l2 0 3-1 2-2 3-1 2-2 3-3"/>
<path class="p" style="marker:url(#s6)" d="M393 1311l3 2 2 3 3-1 2 3 3 2 2 1 3 0 2 1M436 1323l2-1 3-3 2-3 3-4M386 1312l3 2 2 2 3 3 2 1 3 1 2 1 3 2M444 1322l2-6 3-5M378 1311l2 2 3 3 2 1 3 3 2 1 3 1 2 2M445 1324l3-5 2-5"/>
<path class="p" style="marker:url(#s7)" d="M467 1296l3 0M376 1297l2 3 3 1 2 1 3 3 2 3 3 2M448 1307l3-6 2-3M371 1298l3 3 2 2 3 2 2 3 3 1M451 1307l3-5 2-2 3-4M365 1297l3 3 2 3 3 2 2 3M453 1310l2-3 3-5 2-2 3-3M433 1297l3 0 2 2 3-1 2 0 3 0 2 0 3 0 2 1 3-2 2 1 3-1 2 0 3 1 2 0 3 0 2-1 3 1 2-1"/>
<path class="p" style="marker:url(#s8)" d="M422 1283l2-1 3 2 2 0 3 0 2 0 3 1 2-1 3 0 2 0 3 0 2 0 3 1 2-1 3 0 2 1 3-1 2-1 3 1M422 1283l2 1 3 2 2 1 3 0 2 0 3 1 2 0 3 0 2 1 3 1 2-1 3 1 2 0 3 0 2 1 3 1 2 0 3 0 2-1 3 0 2 0 3 1 2-1M410 1282l2 2 3 1 2 1 3-1 2 3 3 0 2 1 3 2 2 0 3 0 2 1 3-1 2 1 3 1 2 0 3 1 2-1 3 2 2 0 3 1 2-1 3 0M472 1296l3 0 2 0 3 0M366 1284l2 4 3 3 2 4M456 1294l2-3 3-4 2-2 3-3M361 1284l3 4 2 3 3 4M461 1292l3-3 2-3 3-1M355 1283l3 3 2 4 3 3M465 1293l3-3 2-1 3-4 2-3M393 1283l3 0 2 2 3 1 2 0 3 3 2 1 3 0 2 2 3 0 2 1 3 2 2 1 3 0 2 0 3 0"/>
<path class="p" style="marker:url(#s9)" d="M409 1269M414 1270l2 0 3-1 2 1 3 1 2-1 3 2 2 0 3 0 2 0 3 0 2 1 3 0 2-1 3 2 2-1 3 0 2 0 3 1 2-2 3-1 2-2 3 1M398 1269l2-1 3 2 2 0 3 2 2 1 3 0 2 0 3 2 2 0 3-1 2 1 3 1 2-1 3 1 2 0 3 0 2 1 3 0 2 0 3 0 2 1 3 0 2-1 3 0 2-1 3 1 2-2 3-1 2-1 3 0 2-3 3-1M396 1269l2 0 3 2 2 1 3 0 2 3 3 0 2 2 3 1 2 0 3 0 2 1 3 0 2 1 3-1 2 0 3 0 2 1 3-1 2 0 3 2 2-1 3-1 2 1 3-1 2 1 3-1 2 0 3 0 2-1 3 0 2 0 3-2 2-1M392 1270l2 1 3 1 2 2 3 1 2 1 3 2 2 1 3 0 2 2 3 1 2 0M469 1282l3 0 2-2 3-1 2-1M394 1270l3 1 2 2 3 1 2 1 3 3 2 2 3-2 2 2 3 1 2 1M387 1269l3 3 2 1 3 2 2 1 3 1 2 1 3 2 2 1M356 1271l2 3 3 3 2 5M468 1280l3-4 2-3 3-2M351 1271l3 3 2 4 3 3M471 1282l3-4 2-2 3-3M348 1272l2 4 3 4M478 1281M378 1269l3 3 2 1 3 2 2 3 3 2M389 1269M405 1272l2-1 2-1M405 1272l2-1 2-2M442 1271l2 0 3-1 2-1M450 1275l2 0 3-2 2-3 3 0"/>
<path class="p" style="marker:url(#s10)" d="M384 1256l2 2 3 2 2 1 3 1 2 2 3 0 2 2 3 1 2 0M411 1268M471 1268l3 0 2-3 3 0M378 1256l2 2 3 1 2 2 3 2 2 3 3 0 2 1M378 1255l3 3 2 1 3 3 2 1 3 2 2 2M374 1255l3 2 2 3 3 3 2 0 3 3 2 2M377 1255l2 3 3 2 2 3 3 1 2 2 3 2M372 1255l3 3 2 3 3 2 2 2 3 2M343 1256l3 1 2 4 3 2 2 4M478 1268M341 1257l3 3 2 4 3 3M340 1258l3 5 2 4M368 1258l3 3 2 4 3 2M391 1268l3-1 2-2 2-1 2 0 2-2 3-5M391 1268l2 0 2-1 2-1 3-2 2-1 2-3 2-4M411 1267l2-3 3-2 2-4M412 1268l2-1 2-3 2-5M452 1267l2-4 3-4M462 1264l3-6"/>
<path class="p" style="marker:url(#s11)" d="M366 1241l3 2 2 2 3 3 2 2 3 3 2 0M365 1243l3 3 2 3 3 2 2 3M366 1241l2 3 3 4 2 2 3 3M362 1241l2 2 3 5 2 1 3 4M364 1241l3 3 2 4 3 2 2 4M360 1241l2 2 3 4 2 2 3 4M336 1244l2 4 3 3M334 1242l2 5 3 6M333 1242l2 6 3 5M358 1244l3 3 2 3 3 4M407 1252l2-6 2-6M408 1251l3-4M420 1253l2-5 2-5M420 1254l3-4 2-7M459 1250M467 1252l3-4 2-4"/>
<path class="p" style="marker:url(#s12)" d="M356 1228l3 2 2 3 3 4M355 1228l3 5 2 2 3 5M356 1228l2 2 3 6 2 3M352 1227l2 5 3 2 2 3M354 1229l3 3 2 3 3 4M352 1230l3 3 2 3M328 1227l3 6 2 6M329 1230l2 6M328 1228l2 7M348 1229l3 5 2 3 3 3M413 1234l3-6M413 1239l2-6M427 1235l2-6M427 1238l2-8M462 1240l2-6 3-7M475 1239l2-4"/>
<path class="p" style="marker:url(#s13)" d="M349 1216l2 3 3 3M345 1214l3 4 2 4 3 4M346 1216l2 3 3 2 2 3M342 1213l2 2 3 4 2 4M344 1216l3 2 2 4 3 2M342 1215l3 4 2 2 3 5M326 1217M326 1220M325 1217M338 1213l3 4 2 5 3 3M418 1220M417 1225l2-9M431 1222l2-6M431 1224l3-7M469 1221l3-5M325 1220"/>
<path class="p" style="marker:url(#s14)" d="M336 1199l3 5 2 3 3 3 2 2M335 1199l3 3 2 5 3 4M336 1202l2 3 3 3 2 4M334 1200l3 4 2 3M334 1201l3 3 2 4 3 3M335 1202l2 4 3 5M333 1204l3 5M420 1211l2-10M422 1207M435 1207l3-5M436 1211l2-8M474 1210M324 1205"/>
<path class="p" style="marker:url(#s15)" d="M331 1193l3 3M330 1191l3 4M331 1194l2 3M332 1195M332 1198M332 1197M424 1191M424 1196l2-8M440 1196l2-6M440 1197l2-5 3-6"/>
<path class="p" style="marker:url(#s16)" d="M427 1183l2-7M428 1181l2-7M444 1183l2-6M447 1178l2-6"/>
<path class="p" style="marker:url(#s17)" d="M431 1169l2-6 2-5M433 1168l2-5 2-6M449 1170l2-9M451 1164"/>
<path class="p" style="marker:url(#s18)" d="M438 1152l2-6M439 1151l2-7M453 1155l2-9M453 1155l3-8"/>
<path class="p" style="marker:url(#s19)" d="M442 1139l2-7M444 1136l2-4M457 1139l3-8M458 1140l2-6"/>
<path class="p" style="marker:url(#s20)" d="M446 1125l3-5M448 1125l2-6M462 1126l2-6 2-5M462 1127l2-5 3-6"/>
<path class="p" style="marker:url(#s21)" d="M451 1114l2-7 2-6M452 1113l3-7M468 1110l3-4 2-3M469 1112l2-4 2-4"/>
<path class="p" style="marker:url(#s22)" d="M457 1093l3-5M457 1099l2-7 2-5M475 1099l2-3M475 1100l3-2"/>
<path class="p" style="marker:url(#s23)" d="M462 1083l2-4 2-4 2-2M463 1082l3-2 2-3 2-2"/>
<path class="p" style="marker:url(#s24)" d="M471 1072l2-2 2-3 2 0M472 1072l2-2 3 0 2-1"/>
</g>
<g clip-path="url(#c2)">
<path class="p" style="marker:url(#s2)" d="M604 1299l2 1 3 1 2 0 3 1 2 0 3 1 2 1 3-1 2 1 3 1 2 0 3 0 2 0 3 1 2 0 3 0 2 0 3 0 2-1 3 1 2-1 3 1 2 0 3 1 2-1 3 0 2 0 3 1 2-1 3 1 2 0 3 0 2-1 3 1 2 0 3 0 2-1M599 1298l3 2 2 2 3 1 2 0 3 1 2 3 3 0 2 0 3 0 2 1 3-1 2 1 3-1 2 2 3 0 2-1 3 0 2 0 3 1 2 0 3-1 2 1 3 0 2 1 3-1 2 0 3 1 2-1 3 1 2 0 3 0 2-2 3 0 2 1 3 1 2 0 3 0 2 0 3 0M606 1298M611 1299l2-1 3 0 2 1 3 1 2-1 3 0 2 0 3 1 2 1 3-1 2 0 3 0 2-1 3 1 2-1 3 2 2-1 3 0 2-1 3 1 2 1 3-1 2 1 3-1 2 0 3 1 2 0 3-2 2 0 3 1 2-1 3 1 2 0 3-1M543 1304l0 6"/>
<path class="p" style="marker:url(#s3)" d="M618 1286l2 0 3 0M628 1286l2-1 3 1 2-1 3 2 2 0 3-1 2 0 3 0 2 1 3-1 2 0 3 0 2 0 3-1 2 1 3 1 2-1 3 1 2 0 3-1 2 0 3 0 2 0 3 0 2 0 3 0 2 0 3-1M609 1285l2 2 3 1 2 0 3 1 2-1 3 1 2 0 3 0 2 0 3 0 2 1 3-2 2 1 3 0 2 0 3 0 2 2 3-2 2 1 3 0 2-2 3 2 2-2 3 2 2-2 3 1 2 1 3 0 2-1 3 0 2 0 3-1 2 0 3 1 2 0M591 1286l3 4 2 3 3 1 2 2M589 1287l3 4 2 2 3 3M591 1285l2 3 3 3 2 1 3 2 2 3M608 1298"/>
<path class="p" style="marker:url(#s4)" d="M611 1273l3 2 2-1 3 1 2 0 3 0 2-1 3 2 2-2 3 1 2 2 3-1 2 0 3 0 2-2 3 1 2 1 3 0 2 0 3-1 2 1 3-1 2 1 3 0 2-1 3 0 2 0 3 0 2 0 3 1 2 0 3-1 2 0 3 0 2 0M604 1274l2-1 3 2 2 1 3 1 2 1 3-1 2 0 3 0 2 2 3-1 2 0 3 1 2 0 3-1 2 0 3 1 2 0 3 0 2-1 3-1 2 2 3 0 2-1 3 0 2 0 3 0 2 0 3 1 2-1 3 1 2-1 3 0 2 0 3 0 2-1 3 0 2 0M593 1274l2 1 3 3 2 0 3 1 2 1 3 1 2 1 3 1 2 1M625 1285M586 1272l3 3 2 1 3 3 2 0 3 3 2 0 3 1 2 1M581 1275l3 3 2 2 3 3M577 1272l2 3 3 4 2 2 3 3M578 1273l3 3 2 3 3 2 2 2"/>
<path class="p" style="marker:url(#s5)" d="M643 1259M656 1259M671 1259M678 1258M601 1259l2 0 3 1 2 3 3 1 2 0 3 2 2 0 3 1 2 0 3-1 2 0 3 0 2 1 3-1 2 1 3-2 2 1 3 1 2-1 3 0 2 2 3-1 2 0 3 0 2-1 3 1 2-1 3 1 2-1 3 0 2-1 3 0 2 0 3 1 2 0 3 0 2 0 3 0M598 1260l3 1 2 1 3 4 2 0 3 0 2 3 3-1 2 1 3 0 2 0 3 1 2-1 3 0 2 0 3 1 2 0 3 0 2-1 3 1 2-1 3 1 2-1 3 1 2 0 3 0 2-1 3 0 2 0 3 0 2 1 3 0 2-1 3 0 2 1 3-1 2 1 3-2 2 0 3 1M589 1259l2 2 3 2 2 2 3 1 2 2 3 2 2 1 3 0M586 1259l3 2 2 3 3 3 2 1 3 1 2 2M578 1259l2 2 3 4 2 2 3 3 2 1M576 1260l3 2 2 4 3 3M571 1261l3 4 2 4 3 2M569 1261l3 3 2 5M568 1261l3 3 2 4 3 3M543 1270"/>
<path class="p" style="marker:url(#s6)" d="M646 1250l2 0 2 0 2-1 2 0 2-1 2-1 2-1M682 1245M687 1246l3-1 2 2 3-1M629 1246l2 0 3-1 2 1 3 0 2-1 3 2M649 1246l2 1 3 0 2-1 3 2 2-2 3 1 2 0 3 0 2 1 3-2 2 1 3 1 2 1 3-1 2 0 3 1 2 1 3-1 2 0M598 1246l3 2 2 1 3 3 2 2 3 0 2 1 3 0 2 2 3 0 2 1 3-1 2 0 3 1 2-1 3 1 2 0 3 0M646 1258l2 0 3-1 2 0M658 1257l3 1 2-1 3 0 2 0M673 1257l3 1M681 1257l2 1 3-1 2 0 3 1 2-3 3 2M591 1246l2 6 3 1 2 3M588 1247l3 5 2 4 3 1M579 1247l2 4 3 2 2 1M576 1249l3 2 2 2 3 4M570 1247l3 5 2 3M566 1245l3 5 2 2 3 5M561 1247l3 3 2 4 3 3M562 1248l2 4 3 5M558 1247l3 4 2 3 3 3M543 1256"/>
<path class="p" style="marker:url(#s7)" d="M631 1242l2 0 2-1 2 1 2-1 1 0 2 1 2 0 2-1 2 0 1-1 2-4 2-3M662 1245l2-3 2-3 2-6M605 1233l2 2 3 2 2 2 3 1 2 2 3 0 2 1 3 1 2-2 3 1 2 0 3 0 2-1 3 0 2 0 3 1 2 0 3 0 2 1 3-1 2 1 3 1 2-1 3-2 2 2 3 1 2 0 3-2 2 2 3 0M685 1245M697 1245M601 1233l3 2 2 1 3 4 2 1 3 1 2 2 3 0 2 1 3-1 2 1M646 1244M588 1234l3 3 2 4 3 3M581 1234l2 3 3 3 2 5M578 1233l3 3 2 3 3 4M566 1233l3 2 2 3 3 4 2 2M566 1235l3 4 2 3 3 3M560 1234l3 3 2 4 3 3M559 1234l2 4 3 4M554 1234l2 4 3 4M554 1235l3 5 2 4M551 1235l2 4 3 4"/>
<path class="p" style="marker:url(#s8)" d="M604 1219M607 1219l2 2 1 0 2 1 2-1 1 0 2-1 1-1 2 1M655 1228l2-4M670 1228l2-7M595 1220l2 3 3 4 2 4M594 1219l2 5 3 4M581 1221l2 5 3 4M568 1219l3 3 2 3 3 2 2 3M566 1221l2 2 3 2 2 3 3 3M559 1222l2 5 3 1M556 1220l3 5 2 2 3 4M550 1221l3 4 2 3 3 3M549 1221l2 2 3 4 2 3M546 1221l3 3 2 5M547 1221l2 5 3 4M548 1231"/>
<path class="p" style="marker:url(#s9)" d="M591 1206l2 2 1 1 2 2 2 3 1 0 2 0 1 3M606 1219M622 1217l1-4 2-6M658 1218l2-2 2-8M674 1213l2-4M590 1209l2 6M586 1207l3 4 2 4M563 1206l3 1 2 3 3 1 2 1 3 3 2 2M553 1209l3 1 2 1 3 3 2 1 3 2M548 1206l3 1 2 2 3 1 2 3 3 2 2 3M546 1211l3 1 2 3 3 1 2 3M546 1210l3 3 2 3 3 2M545 1215l3 1M546 1216"/>
<path class="p" style="marker:url(#s10)" d="M578 1193l2 1 2 2 1 2 2 2 1 0 2 2 2 1M626 1200M664 1206l2-6 1-3 2-1M678 1204l2-4 2-2 2-3 2-1M575 1194l2 0 3 1 2 4 3 3 2 3M569 1193l2 1 3 1 2 2 3 2 2 1 3 3M546 1197l2 1 3 1 2 2 3 0 2 2 3 1M546 1203l2 0 3 3M546 1203"/>
<path class="p" style="marker:url(#s11)" d="M545 1190l1-1 2-1 2-1 1-1 2 0 1-1 2 1 2-1 1 1 2 0 1-1 2 1 2-1 1 0 2 1 1 1 2 1 2 1 1 1 2 1M628 1192l2-8 1-4M671 1192l2-7M688 1191l2-4 2-5M545 1189l2 0 3-2 2 0 3-1 2 1 3-1 2 1 3 1 2 1 3 2 2 1M546 1190l3-2 2-1 3 0 2 1 3 1 2 0 3 1 2 2"/>
<path class="p" style="marker:url(#s12)" d="M633 1176l1-3 2-5M675 1179l1-5 2-4"/>
<path class="p" style="marker:url(#s13)" d="M638 1163l1-6M680 1166l2-4 2-3"/>
<path class="p" style="marker:url(#s14)" d="M641 1150l1-5M685 1153l2-6"/>
<path class="p" style="marker:url(#s15)" d="M644 1137l2-6M689 1138l2-11"/>
<path class="p" style="marker:url(#s16)" d="M647 1126l2-6 1-6M693 1120l1-5"/>
<path class="p" style="marker:url(#s17)" d="M652 1109l2-4"/>
<path class="p" style="marker:url(#s18)" d="M655 1101l2-5 1-4"/>
<path class="p" style="marker:url(#s19)" d="M660 1085l2-6"/>
<path class="p" style="marker:url(#s20)" d="M663 1074l2-9"/>
<path class="p" style="marker:url(#s21)" d="M666 1057l2-6"/>
<path class="p" style="marker:url(#s22)" d="M670 1047l1-4 2-2 1-3 2-1 2-1"/>
<path class="p" style="marker:url(#s23)" d="M679 1035l2 0 1-1 2-2 2-1 1-2 2 0 1-1 2-1 2-1"/>
</g>
<g clip-path="url(#c3)">
<path class="p" style="marker:url(#s1)" d="M835 1311l2 1 2 1 2 0 2 0 2 1 2-1 2-1 2 1 2-1 2 0 2 0 2-2M822 1311l2-1 2 1 2 1 2 1 2 1 2 2 2 0 2 0 2 1 2 2 2-1 2 1 2-1 2 0 2 0 2-1 2-1 2-1 2 1 2-3 2-1"/>
<path class="p" style="marker:url(#s2)" d="M811 1302l2 0 2 1 2 0 2 1 2 0 2 1 2 2 2 0 2 2 2-1 2 1M861 1308l2-1 2-2 2-4M804 1300l2 0 2 2 2 1 2 3 2 1 2 0 2 1 2 1M866 1309l2-4 2-3M833 1305l2 0 3-3 2-2"/>
<path class="p" style="marker:url(#s3)" d="M799 1292l2 1 2 2 2 2 2 2 2 1M869 1298l2-2 2-4M794 1291l2 2 2 2 2 2 2 2M872 1299l2-2 2-4M843 1295"/>
<path class="p" style="marker:url(#s4)" d="M791 1282l2 3 2 3 2 1M875 1289l2-4 2-5M788 1281l2 4 2 2M878 1288l2-3 2-4M845 1289l3-4"/>
<path class="p" style="marker:url(#s5)" d="M833 1271M838 1273l3-1 2 0 3 1 2 0 3 0 2 0 3 0 2 0 3 1 2-1 3 0 2 1 3-1 2-1 3 0 2-1 3 1M867 1272l2-1 2 1M881 1271M785 1271l2 2 2 6M881 1277l2-5M784 1272l2 4M884 1277l2-5M850 1279l3-6"/>
<path class="p" style="marker:url(#s6)" d="M825 1261l3 1 2 1 3 0 2 1 3 1 2 1 3 0 2-1 3 0 2 0 3 1 2 1 3-1 2-1 3 1 2 0 3-1 2 1 3-1 2 1 3-1 2-1 3-2M813 1262l3 1 2 0 3 2 2 2 3 0 2 2 3 0M836 1270M883 1267l3-4M823 1265l2-1 2-1 2-2M822 1266l2-1 2 0 2-1 2-3M824 1266l2 0 2-2 2 0 2-1 2-3M842 1270l2-1 2-3 2-3M873 1270l2-3 2-2M883 1268l2-4 2-3M781 1260l2 5M885 1267l2-5M782 1263M888 1265M855 1267l3-2"/>
<path class="p" style="marker:url(#s7)" d="M818 1250l3 3 2 0 3 2 2-1 3 1 2 1 3 1 2 1 3 1 2 0 3 0 2 0 3-1 2 1 3 0 2 0 3 0 2-1 3 0 2 1 3 0 2-2 3 1 2 0 3-1 2-3M808 1251l2 2 3 1 2 1 3 2 2 2 3 0M885 1257l3-4M801 1251l2 2 3 2 2 4 3 0M888 1258l3-5M831 1258l2-2 2-4M832 1260l2-3 2-4M836 1257l2-2M850 1259l2-3 2-6M879 1259l2-3 2-5M889 1258l2-7M779 1255M889 1254M778 1253l2 7M890 1256"/>
<path class="p" style="marker:url(#s8)" d="M803 1240l3 1 2 3 3 1 2 3 3 1M886 1250l2-7M800 1242l3 4 2 1M890 1248l3-6M793 1241l3 4 2 2M893 1249l3-5M837 1249l2-5 2-4M838 1250l2-4 2-4M840 1249l2-3 2-4M856 1246l2-2M885 1245M893 1244M775 1242l2 6M891 1246M774 1241l2 6M892 1249l2-6"/>
<path class="p" style="marker:url(#s9)" d="M798 1233l3 4M891 1239l2-5M790 1231l3 2 2 3 3 3M895 1238l3-4M786 1233l2 2 3 3M898 1240l3-5M843 1234l2-4M844 1237l2-5M846 1239l2-5M860 1240l2-2 2-4 2-2M887 1238l2-8M895 1238l2-7M771 1232l2 6M893 1240l2-6 2-4M772 1235M896 1239l2-6"/>
<path class="p" style="marker:url(#s10)" d="M788 1223l3 1 2 3 3 3M896 1230l2-4M783 1222l2 3 3 3M900 1228l3-5M778 1220l3 5 2 4M903 1229l3-6M847 1223M848 1227l2-5M850 1228l2-6M868 1228l2-2 2-4M891 1223M899 1226l2-4M769 1226M899 1226l2-5M768 1222l2 6M900 1229l2-3 2-4"/>
<path class="p" style="marker:url(#s11)" d="M778 1212l3 2 2 1 3 3M901 1220l2-5M775 1212l3 4 2 3M905 1218l3-7M773 1212l3 4M908 1218l3-5M849 1219l2-5M852 1216l2-6M854 1218l2-6M874 1219l2-5M893 1216l2-5M903 1218l2-3 2-2M765 1213l2 7M903 1217l2-4M766 1215M906 1218l2-4 2-3"/>
<path class="p" style="marker:url(#s12)" d="M771 1204l2 3 3 3M906 1208l2-6M768 1201l2 4 3 4M910 1206l3-5M766 1201l2 4 3 5M853 1208l2-4M856 1206l2-4M858 1207l2-5 2-1M878 1209l2-5M897 1207l2-5M909 1208l2-6M763 1206M907 1210l2-4 2-3M762 1201l2 8M912 1207"/>
<path class="p" style="marker:url(#s13)" d="M763 1193l3 4 2 3M911 1198M763 1194l2 3M763 1196M857 1199l2-5M860 1197l2-3M864 1197l2-6M882 1200l2-6M901 1197l2-4M913 1197"/>
<path class="p" style="marker:url(#s14)" d="M861 1190l2-3 2-4M864 1190l2-5 2-3M868 1189l2-4 2-4M886 1189l2-4M905 1187l2-5"/>
<path class="p" style="marker:url(#s15)" d="M867 1179l2-4M870 1179l2-5 2-3M874 1176M890 1178l2-6M909 1177"/>
<path class="p" style="marker:url(#s16)" d="M871 1170l2-3 2-6M876 1164M876 1170l2-5M894 1164"/>
<path class="p" style="marker:url(#s17)" d="M877 1155M878 1159l2-7M880 1159l2-6M896 1155"/>
<path class="p" style="marker:url(#s18)" d="M879 1149l2-4M882 1146l2-5M884 1148l2-6M898 1150l2-9"/>
<path class="p" style="marker:url(#s19)" d="M883 1139l2-7M886 1135l2-4M888 1137l2-6M902 1135"/>
<path class="p" style="marker:url(#s20)" d="M887 1127l2-6M890 1125M892 1128l2-7M904 1130l2-7"/>
<path class="p" style="marker:url(#s21)" d="M891 1119l2-6M892 1120l2-4 2-5M896 1117l2-4M908 1119l2-5"/>
<path class="p" style="marker:url(#s22)" d="M895 1109l2-5M898 1107l2-6M900 1108l2-5M912 1110"/>
<path class="p" style="marker:url(#s23)" d="M899 1099l2-4M902 1098l2-5M904 1099l2-3 2-4"/>
<path class="p" style="marker:url(#s24)" d="M903 1090l2-4 2-4M906 1090l2-5 2-3M910 1088"/>
<path class="p" style="marker:url(#s25)" d="M909 1078"/>
</g>
<g clip-path="url(#c4)">
<path class="p" style="marker:url(#s2)" d="M183 1765l2 0 2 0"/>
<path class="p" style="marker:url(#s3)" d="M164 1753l2 2 2 1 2 1 2 1 2 2 2 0 2 1 2 1 2 0 2 1 2-1 2 0 2-1 2-1 2-3 2-4M161 1753l2 3 2 0 2 1 2 3 2 1 2 1 2 2 2 0 2 1 2 0M189 1764l2-1 2-1 2-4 2-5"/>
<path class="p" style="marker:url(#s4)" d="M154 1742l2 4 2 0 2 4 2 1M198 1749l2-8M151 1743l2 2 2 2 2 2 2 3M199 1748l2-5"/>
<path class="p" style="marker:url(#s5)" d="M158 1730l2 0 2 0 2 1 2 4 2 0 2 2 2 0 2 2 2 1 2-1 2 0 2-1 2-1 2-3 2-3M142 1728l2 1 2 4 2 2 2 3 2 1M202 1737l2-8M141 1728l2 3 2 3 2 3 2 2M203 1736l2-7"/>
<path class="p" style="marker:url(#s6)" d="M146 1718l2 2 2 1 2 4 2 0 2 2M190 1727l2-6M134 1716l2 4 2 2 2 3M206 1722l2-5M133 1717l2 4 2 3 2 2M207 1722l2-5"/>
<path class="p" style="marker:url(#s7)" d="M161 1704l2 1 2 2 2 1 2 0 2-3 2 0M157 1704l2 3 2 1 2 2 2 3 2-1 2-1 2 0 2-3 2-2 2-1M136 1704l2 3 2 4 2 1 2 3M194 1714l2-8M128 1706l2 3 2 3M210 1711l2-4M127 1704l2 5 2 4M211 1711l2-4"/>
<path class="p" style="marker:url(#s8)" d="M172 1691l2 1 2 2 2-2M168 1693l2 0 2 2 2 2 2 1 2-2 2-5M153 1694l2 2 2 4 2 2M175 1703l2-2 2-4 2-5M149 1691l2 4 2 2 2 4M179 1700l2-6M130 1694l2 3 2 5M198 1699l2-5M124 1695l2 6M214 1700M123 1694l2 5M215 1698"/>
<path class="p" style="marker:url(#s9)" d="M162 1682l2 1 2 2 2 3 2 2M180 1688l2-7M156 1679l2 1 2 2 2 3 2 2 2 1M182 1684l2-5M145 1680l2 4 2 2 2 5M183 1685M141 1679l2 2 2 3 2 4M183 1689l2-7M120 1679l2 1 2 3 2 4 2 3M202 1689l2-6M120 1680l2 9M216 1690l2-11M121 1685M217 1687"/>
<path class="p" style="marker:url(#s10)" d="M150 1668l2 3 2 1 2 3 2 1 2 2M184 1676l2-6M144 1667l2 1 2 2 2 1 2 4 2 2M186 1674l2-6M135 1667l2 2 2 3 2 2 2 2M185 1678l2-6 2-5M133 1667l2 3 2 4 2 1M187 1676l2-6M114 1668l2 4 2 2M206 1678l2-8 2-3M118 1674M220 1670M117 1671l2 6M219 1677l2-9"/>
<path class="p" style="marker:url(#s11)" d="M136 1655l2 2 2 0 2 3 2 1 2 2 2 3M188 1665l2-7M134 1656l2 1 2 3 2 2 2 1M190 1664l2-7M127 1658l2 1 2 3 2 2M191 1661l2-2M125 1657l2 2 2 4 2 2M191 1665l2-4 2-4M212 1660l2-4M116 1664M222 1663M115 1661M223 1661"/>
<path class="p" style="marker:url(#s12)" d="M122 1643l2 1 2 2 2 1 2 2 2 3 2 1M192 1652l2-4 2-4M118 1642M122 1644l2 1 2 2 2 3 2 2 2 1M194 1653l2-5 2-5M117 1645l2 2 2 2 2 3 2 2M195 1654l2-4 2-3 2-4M117 1645l2 3 2 3 2 2M197 1654l2-3 2-4 2-5M216 1650l2-7M224 1653l2-7M225 1652l2-7"/>
<path class="p" style="marker:url(#s13)" d="M116 1638l2 2 2 1M198 1641l2-5 2-4 2-2M116 1638M120 1641M200 1639l2-3 2-2 2-4M115 1641M203 1639l2-5 2-4M115 1641M205 1639l2-6M220 1637l2-3M228 1639l2-8M229 1637l2-7"/>
<path class="p" style="marker:url(#s14)" d="M206 1626l2-3 2-3M208 1627l2-4 2-4M209 1625l2-4M209 1628l2-3 2-7M224 1629l2-4 2-4M232 1622M233 1621"/>
<path class="p" style="marker:url(#s15)" d="M212 1616l2-5 2-4M214 1615l2-4 2-4M213 1615l2-5 2-4M215 1615l2-5 2-4M230 1616l2-6"/>
<path class="p" style="marker:url(#s16)" d="M218 1601l2-3 2-4M220 1601l2-3 2-6M219 1601l2-4 2-3M221 1601l2-4 2-4M234 1603l2-6"/>
<path class="p" style="marker:url(#s17)" d="M224 1589l2-4 2-4M226 1589l2-5 2-3M225 1588l2-4 2-3M227 1589l2-5 2-4M238 1590l2-4 2-4"/>
<path class="p" style="marker:url(#s18)" d="M230 1578l2-6 2-2M232 1578l2-4 2-3M231 1578l2-4 2-5M233 1577l2-3 2-2 2-4M244 1578l2-3 2-4"/>
<path class="p" style="marker:url(#s19)" d="M236 1566l2-2 2-5 2-2M238 1566l2-3 2-2 2-4M237 1568l2-2 2-4 2-2 2-2M241 1566l2-3 2-2 2-2 2-2M250 1567l2-2 2-5 2-2"/>
<path class="p" style="marker:url(#s20)" d="M244 1554l2-4 2-3 2-2M246 1555l2-2 2-4 2-2 2-4M247 1555l2-2 2-1 2-2 2-2 2-1 2-2M251 1555l2-1 2-1 2-2 2-2M258 1553l2-3"/>
<path class="p" style="marker:url(#s21)" d="M252 1542l2-2 2-3 2-3 2-2M256 1540l2-2 2-1"/>
</g>
<g clip-path="url(#c5)">
<path class="p" style="marker:url(#s1)" d="M386 1739l3 0 2-1M371 1739l3 3 2 1 3 0 2 2 3 2 2 0 3 0 2-1 3-1 2-1 3-2 2-1M377 1738l3 2 2 0 3 0 2 2 3 0 2-1 3-1 2-1"/>
<path class="p" style="marker:url(#s2)" d="M390 1728M376 1729l3-1 2 3 3 2 2-1 3 0 2 0 3-2 2-2M380 1727M385 1729l3 1 2 0 3-2M371 1729l3 3 2 2 3 2 2 1 3 0M394 1738l2-2 3-3 2-3M372 1729l3 1 2 2 3 2 2 0 3 2 2 0 3 1 2-1 3-2 2-4 3-1M364 1730l2 4 3 2M404 1736l2-3M367 1729l3 4 2 1 3 3M400 1736l2-4 3-3"/>
<path class="p" style="marker:url(#s3)" d="M387 1719l2-1M378 1717l2 3 3 1 2 0 3 1 2 0 3-3M377 1717l2 0 3 3 2 2 3 0 2 1 3-2 2-4M383 1718l2 3 3-1 2-1M375 1717l3 2 2 1 3 3 2 1 3 0 2 0 3-4 2-2M370 1717l2 2 3 1 2 3 3 2 2 1 3 0 2 1M392 1726l3-2 2-5M374 1717l3 3 2 2 3 1 2 2 3 1 2 0 3-2 2-2 3-4M366 1718l3 2 2 4 3 1M399 1725l2-4M370 1719l3 4 2 2 3 2M383 1727M395 1725l3-3 2-4M361 1718l3 4 2 3 3 1M404 1726l2-5M362 1718l3 2 2 3 3 4M402 1725l3-4M356 1720l3 5 2 2M409 1726l2-9M357 1718l3 3 2 2 3 3M407 1724"/>
<path class="p" style="marker:url(#s4)" d="M385 1708l2-1 3 0M380 1707l3 1 2 1 3 1 2-1M377 1707l3 3 2 1 3 1 2 1 3-1 2-2M373 1707l2 2 3 2 2 1 3 2 2 2 3-1 2-1 3 0 2-5M372 1709l2 2 3 2 2 2 3 2 2 0M392 1717l2-4 3-4M368 1707l2 4 3 2 2 3M395 1715l3-3 2-5M367 1706l2 4 3 3 2 3M397 1714l2-5M368 1707l2 2 3 2 2 3 3 1 2 1M393 1716l2-2 3-5M365 1707l3 3 2 3 3 3M398 1715l2-4M362 1707l3 4 2 3M400 1715l2-4M364 1706l3 5 2 3 3 2M399 1714l3-4M359 1708l2 4 3 3M404 1716l2-5M363 1712l2 2 3 2M403 1714l2-6M354 1708l2 4 3 4M409 1713M355 1707l2 4 3 3M407 1715M349 1709l2 3 3 4M414 1707M352 1710l3 5M410 1715"/>
<path class="p" style="marker:url(#s5)" d="M381 1696l2 2 3 2 2 0 3-2M372 1697l3 3 2 2 3 2 2 2M392 1705l3-5M375 1697l3 2 2 1 3 1 2 1 3 2 2 0 3-3M374 1697l2 3 3 0 2 3 3 0 2 1 3 2 2 0 3-6M370 1697l3 4 2 3 3 1M393 1705l2-4 3-5M367 1696l3 4 2 3 3 3M395 1706l2-3M365 1699l3 2 2 4M398 1704l2-4M364 1697l3 5 2 4M399 1705l3-7M360 1697l3 4 2 3M403 1702M359 1696l3 3 2 6M402 1703l2-6M360 1696l3 3 2 4M400 1703l3-7M358 1697l2 3 3 4M403 1705l2-5M355 1698l2 2 3 4M405 1706l2-6M357 1697l2 4 3 3M404 1705l3-7M351 1698l3 3 2 3M409 1704l2-8M355 1700l3 3 2 3M408 1702M346 1696l3 4 2 4M411 1705M350 1700l2 2M410 1706l2-10M344 1698l2 5M416 1697M345 1697l2 5 3 3M412 1706"/>
<path class="p" style="marker:url(#s6)" d="M371 1688l2 3 3 2 2 1M393 1695l3-5M365 1688l2 4 3 3M397 1695l3-7M368 1688l2 3 3 4M395 1695l3-5M366 1687l3 4 2 3M396 1695l3-5M363 1687l2 4 3 2M400 1690M360 1686l2 3 3 3M400 1695l2-7M358 1687l2 4 3 4M403 1693l2-7M357 1688l2 4 3 3M404 1692M353 1686l2 4 3 3M405 1696l3-8M352 1685l2 4 3 4M407 1689M355 1688l3 4M405 1691M353 1689l2 3M408 1693M350 1688l2 5M410 1690M352 1690l2 4M409 1690M346 1688l3 4M414 1687M348 1686l2 6 3 3M410 1695l3-10M341 1686l3 4M414 1696l2-10M342 1686l3 3 2 5M415 1688M339 1690l2 4M419 1690M340 1687l2 4M415 1695l2-10"/>
<path class="p" style="marker:url(#s7)" d="M363 1676l3 5 2 4M398 1682l3-7M357 1678l3 3 2 2M402 1679M360 1676l3 4 2 4M400 1682M359 1676l2 4 3 3M401 1682M355 1676l3 4 2 2M403 1680M352 1675l3 3 2 4M405 1681l2-6M350 1675l3 5 2 3M408 1680M349 1675l3 5 2 5M407 1685l2-9M348 1677l2 5M410 1681M347 1675l2 4M409 1682M348 1675l2 3 3 6M408 1683l2-8M345 1675l3 4 2 5M410 1684M342 1676l3 4 2 5M412 1682M344 1675l3 5 2 5M412 1682M339 1676l2 3 3 5M416 1678M343 1679l2 3M415 1676M336 1677l3 5M419 1678M337 1677l3 5M417 1680M331 1676l3 4 2 4M421 1683l3-7M332 1675l3 3 2 5M420 1679"/>
<path class="p" style="marker:url(#s8)" d="M356 1665l2 4 3 4M403 1666M352 1670l3 3M405 1673l2-9M355 1669l3 5M403 1674l2-9M354 1667l2 5M404 1673l2-7M350 1666l3 6M405 1674l3-7M350 1669M410 1667M345 1665l3 5M410 1671M344 1665l3 6M412 1668M340 1665l3 3 2 6M413 1672M342 1666l2 3M412 1674l2-8M343 1665l2 5M413 1666M338 1664l2 3 3 3M413 1674l2-8M335 1664l2 3 3 4M415 1672l2-6M337 1665l2 2 3 5M414 1673M331 1665l3 3 2 3M419 1669M333 1664l2 4 3 2 2 3M418 1666M329 1666l2 5 3 3M421 1670M330 1665l2 4 3 4M420 1672l2-8M326 1666l3 5M426 1670M327 1667l3 4M422 1674l3-8"/>
<path class="p" style="marker:url(#s9)" d="M351 1657l2 3M406 1658M347 1659l3 4M410 1656M348 1655l2 5 3 4M408 1658M346 1654l3 4 2 5M409 1658M343 1654l2 4 3 5M410 1658M342 1654l3 5 2 5M412 1657M338 1654l2 4 3 4M413 1663M334 1654l3 3 2 3 3 2M414 1660M330 1654l3 2 2 3 3 3M415 1663M332 1654l2 3 3 2 2 3M417 1656M335 1655l3 3 2 4M415 1658M330 1655l3 3 2 4M418 1657M327 1656l3 2 2 5M420 1656M327 1654l2 2 3 2 2 4M417 1663l2-6M326 1659l3 2M421 1661l3-4M325 1655l3 3 2 1M420 1659M326 1663M424 1664l2-8M327 1661M425 1658M429 1663l2-6M427 1660l3-6"/>
<path class="p" style="marker:url(#s10)" d="M346 1648l2 4M408 1648M335 1643l2 1 3 2 2 4 3 3M412 1647M340 1643l3 4 2 4M410 1651M339 1643l2 3 3 4M411 1650M333 1644l2 1 3 2 2 2M413 1649M327 1643l3 1 2 2 3 1 2 3 3 2M415 1650M325 1645l3 1 2 3 3 1 2 3M415 1653l3-8M327 1648l2 2 3 1M417 1651M325 1649l3 3M418 1653l2-7M327 1649l2 3M419 1648M325 1646l3 3 2 1 3 3M418 1650M325 1650l3 3M420 1650M422 1649M422 1649M426 1648M423 1653l2-8M429 1650l2-6M427 1651l3-6M434 1650M432 1649"/>
<path class="p" style="marker:url(#s11)" d="M326 1633l2 0 3 2 2-1 3 1 2 1 3 3 2 3M411 1641l2-8M327 1639l3 1 2 2M415 1640l2-8M325 1636l3 0 2 1 3 0 2 1 3 2M413 1642l2-8M326 1636l3 1 2 1 3 0 2 3M414 1642l2-9M325 1640l3 1 2 1M415 1641l3-8M417 1641M420 1637M419 1643l3-7M423 1638M422 1640l2-7M420 1641l3-7M423 1643l2-8M425 1642l2-7M424 1641l3-6M429 1641l2-7M428 1638M434 1637M432 1637M436 1643l3-8M435 1639"/>
<path class="p" style="marker:url(#s12)" d="M416 1625M420 1624M418 1625M419 1624M420 1625M420 1632l2-8M423 1630l2-8M424 1628M425 1632l3-8M427 1625M425 1627M428 1628M430 1629M429 1627M434 1627M430 1631l3-7M436 1631M435 1629M441 1625M437 1631l3-9"/>
<path class="p" style="marker:url(#s13)" d="M418 1618M422 1615M420 1617M421 1616M423 1616M425 1616M428 1615M427 1620l2-7M430 1617M429 1619l3-8M428 1619l2-7M430 1621l3-8M432 1620l3-7M432 1619l2-7M436 1619l3-8M435 1616M439 1620l2-8M437 1621l3-8M444 1616M442 1613"/>
<path class="p" style="marker:url(#s14)" d="M421 1609M425 1607M423 1608M424 1609M425 1609l3-7M427 1608l3-6M430 1606M432 1606M433 1608M434 1603M433 1603M435 1605M437 1605M437 1603M441 1602M438 1607M444 1602M442 1605M446 1609M445 1605"/>
<path class="p" style="marker:url(#s15)" d="M423 1600l3-7M427 1599l3-7M425 1600l3-8M426 1600l3-8M430 1592M432 1592M433 1599M434 1597M435 1600l3-7M437 1594M435 1594M438 1595M440 1596M439 1595M444 1595M440 1598l3-7M446 1595M445 1596M449 1600l2-5 3-5M447 1598l3-6"/>
<path class="p" style="marker:url(#s16)" d="M428 1583M432 1582M430 1584M431 1584M433 1585M435 1583M435 1589l3-7M437 1587l2-7M440 1585M439 1585M438 1586M440 1588l3-7M442 1588l3-7M442 1586l2-6M446 1586l3-7M445 1583M449 1588l2-5M447 1589l3-6 2-3M456 1586l3-4M452 1587l3-4"/>
<path class="p" style="marker:url(#s17)" d="M431 1575M435 1573M433 1574M434 1574M435 1576M437 1574M440 1574M442 1572M443 1578l2-8M442 1579l2-8M440 1579l3-9M445 1573M447 1573M447 1574M451 1575l3-6M448 1577l2-6M454 1579l2-4 3-5M455 1573l2-4M461 1578l3-3 2-4M457 1577l3-4 2-4"/>
<path class="p" style="marker:url(#s18)" d="M433 1564M437 1564M435 1565M436 1565M438 1568l2-8M440 1568l2-8M443 1566l2-7M444 1566l3-7M448 1565M447 1565l2-6M445 1565l3-6M448 1568l2-7M450 1567l2-4 3-2M449 1568l3-6M456 1566l3-5M453 1566l2-4 3-3M461 1567l3-4 2-3M460 1565l2-3 3-3M469 1568l2-3 3-3 2-1M465 1567l2-3 3-4 2-2"/>
<path class="p" style="marker:url(#s19)" d="M436 1555M440 1557l2-6M438 1558l2-9M439 1556l2-5M443 1553M445 1555l2-7M448 1553l2-5M449 1553l3-4M450 1558l3-4 2-5M452 1554l2-4M450 1555l3-6M453 1556l2-3 3-4M457 1555l3-2 2-4M454 1557l3-4 2-3M461 1558l3-3 2-2 3-4M460 1554l3-3 2-2M469 1557l2-1 3-3 2-2M467 1556l3-3 2-3 3-2M475 1555"/>
<path class="p" style="marker:url(#s20)" d="M438 1547l3-6M445 1546l2-7M443 1543l2-5M444 1545l2-5M445 1545l3-4M450 1545l2-6M453 1544l2-3M454 1545l3-5 2-2M458 1547l2-4 3-3 2-2M457 1547l2-3 3-4 2-3M455 1545l3-2 2-4M460 1546l3-3 2-3 3-3M465 1546l2-4 3-2 2-2M462 1546l2-2 3-3 2-2M471 1547l3-2 2-3M468 1546l2-2 3-3 2-2"/>
<path class="p" style="marker:url(#s21)" d="M443 1535l3-5M450 1534l2-3M448 1533l2-5M449 1533l2-3M450 1536l3-3 2-4 3-2M455 1535l2-2 3-4M458 1537l2-2 3-4 2-2 3-2M462 1536l2-4 3-2 2-3M468 1533l2-1 3-1 2-2M467 1535l2-4 3-1 2-2 3-1M463 1535l2-2 3-2 2-1 3-3M470 1534l3 0 2-2M475 1536M472 1537l2-3 3-1"/>
<path class="p" style="marker:url(#s22)" d="M448 1525l3-4 2-2M455 1526l2-3 3-2 2-3M453 1525l2-4 3-2M454 1524l2-1 3-3M460 1523l3-3 2-1M462 1526l3-3 2-2 3-2 2-2 3-1M470 1524l3-2 2-1M472 1526l2-3 3 0M475 1525"/>
<path class="p" style="marker:url(#s23)" d="M456 1514l2-1 3-4 2-3M465 1515l2-2 3-1 2-1 3-3M460 1515l3-4 2 0 3-5 2 0 3 0M461 1516l3-2 2-2 3-2 2-3 3-1 2 0M468 1515l2-1 3-2 2-1"/>
<path class="p" style="marker:url(#s24)" d="M466 1504l2-2 3-2 2-1 3-1M475 1503"/>
</g>
<g clip-path="url(#c6)">
<path class="p" style="marker:url(#s1)" d="M595 1740l3 1 2 0 3 0M592 1740l2 3 3 2 2 1 3-1 2-2M597 1739l3 1 2 0M595 1740l3 2 2-1 3 1M594 1742l3 2 2 0 3-1 2-2M600 1739l3 0M591 1742l3 2 2 4 3 0 2 2 3-3 2-6M543 1749"/>
<path class="p" style="marker:url(#s2)" d="M588 1729l2 5 3 2M605 1735M584 1729l3 2 2 5M607 1735l2-6M590 1730l2 4 3 4M605 1736M588 1732l2 2 3 4M605 1738l3-8M600 1728M593 1729l3 2 2 2 3 0 2-2M587 1732l2 3 3 4M607 1735l2-5M601 1728M590 1732l3 2 2 4 3 1M605 1734M581 1728l3 3 2 4 3 2M609 1734M543 1730"/>
<path class="p" style="marker:url(#s3)" d="M590 1719l3 3 2 2 3 2 2 0 3 0 2-7M580 1717l3 6 2 3M608 1727l2-8M577 1717l2 3 3 5M612 1721M592 1719l2 3 3 2 2 1 3-1 2-4M582 1719l3 4 2 4M607 1727l3-6M580 1718l3 5 2 3M610 1723M588 1718l2 2 3 3 2 2 3 2M603 1726l2-6M586 1718l2 3 3 5M606 1724M579 1720l3 5 2 2M612 1720M589 1718l2 3 3 3 2 2 3 1M604 1724l2-8M580 1716l3 5 2 2 3 4M608 1726l2-8M576 1717l3 6M611 1727l3-10"/>
<path class="p" style="marker:url(#s4)" d="M592 1706l3 3 2 2 3 2 2-4M583 1708l2 3 3 4M608 1710M575 1709l3 5M613 1711M572 1707l2 5M614 1711M589 1707l3 2 2 2 3 3 2 1 3 0 2-6M584 1709l3 3 2 4M607 1712M575 1706l2 4 3 5M612 1710M573 1706l2 5 3 3M613 1715l2-9M599 1706l2-1M593 1706l2 3 3 1 2 1 3-4M583 1708l2 4M608 1710M578 1706l3 4 2 4M608 1716l3-8M572 1705l2 5 3 4M614 1712M593 1707l2 3 3 1 2 1 3-3M581 1708l3 2 2 5M609 1706M575 1707l3 5M613 1708M571 1707l3 4M616 1707"/>
<path class="p" style="marker:url(#s5)" d="M594 1694l3 1 2 2 3-2M582 1693l3 3 2 3 3 5M605 1704M575 1695l3 4 2 5M610 1701l3-8M568 1695l2 4 3 4M615 1702M567 1696l2 5M617 1702M591 1694l3 2 2 2 3 2 2-1 3-6M582 1696l2 3 3 3M607 1700M577 1697l2 3 3 4M609 1702M570 1696l2 5M615 1702l2-9M568 1697l2 4M618 1695M586 1693l3 2 2 4 3 4 2 1M604 1698M585 1696l3 5 2 2M605 1700M575 1698l3 1 2 5M610 1700M571 1693l2 5 3 2M613 1698M567 1696l2 4M617 1702M593 1695l3 2 2 1 3 1 2-4M583 1693l2 4 3 2 2 5M605 1702M574 1694l2 4 3 4M611 1697M570 1698l3 4M615 1700M564 1694l2 4 3 5M619 1698M543 1695"/>
<path class="p" style="marker:url(#s6)" d="M587 1684l2 4 3 2M604 1688M575 1682l2 3 3 3M607 1692M568 1682l2 6 3 3M615 1683M563 1685l2 4M618 1692l2-9M559 1684l3 5 2 3M619 1692l3-8M584 1684l2 3 3 4M606 1683M574 1684l3 3 2 3M609 1688M569 1683l3 5 2 3M612 1692l2-8M562 1684l3 3 2 4M620 1685M560 1684l3 4 2 3M620 1688M581 1685l3 4M606 1688M578 1685l2 3 3 4M608 1690M568 1683l2 6 3 3M613 1692l2-9M566 1685l2 4M616 1691l2-9M559 1684l3 4 2 3M619 1693l3-8M586 1686l2 3 3 3M606 1685M578 1685l2 5M608 1689M569 1684l2 6M614 1689M563 1685l2 4 3 4M618 1690M559 1685l2 5M621 1688l3-5"/>
<path class="p" style="marker:url(#s7)" d="M579 1674l3 3 2 4M607 1677M570 1674l2 3M610 1681l2-10M560 1670l3 4 2 4M618 1675M555 1672l3 5 2 4M623 1676M552 1671l2 5 3 2M624 1677M576 1673l3 3 2 3M567 1671l2 5 3 3M612 1678M562 1671l2 4 3 4M617 1676M555 1672l2 4 3 3M622 1676M553 1673l2 3 3 5M623 1679l2-7M574 1674l2 3 3 4M609 1675M570 1673l3 4 2 3M610 1678M560 1672l3 3 2 5M618 1675M558 1673l3 5 2 3M621 1673M552 1673l2 3 3 4M624 1676M578 1674l3 4 2 3M608 1672M570 1671l3 7 2 2M610 1679M561 1674l3 3 2 4M616 1680l3-9M555 1673l3 3 2 4M620 1681l3-7M551 1672l3 4 2 5M626 1675M543 1681"/>
<path class="p" style="marker:url(#s8)" d="M569 1660l3 4 2 3 3 3M609 1664M562 1662l3 4 2 3M615 1662M553 1659l2 5 3 3M620 1666M548 1662l2 3 3 4M625 1669l3-7M547 1664l2 3M627 1670l2-6M569 1662l2 6 3 1M609 1669M559 1661l3 4 2 4M614 1669l3-8M552 1659l2 2 3 4 2 3M619 1666l3-7M547 1660l3 4 2 4M625 1669l2-7M548 1665l2 3M628 1666l2-7M566 1662l3 4 2 4M611 1664M563 1661l2 5 3 3M613 1669l2-8M553 1660l2 4 3 4M620 1665M548 1661l3 1 2 5 3 2M623 1665M547 1664l2 5M627 1670l2-6 3-5M568 1661l3 2 2 3 3 4M611 1660M563 1662l2 3 3 4M613 1669l2-8M551 1661l3 1 2 3 3 3M621 1663M548 1662l2 4 3 3M625 1667l3-7M546 1665l3 3M629 1670l2-7"/>
<path class="p" style="marker:url(#s9)" d="M562 1650l2 3 3 3M612 1652M550 1648l2 2 3 4 2 1 3 4M617 1655M548 1654l2 3M623 1658l2-6M630 1656l3-7M632 1657l2-5M559 1649l2 3 3 3 2 3M611 1658l3-9M549 1650l3 2 2 2 3 3M619 1654M547 1653l2 2M624 1652M630 1656l2-6M633 1654l2-6M556 1649l3 3 2 2 3 4M614 1656M550 1648l3 1 2 3 3 3 2 3M618 1653M548 1656l2 1M623 1658l2-7M546 1658M626 1658l2-6M634 1652M558 1648l3 1 2 4 3 4M613 1650M553 1648l2 4 3 2 2 4M618 1653M546 1653l3 3M624 1656l2-6M630 1656l3-8M634 1658l2-5"/>
<path class="p" style="marker:url(#s10)" d="M547 1638l2 0 3 2 2 3 3 1 2 2M614 1644l3-7M547 1645M620 1647l2-7M628 1645l2-6M635 1643l3-5M637 1646l2-7M546 1640l3 0 2 2 3 3 2 1M616 1642M547 1647M622 1646l2-5M627 1645l2-6M635 1644l2-6M638 1641M546 1641l3 1 2 2 3 2M616 1647l3-6M548 1646M620 1646l3-7M628 1646l2-7M631 1646l2-7M637 1647l2-5M548 1638l3 3 2 0 3 2M616 1643M548 1644l2 3M620 1645l3-7M629 1642l2-6M635 1642M639 1647l2-8"/>
<path class="p" style="marker:url(#s11)" d="M619 1630M625 1633l2-7M633 1631l2-6M640 1630M642 1633M619 1634l2-6M627 1631l2-5M632 1631l2-6M640 1630M640 1635l3-8M621 1634l3-7M625 1631M633 1630M636 1633l2-8M642 1633l2-8M618 1635l3-5M625 1631l3-6M634 1629M638 1636l2-8M644 1630"/>
<path class="p" style="marker:url(#s12)" d="M622 1623l2-7M630 1618M638 1617M643 1622M644 1624M624 1622l2-8M632 1618M637 1617M642 1623l3-9M645 1617M626 1621M628 1624l2-8M635 1624l3-8M641 1619M647 1616M623 1622l3-7M630 1617M636 1621l3-7M643 1620l2-7M646 1620"/>
<path class="p" style="marker:url(#s13)" d="M627 1609M632 1610M640 1608M645 1612l3-9M647 1613l2-10M629 1607M634 1609M639 1609l3-7M647 1603M648 1608M629 1612l2-7M633 1609M640 1609M643 1610M649 1604M628 1608M633 1609M641 1606M649 1610"/>
<path class="p" style="marker:url(#s14)" d="M629 1601l3-8M635 1601l2-8M643 1600l2-9M650 1594M652 1594M631 1598M637 1601l2-9M644 1592M650 1593M650 1597M634 1595M635 1600l3-7M643 1601l2-10M646 1601M652 1596M631 1599M635 1601l3-10M644 1597M648 1600l2-9M651 1601l3-8"/>
<path class="p" style="marker:url(#s15)" d="M634 1585M640 1585M648 1581M653 1584M654 1587l3-5M634 1589l2-9M642 1584M647 1581M652 1586M653 1589l2-6M636 1586M640 1583M648 1581M648 1590l3-10M654 1588l3-6M633 1589l3-8M640 1584M646 1586M653 1582M656 1586l3-5"/>
<path class="p" style="marker:url(#s16)" d="M637 1574M642 1576M650 1573M655 1578l3-4 2-5M659 1577l3-5 2-3M639 1570M644 1576M649 1571M655 1578l2-5 3-4M658 1578l2-4 3-4M639 1578l2-10M643 1574M650 1572M653 1573l3-5M659 1577l3-5 2-3M638 1571M643 1574M649 1578l2-9M655 1577l3-4 2-5M661 1578l3-5 2-2"/>
<path class="p" style="marker:url(#s17)" d="M639 1564M645 1566l2-10M653 1565l2-5M663 1564l2-2 3-4 2-1M667 1566l2-4 3-1 2-3 3-2M641 1563M647 1565l2-9M652 1564l2-5M662 1566l3-5 2-3 3-2M665 1567l3-5 2-3 3-3M644 1558M645 1564M653 1565l2-6M658 1563l3-3M667 1566l2-3 3-2 2-3M641 1562M645 1564M654 1562l2-3M663 1564l2-3 3-3M669 1566l2-2 3-1 2-3 3-4"/>
<path class="p" style="marker:url(#s18)" d="M642 1555l2-10M650 1548M658 1555l2-4 3-2 2-3M673 1553l2-1 3-1 2-3 3-3M679 1554l3-3 2-2 3-1 2-2 3 0M644 1552M652 1550M657 1555l2-4 3-4M672 1553l3-2 2-2 3-3 2-1M675 1554l3-2 2-2 3-3 2-1 3-2M646 1548M648 1555l2-9M658 1555l2-4 3-2 2-3M663 1555l3-1 2-3 3-5 2-1M677 1555l2-2 3-3 2-1 3-2 2-2 3-1M643 1552M648 1554l2-8M659 1553l2-3 3-2 2-3M670 1556l3-2 2-3 3-2 2-2M681 1556l3-3 2-2 3-1 2-1 3-2"/>
<path class="p" style="marker:url(#s19)" d="M647 1534M652 1542l3-4 2-4M668 1543l2-3 3-2 2-3 3-1M685 1544l3-2 2 0 3-2M646 1541l3-8M654 1544l3-3 2-5 3-2M664 1543l3-1 2-2 3-3 2-1M685 1543l2-1 3-3 2 0M690 1542l3-1M649 1540l2-7M653 1540l2-3 3-4M668 1543l2-2 3-2 2-2 3-2 2-2M676 1543l2-1 3-2 2-4 3 0 2-2M646 1542M653 1540l2-3M669 1542l2-2 3-2 2-1 3-4M683 1543l2-1 3-2 2 0 3-2"/>
<path class="p" style="marker:url(#s20)" d="M649 1526M660 1531l2-3 3-3 2 0 3-3M680 1532l3-3 2 0 3-2 2-1 3-2M651 1527l3-4M664 1530l3-2 2-1 3-2 2-2M677 1533l2-2 3-2 2-2 3-1 2-1 3-2M654 1531l2-6 3-1M660 1529l3-2 2-3 3-2 2-1M683 1530l2-1 3-1 2-1 3-2M691 1532l2 0M648 1533l3-7 2-4M658 1533l2-4 3-2 2-3 3-1M681 1531l3-1 2 0 3-2 2 0 3-2"/>
<path class="p" style="marker:url(#s21)" d="M652 1521l2-3 3-3 2-3M672 1520l3-1 2-2 3-2 2-1 3 0 2-2 3-1M656 1520l3-4 2-1 3-2 2-3 3 0M677 1521l2-1 3-1 2-3 3-1 2-1 3 0M661 1521l3-1 2-5 3 0 2-3 3-1 2-1M673 1519l2-1 3-3 2-2 3 0 2-1M656 1519l2-3 3-2 2-3M670 1521l3-2 2-1 3-1 2-4 3 0 2 0 3-2M693 1510"/>
<path class="p" style="marker:url(#s22)" d="M662 1509l2-2 3-1 2-2 3-1 2-2 3 0 2-2M692 1510M671 1507l3-2 2 0 3-2 2-2 3-1 2 0 3-1 2 0M679 1510l2-2 3-3 2-1 3 0 2-1 3 0M688 1510l2-1 3-1M666 1510l2-3 3 0 2-3 3-1 2-2 3 0 2-2M690 1510"/>
<path class="p" style="marker:url(#s23)" d="M682 1497l2 0 3-1 2 0 3-2M694 1498M686 1497l2 0 3-1 2-1"/>
</g>
<g clip-path="url(#c7)">
<path class="p" style="marker:url(#s0)" d="M760 1744l0 6 0 14 0 9 0 29 11-61 0 5M812 1744l0 6"/>
<path class="p" style="marker:url(#s1)" d="M760 1739"/>
<path class="p" style="marker:url(#s2)" d="M805 1721l2 0M817 1725"/>
<path class="p" style="marker:url(#s3)" d="M796 1713l3 2 2 1 3 2 2-1 3 1 2-2 3-3M792 1713l3 2 2 3 3 1 2 2M810 1720l2-2 3-4M791 1712l3 2 2 3 3 1 2 1 3 1 2 0 3-2 2-2 3-1M794 1714l3 2 2 0 3 3 2 0 3 0 2-3 3-2 2-3M794 1713l2 3 3 2 2 2 3-2 2 2 3-1 2-2 3-3M790 1716M819 1716"/>
<path class="p" style="marker:url(#s4)" d="M807 1703l2 1 3-2M789 1704l2 4 3 3M816 1708l3-5M801 1702l3 2 2 1 3 2 2-1 3-3M785 1701l2 4 3 5M817 1710l3-5M803 1702l2 3 3 0 2 1 3-2M786 1702l3 6M816 1710l3-5M801 1702l3 3 2 3 3 0 2-2 3-4M787 1704l2 3 3 3M817 1707l2-4M805 1705l3 0 2 1 3-2M786 1704l3 3 2 3M816 1709l3-5M775 1706"/>
<path class="p" style="marker:url(#s5)" d="M806 1692l2 4 3 0 2-2M797 1693l2 3 3 1 2 3M814 1698M781 1692l3 3 2 6M821 1697M806 1694l3 2 2-1M791 1693l3 3 2 2 3 2M816 1695M780 1694l2 3M822 1699l3-4M806 1692l2 4 3-2 2-1M793 1692l2 3 3 3 2 1M815 1698M779 1692l2 3 3 4M821 1701l3-6M805 1695l2 3 3 1 2-1M791 1694l3 1 2 2 3 3M816 1696M779 1692l3 3 2 6M822 1699l2-6M808 1694l2-1 3 0M793 1692l2 3 3 2 2 1 3 3M815 1697M779 1693l2 2 3 4M821 1700l3-6M767 1696"/>
<path class="p" style="marker:url(#s6)" d="M808 1683l2 1 3-1M798 1682l3 3 2 3M816 1684M789 1684l3 3 2 4M817 1689M776 1686l3 3M824 1690l2-5M809 1683M799 1682l2 2 3 4M814 1690M786 1684l3 3M819 1686M772 1683l3 3 2 3M827 1689M808 1682l2 0M801 1684l2 3M785 1684l3 3 2 4M818 1689l2-7M774 1686l2 2M826 1689l3-6M807 1684l3 0 2 0M795 1683l2 2 3 4 2 2M815 1690M786 1687l3 2M819 1686M774 1685l3 3M827 1687M810 1683l2 0M803 1685l2 4M815 1684M785 1682l3 3 2 4M818 1687M774 1684l2 5M826 1689l3-6"/>
<path class="p" style="marker:url(#s7)" d="M805 1678M815 1672M788 1672l3 1 2 4 3 2M818 1673M779 1672l3 3 2 4 3 2M819 1681l3-7M769 1674l2 3 3 4M829 1679l2-6M804 1674l3 6M812 1681l2-7M791 1674l3 1 2 3M816 1679M776 1673l3 2 2 3 3 3M821 1678l3-6M767 1674l3 4M830 1682l2-7M805 1675M813 1681M791 1673l2 2 3 3 2 2M816 1682M775 1672l3 3 2 2 3 3M823 1675M766 1673l3 3 2 5M831 1676M805 1677M815 1676M787 1675l3 4 2 3M817 1680M776 1674l3 2 2 4 3 2M821 1680l3-7M767 1674l2 4 3 3M829 1680l3-6M805 1676l2 5M815 1674M793 1674l2 2 3 2 2 4M778 1675l2 2 3 2M820 1679M766 1673l3 4 2 4M831 1676"/>
<path class="p" style="marker:url(#s8)" d="M798 1663l2 3 3 4M781 1663l2 2 3 2M821 1664M769 1663l3 2 2 3 3 2M824 1666M764 1668l2 2M834 1665M799 1663l3 4M784 1665l2 2 3 3M819 1667M769 1663l2 4 3 3M826 1665M762 1667l3 4M835 1667M800 1664l3 5M815 1671M781 1663l2 2 3 1 2 4M818 1669M770 1665l3 3M825 1667M764 1669M834 1669M797 1664l3 3 2 4M777 1663l3 3 2 2 3 4M820 1671M769 1665l2 3 3 2M826 1665M762 1667l2 4M834 1665M797 1663l3 2 2 5M783 1663l2 3 3 2 2 3M818 1670M768 1663l2 2 3 2 2 4M823 1671l2-6M764 1669M834 1668"/>
<path class="p" style="marker:url(#s9)" d="M790 1655l3 3 2 2M818 1656M771 1655l2 1 3 3 2 3M823 1655M762 1655l2 3 3 2M827 1657M836 1657M789 1654l3 1 2 2 3 3M817 1660M771 1653l3 3 2 1 3 3 2 2M821 1659M764 1658l2 2M829 1658M837 1659M790 1653l3 2 2 3 3 3M818 1655M773 1656l3 2 2 2M821 1660M763 1657l2 4 3 1M828 1661M836 1661M787 1655l3 1 2 3 3 3M817 1659M767 1654l3 2 2 3 3 2M822 1662l3-8M764 1660l2 1M829 1658M837 1658M790 1655l2 2 3 3M817 1658M773 1654l2 2 3 3 2 3M820 1661l3-8M763 1657l2 1M828 1656M836 1661M843 1655l2-2"/>
<path class="p" style="marker:url(#s10)" d="M775 1645l3 0 2 3 3 1 2 1 3 3M820 1644M763 1650l3 0 2 2M826 1646M829 1650M839 1648M774 1644l3 0 2 1 3 2 2 2 3 1M819 1646M764 1647l2 3 3 2M824 1648M831 1649M840 1650M778 1644l2 1 3 1 2 3 3 2M763 1647l3 3 2 2 3 0M823 1651M830 1652l3-6M839 1652l2-9M775 1645l2 0 3 4 2 1 3 2M820 1647M762 1649l3 3M827 1645M831 1650M839 1649M775 1643l2 2 3 0 2 3 3 2 2 3M820 1644M763 1647l2 2 3 2 2 1M825 1644M830 1651M839 1651l2-8M848 1649l2-5"/>
<path class="p" style="marker:url(#s11)" d="M763 1638l2 2 3 0 2 1 3 1M823 1633M828 1638M832 1641l2-7M841 1638M762 1639l2 0 3 1 2 1 3 1M822 1636M826 1641M834 1641M842 1642l3-7M763 1637l2 1 3 1 2 1 3 1 2 2M820 1643M826 1643l2-8M835 1636M844 1635M762 1639l3 1 2 0 3 2 2 1M822 1637M830 1638M834 1642M842 1642l2-9M762 1639l3-1 2 2 3 1 2 2M822 1636M828 1636M833 1642M844 1635M853 1640l2-7"/>
<path class="p" style="marker:url(#s12)" d="M825 1625M831 1629M837 1625M844 1631M824 1627M829 1631l2-7M836 1632M847 1627M823 1631M831 1627M838 1628M846 1628M825 1628M832 1629M836 1632l3-8M847 1626M825 1625M830 1627M835 1632l3-8M846 1627"/>
<path class="p" style="marker:url(#s13)" d="M828 1616M833 1621M839 1617M846 1623l3-7M827 1616M834 1615M839 1623l2-9M850 1618M825 1623M833 1618M840 1619M849 1620M827 1619M835 1620M841 1615M849 1619M827 1615M833 1618M840 1616M849 1619M858 1623"/>
<path class="p" style="marker:url(#s14)" d="M830 1606M836 1612M842 1606M851 1607M829 1607M836 1605M844 1606M852 1610M828 1613M836 1608M843 1610M851 1611l3-6M830 1609M837 1609M844 1607M852 1609M830 1607M835 1609M843 1606M851 1612"/>
<path class="p" style="marker:url(#s15)" d="M833 1596M838 1602M844 1598M854 1599M832 1598M839 1596M846 1597M855 1602M830 1603M838 1599M845 1602M856 1595M832 1599M840 1602M846 1598M854 1601M832 1597M838 1599M845 1597M854 1603"/>
<path class="p" style="marker:url(#s16)" d="M835 1585M841 1593M847 1589M856 1591M834 1589M841 1586M849 1589M857 1594M833 1593l2-8M841 1590M848 1592M859 1587M835 1590M842 1593M849 1590M857 1592M835 1588M840 1590M848 1589M856 1594l3-8"/>
<path class="p" style="marker:url(#s17)" d="M838 1576M843 1584M849 1582M859 1582M837 1579M844 1577M851 1580M860 1584M843 1581M850 1584l3-7M861 1576M837 1580M845 1583M851 1581M859 1583M837 1576M843 1581M850 1582"/>
<path class="p" style="marker:url(#s18)" d="M840 1566M846 1574l2-7M852 1573l2-7M861 1571M839 1569M846 1570M854 1572M862 1572M838 1573M846 1572M855 1568M840 1570M847 1575l3-9M854 1574l2-9M862 1572M840 1567M845 1572M853 1573M861 1574"/>
<path class="p" style="marker:url(#s19)" d="M843 1556M851 1558M857 1556M864 1561M842 1560M849 1560M856 1564l3-8M865 1562l2-5M840 1564M848 1563M858 1560M864 1565l2-9M842 1560M852 1557M859 1556M864 1562M842 1558M848 1564l2-8M855 1565l3-9M864 1564l2-8"/>
<path class="p" style="marker:url(#s20)" d="M845 1547M853 1549M859 1549M866 1553l3-6M844 1550M851 1550M861 1548M870 1551l2-5M843 1554M851 1553M860 1552M869 1551l2-4M845 1551M855 1549M861 1548M867 1554l2-5M845 1549M853 1546M860 1548M869 1550"/>
<path class="p" style="marker:url(#s21)" d="M848 1538M856 1540M862 1540M871 1544l3-4 2-3M847 1540M854 1543M864 1539M875 1543l2-2 3-5M845 1544M853 1545l3-9M863 1543M874 1543l2-4 3-2M847 1541M857 1542M864 1540M872 1545l2-4 3-3M847 1539M855 1538M863 1541M871 1546l3-3 2-4 3-2"/>
<path class="p" style="marker:url(#s22)" d="M850 1530M858 1532l3-6M864 1534l3-5M879 1535l2-4 3-1 2-3 3-1M849 1532M856 1534l3-8M866 1533l3-4M882 1536l3-3 2-1 3-3 2-2 3-1M848 1536l2-9M858 1528M865 1536l3-6M881 1536l3-4 2-2 3-1 2-2M850 1533M860 1534l2-6M866 1534l3-4 2-3M879 1535l3-1 2-2 3-4 2-1M850 1530M858 1530M865 1534l3-5M881 1534l3-2 2-2 3-2 2-2"/>
<path class="p" style="marker:url(#s23)" d="M853 1522M863 1521M869 1523l3-2 2-4M891 1524l3-2 2-1 3-2 2 0 3-1 2 0 3-1M852 1522M861 1522l3-5M871 1525l3-2 2-2 3-4M897 1525l3-2 2-1 3-2 2 1 3-1M853 1518M861 1524l2-6M870 1526l3-3 2-2 3-2M894 1526l2-2 3-2 2-1 3-1 2 0 3-2M852 1524l3-7M865 1521M874 1523l2-3 3-2M892 1526l2-1 3-3 2-1 3 0 2-2 3-1 2 0M852 1522M860 1524l3-7M870 1525l3-4 2-2 3-2M894 1525l2-1 3-3 2-1 3 1 2-2 3 0"/>
<path class="p" style="marker:url(#s24)" d="M855 1512M866 1515l2-4 3-4M877 1515l2-2 3-3 2 0 3-2M854 1513M866 1512l3-3M881 1514l3 0 2-2 3-2 2 0 3-1 2-2M855 1510M866 1512l2-4M880 1515l3-2 2-1 3-2 2-1 3-1M857 1509M867 1516l3-2 2-3 3-3M881 1515l3-1 2-1 3-1 2-1 3-2 2-1M855 1513M865 1512l3-4M880 1514l3-1 2-2 3-2 2-1"/>
<path class="p" style="marker:url(#s25)" d="M858 1503l2-3M873 1505l3-2 2-2 3-2 2-1M889 1506l3-1 2-1 3-1 2-1 3-1 2 0 3 0 2 0M857 1506l2-7M871 1506l3-4 2-2 3-3M899 1506l2 0 3-1 2-1 3 0M858 1501M871 1506l2-3 3-3 2-1M895 1506l3 0 2-1 3-1 2 0 3-1M860 1503l2-4M877 1506l3-3 2 0 3-2 2-1 3-1 2-2 3 1M899 1507l2 0 3-2 2 0 3-1M857 1505l3-4M870 1505l3-2 2-2 3-3M893 1507l2-1 3-1 2-2 3 0 2 0 3-2"/>
<path class="p" style="marker:url(#s26)" d="M863 1496l2-4 3-2 2-2M886 1496l2-1 3 0 2-3 3 0 2-2 3 1 2-1 3 1 2-1M862 1497l2-4 3-3M881 1497l3-2 2-1 3-2 2 0 3-1 2 0 3-1 2-1 3-1 2 0 3 0M860 1497l3-3 2-3 3-2M881 1496l2-1 3-1 2-1 3 0 2-1 3-1 2-2 3 1 2-2 3 0 2 0M865 1494l2-2 3-3M897 1496l3-2 2 0 3 0 2 0 3-1M862 1497l3-4 2-3 3-3M880 1497l3-3 2 0 3-1 2-2 3-1 2-1 3 0 2-1 3 0M908 1488"/>
<path class="p" style="marker:url(#s27)" d="M873 1485l2 0 3-2 2-2 3-1 2-1M869 1486l3 0 2-4 3-2 2-1M870 1485l3-2 2-2 3-2 2-1 3 0M872 1487l3-3 2 0 3-2 2-1 3-1 2-1 3 0M872 1485l3-2 2-1 3-2 2-1 3-1M905 1486"/>
<path class="p" style="marker:url(#s28)" d="M888 1477l2-1 3 0 2-1 3-1 2 1 3-1 2 0 3-1M882 1478l2-1 3 0 2-1 3 0 2-2 3-1 2 0 3-1 2 1 3-1 2 0M885 1476l3-1 2 1 3-2 2 0 3 0 2 0 3-2 2 0 3 0M892 1477l3 0 2-1 3-1 2 1 3-2 2 1 3 0M887 1477l3 0 2-1 3 0 2-1 3-1 2-1 3 1 2-1 3 1"/>
</g>
<rect x="143.5" y="3.6" width="748.5" height="815.4" class="fr"/>
<rect x="102.9" y="1010.1" width="166.2" height="365.3" class="fr"/>
<rect x="319.4" y="1010.1" width="166.2" height="365.3" class="fr"/>
<rect x="535.9" y="1010.1" width="166.2" height="365.3" class="fr"/>
<rect x="752.4" y="1010.1" width="166.2" height="365.3" class="fr"/>
<rect x="102.9" y="1456.1" width="166.2" height="365.3" class="fr"/>
<rect x="319.4" y="1456.1" width="166.2" height="365.3" class="fr"/>
<rect x="535.9" y="1456.1" width="166.2" height="365.3" class="fr"/>
<rect x="752.4" y="1456.1" width="166.2" height="365.3" class="fr"/>
<text x="125.2" y="122.8" class="tk" text-anchor="end" textLength="36.5" lengthAdjust="spacingAndGlyphs">0.15</text>
<text x="125.2" y="251.9" class="tk" text-anchor="end" textLength="36.5" lengthAdjust="spacingAndGlyphs">0.10</text>
<text x="125.2" y="381.0" class="tk" text-anchor="end" textLength="36.5" lengthAdjust="spacingAndGlyphs">0.05</text>
<text x="125.2" y="510.0" class="tk" text-anchor="end" textLength="36.5" lengthAdjust="spacingAndGlyphs">0.00</text>
<text x="125.2" y="639.1" class="tk" text-anchor="end" textLength="52.5" lengthAdjust="spacingAndGlyphs">−0.05</text>
<text x="125.2" y="768.2" class="tk" text-anchor="end" textLength="52.5" lengthAdjust="spacingAndGlyphs">−0.10</text>
<text x="198.9" y="848.4" class="tk" text-anchor="middle" textLength="9.5" lengthAdjust="spacingAndGlyphs">0</text>
<text x="298.8" y="848.4" class="tk" text-anchor="middle" textLength="9.5" lengthAdjust="spacingAndGlyphs">5</text>
<text x="398.7" y="848.4" class="tk" text-anchor="middle" textLength="20.0" lengthAdjust="spacingAndGlyphs">10</text>
<text x="498.6" y="848.4" class="tk" text-anchor="middle" textLength="20.0" lengthAdjust="spacingAndGlyphs">15</text>
<text x="598.5" y="848.4" class="tk" text-anchor="middle" textLength="20.0" lengthAdjust="spacingAndGlyphs">20</text>
<text x="698.4" y="848.4" class="tk" text-anchor="middle" textLength="20.0" lengthAdjust="spacingAndGlyphs">25</text>
<text x="798.3" y="848.4" class="tk" text-anchor="middle" textLength="20.0" lengthAdjust="spacingAndGlyphs">30</text>
<text x="517.5" y="878.5" class="lA" text-anchor="middle" textLength="203" lengthAdjust="spacingAndGlyphs">Time (minutes)</text>
<text transform="translate(56.8 414.4) rotate(-90)" class="lA" text-anchor="middle" textLength="148" lengthAdjust="spacingAndGlyphs">Color Delta</text>
<text x="904" y="926.8" class="big">A</text>
<text x="946.5" y="1904" class="big">B</text>
<text x="186.0" y="1000.7" class="ti" text-anchor="middle" textLength="110.0" lengthAdjust="spacingAndGlyphs">0 copies</text>
<text x="186.0" y="1400.1" class="lB" text-anchor="middle" textLength="151" lengthAdjust="spacingAndGlyphs">Time (minutes)</text>
<text transform="translate(16.7 1196.1) rotate(-90)" class="lB" text-anchor="middle" textLength="111" lengthAdjust="spacingAndGlyphs">Color Delta</text>
<text x="85.2" y="1075.8" class="tk" text-anchor="end" textLength="36.5" lengthAdjust="spacingAndGlyphs">0.10</text>
<text x="85.2" y="1138.1" class="tk" text-anchor="end" textLength="36.5" lengthAdjust="spacingAndGlyphs">0.05</text>
<text x="85.2" y="1200.5" class="tk" text-anchor="end" textLength="36.5" lengthAdjust="spacingAndGlyphs">0.00</text>
<text x="85.2" y="1262.9" class="tk" text-anchor="end" textLength="52.0" lengthAdjust="spacingAndGlyphs">−0.05</text>
<text x="85.2" y="1325.3" class="tk" text-anchor="end" textLength="52.0" lengthAdjust="spacingAndGlyphs">−0.10</text>
<text x="402.5" y="1000.7" class="ti" text-anchor="middle" textLength="144.6" lengthAdjust="spacingAndGlyphs">244 copies</text>
<text x="402.5" y="1400.1" class="lB" text-anchor="middle" textLength="151" lengthAdjust="spacingAndGlyphs">Time (minutes)</text>
<text transform="translate(304.8 1196.1) rotate(-90)" class="lB" text-anchor="middle" textLength="111" lengthAdjust="spacingAndGlyphs">Color Delta</text>
<text x="619.0" y="1000.7" class="ti" text-anchor="middle" textLength="144.6" lengthAdjust="spacingAndGlyphs">488 copies</text>
<text x="619.0" y="1400.1" class="lB" text-anchor="middle" textLength="151" lengthAdjust="spacingAndGlyphs">Time (minutes)</text>
<text transform="translate(521.3 1196.1) rotate(-90)" class="lB" text-anchor="middle" textLength="111" lengthAdjust="spacingAndGlyphs">Color Delta</text>
<text x="835.5" y="1000.7" class="ti" text-anchor="middle" textLength="144.6" lengthAdjust="spacingAndGlyphs">977 copies</text>
<text x="835.5" y="1400.1" class="lB" text-anchor="middle" textLength="151" lengthAdjust="spacingAndGlyphs">Time (minutes)</text>
<text transform="translate(737.8 1196.1) rotate(-90)" class="lB" text-anchor="middle" textLength="111" lengthAdjust="spacingAndGlyphs">Color Delta</text>
<text x="186.0" y="1446.7" class="ti" text-anchor="middle" textLength="161.8" lengthAdjust="spacingAndGlyphs">1953 copies</text>
<text x="186.0" y="1877.6" class="lB" text-anchor="middle" textLength="151" lengthAdjust="spacingAndGlyphs">Time (minutes)</text>
<text transform="translate(16.7 1642.1) rotate(-90)" class="lB" text-anchor="middle" textLength="111" lengthAdjust="spacingAndGlyphs">Color Delta</text>
<text x="85.2" y="1521.8" class="tk" text-anchor="end" textLength="36.5" lengthAdjust="spacingAndGlyphs">0.10</text>
<text x="85.2" y="1584.1" class="tk" text-anchor="end" textLength="36.5" lengthAdjust="spacingAndGlyphs">0.05</text>
<text x="85.2" y="1646.5" class="tk" text-anchor="end" textLength="36.5" lengthAdjust="spacingAndGlyphs">0.00</text>
<text x="85.2" y="1708.9" class="tk" text-anchor="end" textLength="52.0" lengthAdjust="spacingAndGlyphs">−0.05</text>
<text x="85.2" y="1771.3" class="tk" text-anchor="end" textLength="52.0" lengthAdjust="spacingAndGlyphs">−0.10</text>
<text x="110.8" y="1851.5" class="tk" text-anchor="middle" textLength="9.5" lengthAdjust="spacingAndGlyphs">0</text>
<text x="210.8" y="1851.5" class="tk" text-anchor="middle" textLength="20.0" lengthAdjust="spacingAndGlyphs">20</text>
<text x="402.5" y="1446.7" class="ti" text-anchor="middle" textLength="144.4" lengthAdjust="spacingAndGlyphs">1E4 copies</text>
<text x="402.5" y="1877.6" class="lB" text-anchor="middle" textLength="151" lengthAdjust="spacingAndGlyphs">Time (minutes)</text>
<text transform="translate(304.8 1642.1) rotate(-90)" class="lB" text-anchor="middle" textLength="111" lengthAdjust="spacingAndGlyphs">Color Delta</text>
<text x="327.3" y="1851.5" class="tk" text-anchor="middle" textLength="9.5" lengthAdjust="spacingAndGlyphs">0</text>
<text x="427.3" y="1851.5" class="tk" text-anchor="middle" textLength="20.0" lengthAdjust="spacingAndGlyphs">20</text>
<text x="619.0" y="1446.7" class="ti" text-anchor="middle" textLength="144.4" lengthAdjust="spacingAndGlyphs">1E5 copies</text>
<text x="619.0" y="1877.6" class="lB" text-anchor="middle" textLength="151" lengthAdjust="spacingAndGlyphs">Time (minutes)</text>
<text transform="translate(521.3 1642.1) rotate(-90)" class="lB" text-anchor="middle" textLength="111" lengthAdjust="spacingAndGlyphs">Color Delta</text>
<text x="543.8" y="1851.5" class="tk" text-anchor="middle" textLength="9.5" lengthAdjust="spacingAndGlyphs">0</text>
<text x="643.8" y="1851.5" class="tk" text-anchor="middle" textLength="20.0" lengthAdjust="spacingAndGlyphs">20</text>
<text x="835.5" y="1446.7" class="ti" text-anchor="middle" textLength="144.4" lengthAdjust="spacingAndGlyphs">1E6 copies</text>
<text x="835.5" y="1877.6" class="lB" text-anchor="middle" textLength="151" lengthAdjust="spacingAndGlyphs">Time (minutes)</text>
<text transform="translate(737.8 1642.1) rotate(-90)" class="lB" text-anchor="middle" textLength="111" lengthAdjust="spacingAndGlyphs">Color Delta</text>
<text x="760.3" y="1851.5" class="tk" text-anchor="middle" textLength="9.5" lengthAdjust="spacingAndGlyphs">0</text>
<text x="860.3" y="1851.5" class="tk" text-anchor="middle" textLength="20.0" lengthAdjust="spacingAndGlyphs">20</text>
</svg>
</body></html>
